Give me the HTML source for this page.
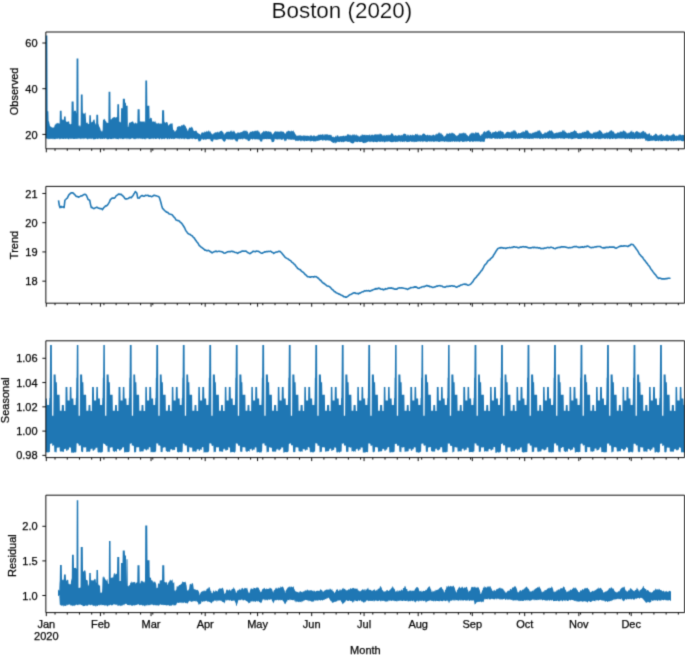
<!DOCTYPE html>
<html><head><meta charset="utf-8"><title>Boston (2020)</title>
<style>html,body{margin:0;padding:0;background:#fff;width:685px;height:655px;overflow:hidden}svg{display:block;will-change:transform}</style>
</head><body>
<svg width="685" height="655" viewBox="0 0 685 655">
<rect width="685" height="655" fill="#fff"/>
<defs>
<filter id="bl" x="0" y="0" width="685" height="655" filterUnits="userSpaceOnUse" color-interpolation-filters="sRGB"><feConvolveMatrix order="3" kernelMatrix="0.0225 0.1050 0.0225 0.1050 0.4900 0.1050 0.0225 0.1050 0.0225" divisor="1" edgeMode="none"/></filter>
<clipPath id="c0"><rect x="45.85" y="32.00" width="638.75" height="116.80"/></clipPath>
<clipPath id="c1"><rect x="45.85" y="186.40" width="638.75" height="116.80"/></clipPath>
<clipPath id="c2"><rect x="45.85" y="340.80" width="638.75" height="116.80"/></clipPath>
<clipPath id="c3"><rect x="45.85" y="495.20" width="638.75" height="117.40"/></clipPath>
</defs>
<g filter="url(#bl)">
<text x="341.9" y="18.2" font-family='"Liberation Sans", sans-serif' font-size="22.4" text-anchor="middle" fill="#000" stroke="#fff" stroke-width="0.2">Boston (2020)</text>
<path clip-path="url(#c0)" fill="#1f77b4" d="M45.85,35.50 L46.10,35.50 L46.35,35.50 L46.60,35.50 L46.85,35.50 L47.10,35.50 L47.35,35.50 L47.60,111.20 L47.85,111.20 L48.10,111.20 L48.35,111.20 L48.60,121.80 L48.85,120.91 L49.10,121.41 L49.35,123.21 L49.60,124.11 L49.85,125.58 L50.10,126.58 L50.35,126.30 L50.60,126.55 L50.85,126.53 L51.10,126.78 L51.35,127.00 L51.60,127.25 L51.85,127.46 L52.10,127.56 L52.35,127.74 L52.60,127.61 L52.85,127.58 L53.10,127.46 L53.35,127.41 L53.60,127.29 L53.85,127.87 L54.10,127.49 L54.35,126.42 L54.60,125.67 L54.85,124.65 L55.10,124.18 L55.35,124.73 L55.60,124.69 L55.85,123.42 L56.10,123.38 L56.35,123.25 L56.60,123.22 L56.85,123.90 L57.10,123.87 L57.35,122.92 L57.60,122.88 L57.85,122.83 L58.10,122.79 L58.35,123.52 L58.60,123.48 L58.85,123.37 L59.10,123.23 L59.35,123.67 L59.60,123.39 L59.85,110.70 L60.10,110.70 L60.35,110.70 L60.60,110.70 L60.85,110.70 L61.10,110.70 L61.35,110.70 L61.60,110.70 L61.85,119.39 L62.10,119.22 L62.35,119.51 L62.60,119.51 L62.85,120.31 L63.10,120.31 L63.35,119.52 L63.60,119.52 L63.85,119.79 L64.10,116.40 L64.35,116.40 L64.60,116.40 L64.85,116.40 L65.10,116.40 L65.35,116.40 L65.60,116.40 L65.85,120.92 L66.10,121.03 L66.35,122.01 L66.60,122.01 L66.85,121.42 L67.10,121.42 L67.35,121.96 L67.60,121.96 L67.85,121.62 L68.10,121.62 L68.35,121.79 L68.60,121.79 L68.85,120.75 L69.10,121.27 L69.35,123.29 L69.60,124.07 L69.85,124.01 L70.10,124.01 L70.35,124.59 L70.60,124.59 L70.85,123.78 L71.10,123.78 L71.35,124.16 L71.60,101.50 L71.85,101.50 L72.10,101.50 L72.35,101.50 L72.60,101.50 L72.85,101.50 L73.10,101.50 L73.35,101.50 L73.60,101.50 L73.85,112.51 L74.10,110.70 L74.35,110.70 L74.60,110.70 L74.85,110.70 L75.10,110.70 L75.35,110.70 L75.60,110.70 L75.85,110.70 L76.10,112.17 L76.35,113.81 L76.60,58.40 L76.85,58.40 L77.10,58.40 L77.35,58.40 L77.60,58.40 L77.85,58.40 L78.10,58.40 L78.35,58.40 L78.60,125.58 L78.85,125.84 L79.10,125.84 L79.35,125.35 L79.60,125.35 L79.85,126.75 L80.10,126.75 L80.35,125.54 L80.60,125.54 L80.85,94.60 L81.10,94.60 L81.35,94.60 L81.60,94.60 L81.85,94.60 L82.10,94.60 L82.35,94.60 L82.60,94.60 L82.85,112.69 L83.10,112.41 L83.35,113.55 L83.60,113.55 L83.85,113.71 L84.10,113.71 L84.35,113.65 L84.60,113.65 L84.85,113.11 L85.10,113.11 L85.35,112.43 L85.60,112.43 L85.85,117.01 L86.10,121.57 L86.35,122.92 L86.60,123.08 L86.85,122.65 L87.10,122.82 L87.35,122.39 L87.60,122.56 L87.85,123.85 L88.10,124.01 L88.35,123.79 L88.60,123.96 L88.85,124.01 L89.10,124.01 L89.35,115.30 L89.60,115.30 L89.85,115.30 L90.10,115.30 L90.35,115.30 L90.60,115.30 L90.85,115.30 L91.10,121.26 L91.35,122.60 L91.60,122.60 L91.85,121.95 L92.10,121.95 L92.35,122.08 L92.60,122.08 L92.85,120.72 L93.10,119.72 L93.35,120.40 L93.60,120.40 L93.85,119.24 L94.10,119.24 L94.35,119.80 L94.60,119.80 L94.85,121.75 L95.10,123.25 L95.35,123.40 L95.60,123.40 L95.85,124.75 L96.10,124.75 L96.35,114.70 L96.60,114.70 L96.85,114.70 L97.10,114.70 L97.35,114.70 L97.60,114.70 L97.85,114.70 L98.10,114.70 L98.35,123.75 L98.60,124.25 L98.85,125.27 L99.10,125.89 L99.35,126.67 L99.60,127.29 L99.85,127.39 L100.10,128.05 L100.35,129.01 L100.60,129.71 L100.85,130.80 L101.10,131.22 L101.35,131.45 L101.60,131.45 L101.85,130.24 L102.10,130.24 L102.35,131.49 L102.60,131.49 L102.85,122.88 L103.10,118.61 L103.35,119.80 L103.60,119.80 L103.85,119.90 L104.10,119.90 L104.35,118.82 L104.60,118.82 L104.85,119.27 L105.10,119.53 L105.35,120.81 L105.60,121.46 L105.85,120.83 L106.10,121.26 L106.35,122.35 L106.60,122.45 L106.85,122.81 L107.10,122.91 L107.35,122.56 L107.60,122.66 L107.85,123.10 L108.10,123.20 L108.35,122.50 L108.60,91.80 L108.85,91.80 L109.10,91.80 L109.35,91.80 L109.60,91.80 L109.85,91.80 L110.10,91.80 L110.35,91.80 L110.60,118.75 L110.85,119.72 L111.10,119.72 L111.35,119.12 L111.60,119.12 L111.85,118.74 L112.10,118.54 L112.35,117.93 L112.60,117.43 L112.85,118.02 L113.10,117.72 L113.35,116.91 L113.60,116.91 L113.85,117.77 L114.10,117.77 L114.35,117.02 L114.60,117.02 L114.85,117.03 L115.10,117.03 L115.35,117.63 L115.60,117.63 L115.85,117.39 L116.10,117.39 L116.35,117.13 L116.60,117.13 L116.85,116.88 L117.10,117.10 L117.35,104.30 L117.60,104.30 L117.85,104.30 L118.10,104.30 L118.35,104.30 L118.60,104.30 L118.85,104.30 L119.10,104.30 L119.35,121.69 L119.60,121.69 L119.85,121.83 L120.10,121.83 L120.35,122.52 L120.60,122.52 L120.85,121.40 L121.10,108.20 L121.35,108.20 L121.60,108.20 L121.85,108.20 L122.10,108.20 L122.35,108.20 L122.60,108.20 L122.85,98.80 L123.10,98.80 L123.35,98.80 L123.60,98.80 L123.85,98.80 L124.10,98.80 L124.35,98.80 L124.60,98.80 L124.85,98.80 L125.10,102.80 L125.35,102.80 L125.60,102.80 L125.85,102.80 L126.10,105.70 L126.35,105.70 L126.60,105.70 L126.85,105.70 L127.10,105.70 L127.35,105.70 L127.60,105.70 L127.85,126.97 L128.10,126.97 L128.35,126.77 L128.60,125.43 L128.85,123.95 L129.10,122.91 L129.35,122.90 L129.60,122.79 L129.85,122.12 L130.10,122.01 L130.35,122.95 L130.60,122.84 L130.85,121.94 L131.10,121.84 L131.35,121.99 L131.60,121.88 L131.85,121.78 L132.10,121.79 L132.35,121.26 L132.60,121.44 L132.85,121.44 L133.10,121.62 L133.35,122.37 L133.60,122.56 L133.85,123.31 L134.10,123.42 L134.35,123.48 L134.60,123.47 L134.85,123.32 L135.10,123.31 L135.35,122.31 L135.60,122.29 L135.85,123.56 L136.10,123.54 L136.35,123.35 L136.60,123.34 L136.85,123.45 L137.10,123.43 L137.35,122.85 L137.60,109.20 L137.85,109.20 L138.10,109.20 L138.35,109.20 L138.60,109.20 L138.85,109.20 L139.10,109.20 L139.35,109.20 L139.60,109.20 L139.85,121.40 L140.10,121.40 L140.35,121.40 L140.60,121.40 L140.85,121.30 L141.10,121.30 L141.35,121.91 L141.60,121.91 L141.85,121.06 L142.10,121.06 L142.35,121.94 L142.60,121.94 L142.85,121.27 L143.10,121.27 L143.35,122.08 L143.60,122.08 L143.85,121.03 L144.10,121.03 L144.35,121.50 L144.60,121.50 L144.85,122.50 L145.10,122.42 L145.35,80.50 L145.60,80.50 L145.85,80.50 L146.10,80.50 L146.35,80.50 L146.60,80.50 L146.85,80.50 L147.10,80.50 L147.35,105.70 L147.60,105.70 L147.85,105.70 L148.10,105.70 L148.35,105.70 L148.60,105.70 L148.85,105.70 L149.10,105.70 L149.35,105.70 L149.60,119.04 L149.85,118.87 L150.10,118.87 L150.35,117.58 L150.60,117.58 L150.85,118.04 L151.10,118.04 L151.35,118.01 L151.60,118.01 L151.85,119.23 L152.10,120.78 L152.35,121.60 L152.60,121.60 L152.85,121.88 L153.10,121.88 L153.35,121.10 L153.60,121.10 L153.85,121.98 L154.10,121.98 L154.35,121.88 L154.60,121.88 L154.85,120.81 L155.10,120.81 L155.35,121.83 L155.60,121.83 L155.85,122.96 L156.10,123.91 L156.35,122.82 L156.60,122.82 L156.85,123.42 L157.10,123.42 L157.35,123.52 L157.60,123.52 L157.85,123.47 L158.10,123.47 L158.35,122.65 L158.60,122.65 L158.85,123.56 L159.10,123.56 L159.35,123.51 L159.60,123.51 L159.85,123.82 L160.10,123.82 L160.35,123.79 L160.60,123.79 L160.85,123.02 L161.10,123.02 L161.35,123.66 L161.60,123.66 L161.85,123.89 L162.10,110.20 L162.35,110.20 L162.60,110.20 L162.85,110.20 L163.10,110.20 L163.35,110.20 L163.60,110.20 L163.85,110.20 L164.10,110.20 L164.35,121.84 L164.60,121.84 L164.85,122.40 L165.10,122.40 L165.35,123.01 L165.60,123.01 L165.85,122.11 L166.10,122.11 L166.35,121.90 L166.60,121.90 L166.85,122.23 L167.10,122.23 L167.35,122.55 L167.60,122.55 L167.85,123.85 L168.10,125.16 L168.35,125.61 L168.60,125.61 L168.85,125.21 L169.10,124.81 L169.35,124.66 L169.60,124.06 L169.85,124.33 L170.10,124.33 L170.35,123.60 L170.60,123.60 L170.85,123.59 L171.10,123.59 L171.35,123.86 L171.60,123.86 L171.85,123.34 L172.10,123.34 L172.35,123.40 L172.60,123.40 L172.85,127.28 L173.10,129.61 L173.35,130.01 L173.60,130.21 L173.85,129.81 L174.10,130.01 L174.35,131.28 L174.60,131.48 L174.85,131.41 L175.10,131.61 L175.35,131.36 L175.60,131.28 L175.85,130.42 L176.10,129.92 L176.35,130.52 L176.60,129.82 L176.85,127.81 L177.10,127.12 L177.35,126.90 L177.60,126.67 L177.85,126.44 L178.10,126.28 L178.35,126.11 L178.60,126.03 L178.85,127.27 L179.10,127.18 L179.35,126.08 L179.60,126.00 L179.85,125.97 L180.10,125.89 L180.35,126.65 L180.60,126.57 L180.85,126.14 L181.10,126.04 L181.35,125.20 L181.60,125.06 L181.85,125.32 L182.10,125.18 L182.35,125.76 L182.60,125.62 L182.85,124.66 L183.10,124.52 L183.35,124.92 L183.60,124.88 L183.85,124.01 L184.10,124.12 L184.35,125.25 L184.60,125.36 L184.85,125.55 L185.10,125.66 L185.35,125.85 L185.60,126.22 L185.85,126.73 L186.10,127.48 L186.35,127.74 L186.60,128.49 L186.85,128.75 L187.10,129.30 L187.35,130.28 L187.60,130.53 L187.85,131.16 L188.10,131.06 L188.35,129.53 L188.60,128.91 L188.85,128.40 L189.10,127.78 L189.35,127.58 L189.60,127.44 L189.85,127.75 L190.10,127.73 L190.35,127.94 L190.60,127.91 L190.85,126.66 L191.10,126.63 L191.35,126.70 L191.60,126.67 L191.85,127.63 L192.10,127.61 L192.35,127.34 L192.60,127.77 L192.85,128.44 L193.10,128.99 L193.35,129.98 L193.60,130.53 L193.85,130.99 L194.10,131.14 L194.35,131.04 L194.60,131.09 L194.85,131.03 L195.10,131.08 L195.35,130.52 L195.60,130.57 L195.85,131.02 L196.10,131.07 L196.35,130.39 L196.60,130.64 L196.85,131.86 L197.10,132.16 L197.35,132.45 L197.60,132.75 L197.85,132.99 L198.10,133.29 L198.35,133.15 L198.60,133.45 L198.85,133.65 L199.10,133.85 L199.35,134.09 L199.60,134.27 L199.85,133.83 L200.10,134.01 L200.35,135.37 L200.60,134.95 L200.85,134.05 L201.10,133.63 L201.35,132.97 L201.60,132.55 L201.85,132.47 L202.10,132.43 L202.35,132.66 L202.60,132.62 L202.85,132.04 L203.10,131.99 L203.35,132.67 L203.60,132.63 L203.85,132.73 L204.10,132.69 L204.35,131.79 L204.60,131.75 L204.85,131.30 L205.10,131.22 L205.35,132.13 L205.60,132.05 L205.85,132.34 L206.10,132.26 L206.35,130.82 L206.60,130.74 L206.85,131.56 L207.10,131.47 L207.35,131.57 L207.60,131.49 L207.85,131.59 L208.10,131.65 L208.35,130.43 L208.60,130.50 L208.85,130.51 L209.10,130.57 L209.35,132.07 L209.60,132.13 L209.85,130.85 L210.10,131.15 L210.35,131.54 L210.60,131.84 L210.85,132.78 L211.10,133.08 L211.35,133.17 L211.60,133.47 L211.85,134.26 L212.10,134.56 L212.35,133.87 L212.60,133.70 L212.85,134.70 L213.10,134.53 L213.35,133.25 L213.60,133.08 L213.85,133.81 L214.10,133.73 L214.35,132.52 L214.60,132.43 L214.85,133.00 L215.10,132.91 L215.35,132.12 L215.60,132.03 L215.85,132.40 L216.10,132.31 L216.35,132.22 L216.60,132.13 L216.85,132.70 L217.10,132.62 L217.35,132.11 L217.60,132.03 L217.85,131.31 L218.10,131.22 L218.35,132.64 L218.60,132.56 L218.85,132.31 L219.10,132.22 L219.35,132.18 L219.60,132.10 L219.85,130.99 L220.10,130.99 L220.35,131.23 L220.60,131.23 L220.85,130.96 L221.10,130.96 L221.35,130.80 L221.60,130.80 L221.85,130.65 L222.10,130.65 L222.35,131.63 L222.60,132.01 L222.85,131.77 L223.10,132.15 L223.35,132.61 L223.60,132.98 L223.85,134.45 L224.10,134.83 L224.35,134.22 L224.60,133.97 L224.85,133.24 L225.10,132.99 L225.35,133.52 L225.60,133.27 L225.85,132.38 L226.10,132.13 L226.35,132.29 L226.60,132.04 L226.85,131.53 L227.10,131.48 L227.35,131.81 L227.60,131.77 L227.85,131.91 L228.10,131.86 L228.35,131.67 L228.60,131.63 L228.85,131.36 L229.10,131.32 L229.35,131.91 L229.60,131.87 L229.85,131.97 L230.10,131.94 L230.35,130.80 L230.60,130.78 L230.85,130.68 L231.10,130.65 L231.35,130.59 L231.60,130.56 L231.85,131.92 L232.10,131.89 L232.35,131.80 L232.60,131.77 L232.85,130.61 L233.10,130.58 L233.35,131.74 L233.60,131.71 L233.85,130.46 L234.10,130.43 L234.35,131.29 L234.60,131.66 L234.85,132.02 L235.10,132.40 L235.35,133.44 L235.60,133.81 L235.85,132.79 L236.10,133.16 L236.35,133.45 L236.60,133.30 L236.85,133.61 L237.10,133.46 L237.35,132.46 L237.60,132.31 L237.85,132.43 L238.10,132.28 L238.35,132.49 L238.60,132.34 L238.85,132.95 L239.10,132.88 L239.35,132.63 L239.60,132.56 L239.85,132.61 L240.10,132.54 L240.35,132.37 L240.60,132.30 L240.85,132.16 L241.10,132.09 L241.35,132.25 L241.60,132.19 L241.85,131.86 L242.10,131.79 L242.35,131.82 L242.60,131.75 L242.85,130.97 L243.10,130.89 L243.35,130.60 L243.60,130.52 L243.85,131.38 L244.10,131.30 L244.35,130.27 L244.60,130.19 L244.85,131.32 L245.10,131.29 L245.35,130.81 L245.60,130.84 L245.85,130.45 L246.10,130.49 L246.35,131.50 L246.60,131.54 L246.85,130.33 L247.10,130.55 L247.35,131.62 L247.60,132.12 L247.85,131.95 L248.10,132.45 L248.35,134.34 L248.60,134.52 L248.85,133.58 L249.10,133.27 L249.35,133.32 L249.60,133.01 L249.85,131.86 L250.10,131.55 L250.35,132.07 L250.60,131.87 L250.85,131.69 L251.10,131.67 L251.35,131.55 L251.60,131.53 L251.85,131.99 L252.10,131.97 L252.35,131.12 L252.60,131.10 L252.85,131.04 L253.10,131.02 L253.35,131.44 L253.60,131.42 L253.85,131.62 L254.10,131.60 L254.35,130.78 L254.60,130.75 L254.85,131.27 L255.10,131.24 L255.35,130.48 L255.60,130.46 L255.85,130.98 L256.10,130.96 L256.35,131.28 L256.60,131.26 L256.85,130.11 L257.10,130.09 L257.35,131.13 L257.60,131.10 L257.85,129.94 L258.10,129.99 L258.35,131.68 L258.60,131.85 L258.85,131.24 L259.10,131.51 L259.35,131.81 L259.60,132.20 L259.85,133.09 L260.10,133.49 L260.35,133.57 L260.60,133.96 L260.85,134.69 L261.10,134.47 L261.35,133.06 L261.60,132.69 L261.85,133.08 L262.10,132.70 L262.35,132.32 L262.60,131.94 L262.85,132.17 L263.10,132.09 L263.35,130.66 L263.60,130.66 L263.85,131.32 L264.10,131.32 L264.35,131.61 L264.60,131.61 L264.85,131.48 L265.10,131.48 L265.35,130.72 L265.60,130.72 L265.85,131.55 L266.10,131.55 L266.35,130.96 L266.60,130.96 L266.85,130.91 L267.10,130.91 L267.35,132.01 L267.60,132.01 L267.85,130.92 L268.10,130.92 L268.35,131.33 L268.60,131.33 L268.85,131.80 L269.10,131.80 L269.35,131.73 L269.60,131.73 L269.85,131.49 L270.10,131.49 L270.35,131.89 L270.60,131.89 L270.85,131.42 L271.10,131.80 L271.35,132.42 L271.60,132.79 L271.85,133.49 L272.10,133.86 L272.35,134.01 L272.60,134.38 L272.85,134.55 L273.10,134.18 L273.35,133.42 L273.60,133.05 L273.85,132.92 L274.10,132.54 L274.35,131.91 L274.60,131.53 L274.85,131.79 L275.10,131.79 L275.35,131.21 L275.60,131.21 L275.85,131.35 L276.10,131.35 L276.35,131.81 L276.60,131.81 L276.85,131.41 L277.10,131.41 L277.35,131.14 L277.60,131.14 L277.85,131.92 L278.10,131.92 L278.35,131.21 L278.60,131.21 L278.85,131.95 L279.10,131.95 L279.35,131.86 L279.60,131.86 L279.85,131.32 L280.10,131.32 L280.35,131.74 L280.60,131.74 L280.85,130.66 L281.10,130.66 L281.35,131.22 L281.60,131.22 L281.85,131.98 L282.10,131.98 L282.35,131.53 L282.60,131.53 L282.85,131.49 L283.10,131.49 L283.35,131.66 L283.60,131.66 L283.85,131.98 L284.10,132.48 L284.35,132.83 L284.60,133.33 L284.85,133.57 L285.10,134.07 L285.35,133.63 L285.60,133.19 L285.85,132.93 L286.10,132.49 L286.35,132.06 L286.60,131.62 L286.85,131.40 L287.10,130.96 L287.35,131.70 L287.60,131.70 L287.85,130.66 L288.10,130.66 L288.35,130.82 L288.60,130.82 L288.85,130.69 L289.10,130.69 L289.35,131.03 L289.60,131.03 L289.85,131.62 L290.10,131.62 L290.35,131.52 L290.60,131.52 L290.85,130.70 L291.10,130.70 L291.35,130.53 L291.60,130.53 L291.85,131.52 L292.10,131.52 L292.35,130.89 L292.60,130.89 L292.85,131.20 L293.10,131.20 L293.35,130.22 L293.60,130.22 L293.85,131.80 L294.10,132.33 L294.35,131.97 L294.60,132.50 L294.85,133.31 L295.10,133.84 L295.35,133.89 L295.60,134.42 L295.85,134.85 L296.10,134.92 L296.35,135.65 L296.60,135.72 L296.85,135.80 L297.10,135.87 L297.35,135.38 L297.60,135.46 L297.85,135.94 L298.10,135.94 L298.35,135.46 L298.60,135.47 L298.85,135.34 L299.10,135.35 L299.35,135.63 L299.60,135.64 L299.85,135.09 L300.10,135.10 L300.35,135.30 L300.60,135.30 L300.85,135.94 L301.10,135.94 L301.35,136.05 L301.60,136.06 L301.85,134.93 L302.10,134.94 L302.35,136.03 L302.60,136.03 L302.85,136.18 L303.10,136.19 L303.35,135.60 L303.60,135.61 L303.85,135.00 L304.10,135.01 L304.35,136.01 L304.60,136.02 L304.85,135.33 L305.10,135.34 L305.35,135.98 L305.60,135.99 L305.85,135.57 L306.10,135.58 L306.35,136.00 L306.60,136.01 L306.85,135.41 L307.10,135.42 L307.35,135.78 L307.60,135.79 L307.85,135.87 L308.10,135.88 L308.35,136.06 L308.60,136.06 L308.85,135.39 L309.10,135.40 L309.35,136.62 L309.60,136.63 L309.85,135.56 L310.10,135.56 L310.35,135.59 L310.60,135.59 L310.85,135.51 L311.10,135.51 L311.35,135.21 L311.60,135.21 L311.85,135.78 L312.10,135.78 L312.35,136.33 L312.60,136.33 L312.85,136.24 L313.10,136.24 L313.35,135.41 L313.60,135.41 L313.85,135.32 L314.10,135.32 L314.35,135.61 L314.60,135.61 L314.85,136.33 L315.10,136.33 L315.35,135.88 L315.60,135.88 L315.85,136.58 L316.10,136.53 L316.35,135.98 L316.60,135.85 L316.85,135.67 L317.10,135.54 L317.35,135.65 L317.60,135.53 L317.85,135.38 L318.10,135.30 L318.35,134.65 L318.60,134.65 L318.85,134.51 L319.10,134.51 L319.35,134.80 L319.60,134.80 L319.85,134.88 L320.10,134.88 L320.35,134.33 L320.60,134.33 L320.85,134.81 L321.10,134.81 L321.35,135.12 L321.60,135.12 L321.85,134.32 L322.10,134.32 L322.35,134.32 L322.60,134.32 L322.85,134.38 L323.10,134.38 L323.35,134.55 L323.60,134.55 L323.85,135.64 L324.10,135.64 L324.35,134.14 L324.60,134.14 L324.85,134.39 L325.10,134.39 L325.35,134.36 L325.60,134.36 L325.85,134.86 L326.10,134.86 L326.35,134.12 L326.60,134.12 L326.85,134.83 L327.10,134.83 L327.35,134.36 L327.60,134.36 L327.85,134.53 L328.10,134.53 L328.35,135.37 L328.60,135.37 L328.85,134.39 L329.10,134.39 L329.35,135.09 L329.60,135.09 L329.85,134.75 L330.10,134.75 L330.35,134.77 L330.60,134.77 L330.85,135.41 L331.10,135.58 L331.35,134.75 L331.60,134.96 L331.85,136.40 L332.10,136.61 L332.35,136.78 L332.60,137.00 L332.85,136.85 L333.10,137.07 L333.35,136.29 L333.60,136.51 L333.85,137.62 L334.10,137.44 L334.35,137.15 L334.60,136.96 L334.85,137.05 L335.10,136.86 L335.35,135.78 L335.60,135.59 L335.85,136.63 L336.10,136.63 L336.35,136.52 L336.60,136.52 L336.85,135.28 L337.10,135.28 L337.35,135.60 L337.60,135.60 L337.85,135.15 L338.10,135.15 L338.35,136.43 L338.60,136.43 L338.85,136.56 L339.10,136.56 L339.35,136.68 L339.60,136.68 L339.85,136.08 L340.10,136.08 L340.35,136.17 L340.60,136.17 L340.85,136.19 L341.10,136.19 L341.35,136.01 L341.60,136.01 L341.85,136.62 L342.10,136.62 L342.35,136.07 L342.60,136.07 L342.85,135.64 L343.10,135.64 L343.35,135.92 L343.60,135.92 L343.85,135.13 L344.10,135.13 L344.35,136.26 L344.60,136.26 L344.85,136.19 L345.10,136.11 L345.35,135.58 L345.60,135.50 L345.85,136.10 L346.10,136.01 L346.35,135.77 L346.60,135.69 L346.85,134.93 L347.10,134.85 L347.35,134.34 L347.60,134.26 L347.85,134.31 L348.10,134.31 L348.35,134.39 L348.60,134.39 L348.85,134.59 L349.10,134.59 L349.35,134.82 L349.60,134.82 L349.85,135.58 L350.10,135.58 L350.35,134.55 L350.60,134.55 L350.85,135.54 L351.10,135.54 L351.35,135.19 L351.60,135.19 L351.85,135.47 L352.10,135.47 L352.35,134.75 L352.60,134.75 L352.85,134.11 L353.10,134.11 L353.35,135.36 L353.60,135.36 L353.85,134.49 L354.10,134.49 L354.35,134.33 L354.60,134.33 L354.85,135.38 L355.10,135.38 L355.35,135.20 L355.60,135.20 L355.85,134.44 L356.10,134.44 L356.35,134.53 L356.60,134.53 L356.85,135.70 L357.10,135.87 L357.35,134.96 L357.60,135.13 L357.85,135.99 L358.10,136.16 L358.35,135.41 L358.60,135.57 L358.85,136.84 L359.10,137.00 L359.35,136.05 L359.60,136.22 L359.85,136.77 L360.10,136.50 L360.35,135.47 L360.60,135.21 L360.85,135.77 L361.10,135.51 L361.35,135.72 L361.60,135.45 L361.85,134.24 L362.10,134.24 L362.35,134.54 L362.60,134.54 L362.85,135.32 L363.10,135.32 L363.35,135.07 L363.60,135.07 L363.85,134.60 L364.10,134.60 L364.35,135.11 L364.60,135.11 L364.85,134.83 L365.10,134.83 L365.35,135.48 L365.60,135.48 L365.85,134.57 L366.10,134.57 L366.35,135.31 L366.60,135.31 L366.85,135.12 L367.10,135.12 L367.35,135.28 L367.60,135.28 L367.85,134.71 L368.10,134.71 L368.35,135.26 L368.60,135.26 L368.85,135.22 L369.10,135.22 L369.35,134.72 L369.60,134.72 L369.85,134.14 L370.10,134.14 L370.35,135.64 L370.60,135.64 L370.85,135.24 L371.10,135.24 L371.35,134.43 L371.60,134.43 L371.85,135.27 L372.10,135.27 L372.35,134.55 L372.60,134.55 L372.85,134.85 L373.10,134.85 L373.35,135.48 L373.60,135.48 L373.85,134.82 L374.10,134.82 L374.35,134.56 L374.60,134.56 L374.85,134.59 L375.10,134.59 L375.35,134.22 L375.60,134.22 L375.85,134.45 L376.10,134.45 L376.35,134.53 L376.60,134.53 L376.85,134.38 L377.10,134.38 L377.35,134.20 L377.60,134.20 L377.85,134.85 L378.10,134.77 L378.35,134.18 L378.60,133.99 L378.85,134.64 L379.10,134.46 L379.35,134.56 L379.60,134.38 L379.85,133.15 L380.10,133.13 L380.35,133.83 L380.60,134.06 L380.85,134.18 L381.10,134.40 L381.35,133.94 L381.60,134.16 L381.85,134.46 L382.10,134.60 L382.35,135.82 L382.60,135.82 L382.85,135.16 L383.10,135.16 L383.35,135.69 L383.60,135.69 L383.85,134.51 L384.10,134.51 L384.35,135.35 L384.60,135.35 L384.85,135.78 L385.10,135.78 L385.35,135.79 L385.60,135.79 L385.85,134.41 L386.10,134.41 L386.35,135.23 L386.60,135.23 L386.85,134.99 L387.10,134.99 L387.35,135.62 L387.60,135.62 L387.85,134.52 L388.10,134.52 L388.35,134.82 L388.60,134.82 L388.85,135.70 L389.10,135.65 L389.35,134.97 L389.60,134.84 L389.85,134.69 L390.10,134.56 L390.35,135.25 L390.60,135.12 L390.85,133.95 L391.10,133.83 L391.35,133.25 L391.60,133.12 L391.85,133.55 L392.10,133.68 L392.35,133.49 L392.60,133.68 L392.85,133.75 L393.10,133.95 L393.35,134.91 L393.60,135.10 L393.85,135.91 L394.10,136.03 L394.35,135.43 L394.60,135.43 L394.85,135.54 L395.10,135.54 L395.35,135.02 L395.60,135.02 L395.85,135.41 L396.10,135.41 L396.35,135.70 L396.60,135.70 L396.85,135.44 L397.10,135.44 L397.35,135.78 L397.60,135.78 L397.85,135.38 L398.10,135.38 L398.35,134.82 L398.60,134.82 L398.85,135.43 L399.10,135.43 L399.35,135.29 L399.60,135.29 L399.85,134.77 L400.10,134.77 L400.35,135.49 L400.60,135.49 L400.85,135.81 L401.10,135.81 L401.35,134.72 L401.60,134.72 L401.85,135.37 L402.10,135.30 L402.35,135.44 L402.60,135.27 L402.85,134.57 L403.10,134.40 L403.35,134.02 L403.60,133.85 L403.85,133.84 L404.10,133.67 L404.35,133.77 L404.60,133.60 L404.85,133.74 L405.10,133.94 L405.35,133.94 L405.60,134.15 L405.85,133.63 L406.10,133.83 L406.35,135.18 L406.60,135.38 L406.85,135.76 L407.10,135.88 L407.35,134.56 L407.60,134.56 L407.85,134.80 L408.10,134.80 L408.35,134.68 L408.60,134.68 L408.85,135.76 L409.10,135.76 L409.35,135.86 L409.60,135.86 L409.85,134.47 L410.10,134.47 L410.35,134.93 L410.60,134.93 L410.85,134.71 L411.10,134.71 L411.35,135.15 L411.60,135.15 L411.85,135.87 L412.10,135.87 L412.35,134.51 L412.60,134.51 L412.85,134.67 L413.10,134.67 L413.35,135.18 L413.60,135.18 L413.85,135.24 L414.10,135.18 L414.35,135.40 L414.60,135.26 L414.85,134.63 L415.10,134.49 L415.35,133.88 L415.60,133.74 L415.85,133.94 L416.10,133.80 L416.35,134.67 L416.60,134.53 L416.85,134.21 L417.10,134.38 L417.35,133.54 L417.60,133.71 L417.85,134.99 L418.10,135.17 L418.35,134.55 L418.60,134.72 L418.85,135.65 L419.10,135.75 L419.35,134.51 L419.60,134.50 L419.85,135.86 L420.10,135.85 L420.35,134.71 L420.60,134.70 L420.85,135.16 L421.10,135.15 L421.35,135.46 L421.60,135.40 L421.85,135.01 L422.10,134.86 L422.35,134.16 L422.60,134.01 L422.85,133.82 L423.10,133.68 L423.35,133.76 L423.60,133.61 L423.85,133.28 L424.10,133.43 L424.35,133.84 L424.60,133.99 L424.85,134.01 L425.10,134.16 L425.35,134.85 L425.60,135.00 L425.85,134.98 L426.10,135.07 L426.35,135.43 L426.60,135.42 L426.85,134.92 L427.10,134.91 L427.35,134.51 L427.60,134.50 L427.85,134.97 L428.10,134.96 L428.35,135.63 L428.60,135.62 L428.85,134.81 L429.10,134.81 L429.35,135.04 L429.60,135.03 L429.85,135.58 L430.10,135.57 L430.35,135.01 L430.60,135.00 L430.85,135.76 L431.10,135.75 L431.35,135.79 L431.60,135.78 L431.85,134.80 L432.10,134.79 L432.35,135.47 L432.60,135.46 L432.85,134.68 L433.10,134.67 L433.35,134.48 L433.60,134.47 L433.85,134.94 L434.10,134.93 L434.35,135.19 L434.60,135.18 L434.85,135.70 L435.10,135.64 L435.35,134.23 L435.60,134.08 L435.85,134.84 L436.10,134.70 L436.35,134.17 L436.60,134.03 L436.85,133.33 L437.10,133.19 L437.35,134.39 L437.60,134.24 L437.85,133.65 L438.10,133.50 L438.35,132.45 L438.60,132.31 L438.85,133.62 L439.10,133.70 L439.35,132.48 L439.60,132.56 L439.85,132.61 L440.10,132.69 L440.35,133.14 L440.60,133.21 L440.85,134.26 L441.10,134.33 L441.35,132.96 L441.60,133.03 L441.85,134.52 L442.10,134.72 L442.35,134.60 L442.60,134.98 L442.85,134.48 L443.10,134.86 L443.35,136.03 L443.60,136.41 L443.85,136.61 L444.10,136.72 L444.35,136.59 L444.60,136.30 L444.85,136.29 L445.10,136.00 L445.35,135.61 L445.60,135.32 L445.85,135.54 L446.10,135.25 L446.35,133.61 L446.60,133.32 L446.85,134.08 L447.10,133.89 L447.35,133.21 L447.60,133.17 L447.85,133.73 L448.10,133.70 L448.35,133.83 L448.60,133.80 L448.85,133.92 L449.10,133.89 L449.35,132.69 L449.60,132.65 L449.85,132.92 L450.10,132.88 L450.35,133.63 L450.60,133.59 L450.85,133.56 L451.10,133.53 L451.35,132.58 L451.60,132.54 L451.85,133.41 L452.10,133.47 L452.35,132.70 L452.60,132.78 L452.85,132.82 L453.10,132.90 L453.35,133.59 L453.60,133.68 L453.85,133.30 L454.10,133.48 L454.35,133.75 L454.60,134.07 L454.85,134.28 L455.10,134.59 L455.35,134.98 L455.60,135.29 L455.85,135.14 L456.10,135.45 L456.35,135.64 L456.60,135.50 L456.85,136.36 L457.10,136.11 L457.35,135.55 L457.60,135.30 L457.85,135.23 L458.10,134.98 L458.35,134.93 L458.60,134.68 L458.85,133.52 L459.10,133.43 L459.35,133.40 L459.60,133.36 L459.85,133.38 L460.10,133.34 L460.35,133.34 L460.60,133.30 L460.85,133.99 L461.10,133.94 L461.35,133.28 L461.60,133.24 L461.85,133.12 L462.10,133.07 L462.35,133.53 L462.60,133.49 L462.85,132.73 L463.10,132.69 L463.35,132.52 L463.60,132.47 L463.85,133.38 L464.10,133.33 L464.35,133.39 L464.60,133.34 L464.85,132.62 L465.10,132.82 L465.35,133.58 L465.60,133.78 L465.85,133.03 L466.10,133.26 L466.35,134.13 L466.60,134.40 L466.85,134.95 L467.10,135.22 L467.35,134.97 L467.60,135.24 L467.85,135.67 L468.10,135.94 L468.35,136.52 L468.60,136.22 L468.85,135.88 L469.10,135.58 L469.35,134.59 L469.60,134.29 L469.85,134.87 L470.10,134.57 L470.35,133.27 L470.60,132.97 L470.85,134.14 L471.10,134.10 L471.35,132.83 L471.60,132.79 L471.85,132.83 L472.10,132.79 L472.35,132.66 L472.60,132.62 L472.85,133.84 L473.10,133.80 L473.35,132.63 L473.60,132.59 L473.85,133.06 L474.10,133.02 L474.35,133.59 L474.60,133.55 L474.85,133.45 L475.10,133.40 L475.35,131.91 L475.60,131.87 L475.85,132.59 L476.10,132.55 L476.35,132.64 L476.60,132.60 L476.85,132.75 L477.10,132.88 L477.35,132.43 L477.60,132.56 L477.85,132.68 L478.10,132.81 L478.35,132.42 L478.60,132.55 L478.85,132.88 L479.10,133.26 L479.35,134.46 L479.60,134.83 L479.85,134.45 L480.10,134.82 L480.35,135.40 L480.60,135.77 L480.85,135.91 L481.10,135.53 L481.35,134.74 L481.60,134.36 L481.85,133.92 L482.10,133.55 L482.35,134.61 L482.60,134.23 L482.85,133.07 L483.10,132.70 L483.35,131.95 L483.60,131.58 L483.85,132.21 L484.10,132.16 L484.35,131.00 L484.60,130.95 L484.85,131.28 L485.10,131.24 L485.35,132.34 L485.60,132.29 L485.85,132.15 L486.10,132.10 L486.35,131.64 L486.60,131.59 L486.85,130.68 L487.10,130.63 L487.35,130.95 L487.60,130.90 L487.85,130.39 L488.10,130.34 L488.35,130.61 L488.60,130.56 L488.85,130.20 L489.10,130.16 L489.35,130.49 L489.60,130.80 L489.85,131.93 L490.10,132.20 L490.35,131.57 L490.60,131.79 L490.85,132.10 L491.10,132.32 L491.35,133.74 L491.60,133.96 L491.85,133.02 L492.10,132.82 L492.35,132.62 L492.60,132.42 L492.85,131.83 L493.10,131.63 L493.35,132.57 L493.60,132.37 L493.85,132.15 L494.10,132.12 L494.35,131.88 L494.60,131.85 L494.85,131.93 L495.10,131.90 L495.35,131.04 L495.60,131.01 L495.85,131.24 L496.10,131.20 L496.35,131.69 L496.60,131.66 L496.85,132.22 L497.10,132.19 L497.35,131.94 L497.60,131.91 L497.85,131.59 L498.10,131.56 L498.35,131.34 L498.60,131.31 L498.85,130.47 L499.10,130.44 L499.35,131.81 L499.60,131.78 L499.85,130.43 L500.10,130.39 L500.35,130.46 L500.60,130.43 L500.85,131.30 L501.10,131.27 L501.35,131.43 L501.60,131.40 L501.85,131.61 L502.10,131.86 L502.35,131.57 L502.60,131.82 L502.85,131.63 L503.10,131.88 L503.35,131.91 L503.60,132.16 L503.85,133.71 L504.10,133.96 L504.35,134.41 L504.60,134.66 L504.85,133.29 L505.10,133.10 L505.35,133.89 L505.60,133.70 L505.85,132.76 L506.10,132.56 L506.35,132.22 L506.60,132.08 L506.85,132.36 L507.10,132.32 L507.35,131.49 L507.60,131.46 L507.85,132.12 L508.10,132.08 L508.35,131.66 L508.60,131.62 L508.85,132.40 L509.10,132.37 L509.35,132.00 L509.60,131.96 L509.85,132.51 L510.10,132.48 L510.35,132.48 L510.60,132.44 L510.85,131.48 L511.10,131.44 L511.35,131.35 L511.60,131.31 L511.85,132.33 L512.10,132.25 L512.35,131.44 L512.60,131.32 L512.85,130.55 L513.10,130.43 L513.35,130.23 L513.60,130.11 L513.85,131.50 L514.10,131.38 L514.35,130.60 L514.60,130.56 L514.85,129.80 L515.10,129.89 L515.35,130.91 L515.60,131.19 L515.85,131.47 L516.10,131.76 L516.35,131.94 L516.60,132.23 L516.85,133.34 L517.10,133.63 L517.35,133.91 L517.60,134.20 L517.85,132.95 L518.10,132.87 L518.35,132.83 L518.60,132.75 L518.85,133.08 L519.10,133.00 L519.35,133.60 L519.60,133.52 L519.85,133.10 L520.10,133.02 L520.35,133.11 L520.60,133.03 L520.85,132.71 L521.10,132.62 L521.35,131.96 L521.60,131.88 L521.85,132.77 L522.10,132.69 L522.35,131.32 L522.60,131.24 L522.85,132.26 L523.10,132.18 L523.35,131.29 L523.60,131.21 L523.85,131.57 L524.10,131.46 L524.35,132.14 L524.60,132.02 L524.85,131.21 L525.10,131.09 L525.35,130.20 L525.60,130.08 L525.85,130.55 L526.10,130.43 L526.35,130.68 L526.60,130.72 L526.85,129.84 L527.10,130.01 L527.35,130.61 L527.60,130.90 L527.85,130.81 L528.10,131.10 L528.35,132.22 L528.60,132.51 L528.85,132.54 L529.10,132.83 L529.35,133.32 L529.60,133.61 L529.85,133.20 L530.10,133.12 L530.35,133.63 L530.60,133.55 L530.85,132.70 L531.10,132.63 L531.35,133.73 L531.60,133.65 L531.85,133.66 L532.10,133.59 L532.35,132.77 L532.60,132.69 L532.85,132.57 L533.10,132.50 L533.35,133.06 L533.60,132.98 L533.85,132.00 L534.10,131.92 L534.35,132.67 L534.60,132.59 L534.85,131.69 L535.10,131.62 L535.35,132.24 L535.60,132.16 L535.85,131.47 L536.10,131.39 L536.35,131.74 L536.60,131.62 L536.85,132.02 L537.10,131.90 L537.35,130.38 L537.60,130.26 L537.85,131.35 L538.10,131.23 L538.35,130.68 L538.60,130.56 L538.85,130.22 L539.10,130.31 L539.35,130.34 L539.60,130.59 L539.85,130.43 L540.10,130.72 L540.35,131.31 L540.60,131.60 L540.85,132.47 L541.10,132.76 L541.35,132.21 L541.60,132.49 L541.85,133.70 L542.10,133.84 L542.35,134.23 L542.60,134.15 L542.85,134.10 L543.10,134.01 L543.35,133.79 L543.60,133.71 L543.85,133.49 L544.10,133.41 L544.35,132.33 L544.60,132.25 L544.85,133.43 L545.10,133.35 L545.35,132.04 L545.60,131.96 L545.85,132.95 L546.10,132.87 L546.35,132.80 L546.60,132.72 L546.85,132.23 L547.10,132.15 L547.35,131.91 L547.60,131.83 L547.85,131.23 L548.10,131.15 L548.35,131.56 L548.60,131.44 L548.85,130.95 L549.10,130.83 L549.35,130.45 L549.60,130.33 L549.85,130.21 L550.10,130.09 L550.35,131.05 L550.60,130.93 L550.85,131.13 L551.10,131.21 L551.35,130.08 L551.60,130.37 L551.85,130.46 L552.10,130.74 L552.35,131.43 L552.60,131.72 L552.85,131.80 L553.10,132.09 L553.35,132.47 L553.60,132.76 L553.85,133.68 L554.10,133.68 L554.35,133.35 L554.60,133.28 L554.85,133.22 L555.10,133.15 L555.35,132.73 L555.60,132.66 L555.85,133.32 L556.10,133.25 L556.35,132.58 L556.60,132.51 L556.85,132.62 L557.10,132.55 L557.35,132.58 L557.60,132.51 L557.85,133.15 L558.10,133.08 L558.35,131.96 L558.60,131.89 L558.85,132.57 L559.10,132.51 L559.35,131.78 L559.60,131.71 L559.85,132.58 L560.10,132.51 L560.35,131.64 L560.60,131.57 L560.85,131.68 L561.10,131.61 L561.35,132.08 L561.60,131.96 L561.85,131.52 L562.10,131.40 L562.35,130.35 L562.60,130.23 L562.85,130.18 L563.10,130.06 L563.35,131.31 L563.60,131.19 L563.85,129.73 L564.10,129.81 L564.35,130.45 L564.60,130.74 L564.85,132.08 L565.10,132.37 L565.35,131.15 L565.60,131.44 L565.85,131.96 L566.10,132.25 L566.35,132.62 L566.60,132.91 L566.85,132.92 L567.10,132.83 L567.35,133.36 L567.60,133.27 L567.85,133.38 L568.10,133.29 L568.35,132.77 L568.60,132.68 L568.85,132.25 L569.10,132.17 L569.35,133.20 L569.60,133.12 L569.85,133.02 L570.10,132.93 L570.35,132.45 L570.60,132.37 L570.85,131.60 L571.10,131.51 L571.35,132.07 L571.60,131.98 L571.85,132.04 L572.10,131.95 L572.35,131.54 L572.60,131.44 L572.85,132.01 L573.10,131.89 L573.35,131.02 L573.60,130.90 L573.85,130.97 L574.10,130.85 L574.35,130.09 L574.60,129.97 L574.85,130.57 L575.10,130.54 L575.35,130.94 L575.60,131.03 L575.85,131.26 L576.10,131.55 L576.35,131.08 L576.60,131.37 L576.85,132.83 L577.10,133.12 L577.35,132.97 L577.60,133.26 L577.85,133.07 L578.10,133.36 L578.35,133.42 L578.60,133.34 L578.85,133.85 L579.10,133.78 L579.35,132.74 L579.60,132.66 L579.85,133.33 L580.10,133.26 L580.35,133.31 L580.60,133.23 L580.85,132.84 L581.10,132.76 L581.35,133.26 L581.60,133.18 L581.85,132.46 L582.10,132.39 L582.35,132.31 L582.60,132.23 L582.85,131.87 L583.10,131.79 L583.35,132.73 L583.60,132.66 L583.85,131.62 L584.10,131.54 L584.35,132.08 L584.60,132.00 L584.85,131.47 L585.10,131.36 L585.35,132.08 L585.60,131.96 L585.85,131.86 L586.10,131.74 L586.35,130.15 L586.60,130.03 L586.85,131.46 L587.10,131.34 L587.35,130.59 L587.60,130.63 L587.85,129.87 L588.10,130.03 L588.35,131.00 L588.60,131.29 L588.85,130.86 L589.10,131.15 L589.35,132.24 L589.60,132.52 L589.85,132.23 L590.10,132.52 L590.35,133.10 L590.60,133.39 L590.85,133.21 L591.10,133.14 L591.35,133.54 L591.60,133.47 L591.85,133.74 L592.10,133.67 L592.35,133.78 L592.60,133.70 L592.85,132.65 L593.10,132.58 L593.35,132.89 L593.60,132.82 L593.85,131.84 L594.10,131.76 L594.35,132.28 L594.60,132.20 L594.85,133.07 L595.10,132.99 L595.35,131.57 L595.60,131.50 L595.85,132.62 L596.10,132.55 L596.35,132.13 L596.60,132.05 L596.85,131.40 L597.10,131.33 L597.35,132.02 L597.60,131.90 L597.85,131.00 L598.10,130.88 L598.35,131.73 L598.60,131.61 L598.85,130.19 L599.10,130.07 L599.35,130.01 L599.60,129.89 L599.85,130.82 L600.10,130.90 L600.35,130.50 L600.60,130.75 L600.85,130.56 L601.10,130.84 L601.35,131.72 L601.60,132.01 L601.85,131.95 L602.10,132.24 L602.35,132.93 L602.60,133.22 L602.85,133.82 L603.10,133.96 L603.35,134.06 L603.60,133.98 L603.85,132.62 L604.10,132.54 L604.35,133.31 L604.60,133.23 L604.85,133.78 L605.10,133.70 L605.35,132.78 L605.60,132.70 L605.85,133.11 L606.10,133.03 L606.35,131.87 L606.60,131.79 L606.85,132.96 L607.10,132.88 L607.35,132.33 L607.60,132.25 L607.85,132.66 L608.10,132.58 L608.35,132.33 L608.60,132.25 L608.85,132.30 L609.10,132.22 L609.35,130.82 L609.60,130.70 L609.85,131.63 L610.10,131.51 L610.35,130.56 L610.60,130.44 L610.85,130.43 L611.10,130.31 L611.35,130.29 L611.60,130.17 L611.85,130.60 L612.10,130.68 L612.35,130.86 L612.60,131.15 L612.85,131.92 L613.10,132.21 L613.35,131.03 L613.60,131.32 L613.85,131.90 L614.10,132.19 L614.35,132.74 L614.60,133.03 L614.85,134.05 L615.10,134.05 L615.35,133.54 L615.60,133.47 L615.85,133.33 L616.10,133.26 L616.35,133.58 L616.60,133.50 L616.85,133.26 L617.10,133.18 L617.35,132.52 L617.60,132.45 L617.85,132.05 L618.10,131.97 L618.35,132.49 L618.60,132.42 L618.85,133.01 L619.10,132.94 L619.35,132.41 L619.60,132.33 L619.85,131.39 L620.10,131.31 L620.35,131.85 L620.60,131.78 L620.85,131.61 L621.10,131.54 L621.35,131.78 L621.60,131.68 L621.85,131.57 L622.10,131.45 L622.35,131.91 L622.60,131.79 L622.85,130.69 L623.10,130.57 L623.35,130.56 L623.60,130.44 L623.85,130.65 L624.10,130.61 L624.35,131.13 L624.60,131.22 L624.85,131.17 L625.10,131.41 L625.35,131.27 L625.60,131.51 L625.85,132.30 L626.10,132.54 L626.35,132.25 L626.60,132.49 L626.85,133.50 L627.10,133.99 L627.35,133.17 L627.60,133.02 L627.85,132.63 L628.10,132.49 L628.35,133.47 L628.60,133.32 L628.85,132.33 L629.10,132.18 L629.35,132.92 L629.60,132.78 L629.85,132.25 L630.10,132.11 L630.35,131.80 L630.60,131.66 L630.85,130.84 L631.10,130.70 L631.35,131.67 L631.60,131.53 L631.85,130.23 L632.10,130.37 L632.35,132.00 L632.60,132.20 L632.85,132.26 L633.10,132.46 L633.35,131.74 L633.60,131.94 L633.85,131.86 L634.10,132.06 L634.35,133.48 L634.60,133.38 L634.85,132.57 L635.10,132.40 L635.35,131.67 L635.60,131.50 L635.85,131.93 L636.10,131.76 L636.35,131.19 L636.60,131.03 L636.85,131.12 L637.10,130.95 L637.35,131.16 L637.60,131.29 L637.85,131.94 L638.10,132.15 L638.35,132.17 L638.60,132.38 L638.85,131.57 L639.10,131.77 L639.35,132.49 L639.60,132.70 L639.85,132.86 L640.10,132.72 L640.35,133.37 L640.60,133.23 L640.85,131.64 L641.10,131.50 L641.35,132.03 L641.60,131.89 L641.85,132.39 L642.10,132.25 L642.35,131.28 L642.60,131.14 L642.85,130.78 L643.10,130.63 L643.35,131.03 L643.60,131.25 L643.85,131.08 L644.10,131.30 L644.35,132.48 L644.60,132.70 L644.85,131.56 L645.10,131.78 L645.35,132.19 L645.60,132.40 L645.85,132.42 L646.10,132.63 L646.35,133.85 L646.60,134.07 L646.85,133.56 L647.10,133.49 L647.35,134.40 L647.60,134.34 L647.85,134.27 L648.10,134.20 L648.35,134.21 L648.60,134.15 L648.85,133.05 L649.10,133.24 L649.35,133.02 L649.60,133.21 L649.85,134.03 L650.10,134.22 L650.35,135.33 L650.60,135.52 L650.85,135.39 L651.10,135.59 L651.35,134.65 L651.60,134.84 L651.85,136.00 L652.10,135.89 L652.35,136.11 L652.60,136.00 L652.85,135.96 L653.10,135.85 L653.35,135.33 L653.60,135.21 L653.85,135.33 L654.10,135.22 L654.35,135.07 L654.60,134.95 L654.85,134.07 L655.10,133.95 L655.35,133.42 L655.60,133.30 L655.85,134.34 L656.10,134.46 L656.35,133.64 L656.60,133.77 L656.85,134.29 L657.10,134.41 L657.35,135.52 L657.60,135.64 L657.85,135.07 L658.10,135.20 L658.35,135.26 L658.60,135.38 L658.85,136.00 L659.10,135.82 L659.35,134.57 L659.60,134.38 L659.85,135.34 L660.10,135.15 L660.35,134.82 L660.60,134.63 L660.85,133.78 L661.10,133.95 L661.35,134.06 L661.60,134.22 L661.85,134.07 L662.10,134.24 L662.35,135.67 L662.60,135.83 L662.85,134.83 L663.10,135.00 L663.35,134.88 L663.60,135.05 L663.85,136.49 L664.10,136.42 L664.35,135.89 L664.60,135.83 L664.85,135.88 L665.10,135.82 L665.35,135.85 L665.60,135.79 L665.85,134.62 L666.10,134.55 L666.35,134.57 L666.60,134.50 L666.85,135.09 L667.10,135.03 L667.35,134.24 L667.60,134.18 L667.85,134.99 L668.10,135.07 L668.35,135.53 L668.60,135.61 L668.85,135.57 L669.10,135.65 L669.35,135.67 L669.60,135.75 L669.85,134.92 L670.10,135.01 L670.35,135.40 L670.60,135.48 L670.85,136.37 L671.10,136.20 L671.35,134.80 L671.60,134.63 L671.85,135.12 L672.10,134.95 L672.35,134.01 L672.60,133.85 L672.85,135.10 L673.10,134.94 L673.35,133.54 L673.60,133.37 L673.85,133.92 L674.10,134.09 L674.35,134.47 L674.60,134.64 L674.85,135.08 L675.10,135.25 L675.35,135.77 L675.60,135.93 L675.85,135.78 L676.10,135.94 L676.35,135.49 L676.60,135.66 L676.85,135.13 L677.10,135.03 L677.35,135.95 L677.60,135.86 L677.85,136.19 L678.10,136.09 L678.35,134.47 L678.60,134.38 L678.85,135.50 L679.10,135.40 L679.35,134.35 L679.60,134.26 L679.85,134.62 L680.10,134.52 L680.35,134.53 L680.60,134.44 L680.85,134.64 L681.10,134.70 L681.35,135.35 L681.60,135.41 L681.85,134.98 L682.10,135.04 L682.35,134.63 L682.60,134.68 L682.85,135.26 L683.10,135.31 L683.35,134.97 L683.60,135.03 L683.85,135.00 L684.10,135.06 L684.35,135.04 L684.60,135.09 L684.60,140.37 L684.35,140.37 L684.10,140.74 L683.85,140.74 L683.60,141.26 L683.35,141.26 L683.10,141.36 L682.85,141.36 L682.60,141.23 L682.35,141.23 L682.10,141.25 L681.85,141.25 L681.60,140.90 L681.35,140.90 L681.10,140.82 L680.85,140.82 L680.60,140.50 L680.35,140.50 L680.10,140.29 L679.85,140.29 L679.60,140.45 L679.35,140.45 L679.10,141.20 L678.85,141.20 L678.60,140.43 L678.35,140.43 L678.10,140.20 L677.85,140.20 L677.60,140.51 L677.35,140.51 L677.10,140.85 L676.85,140.85 L676.60,141.03 L676.35,141.03 L676.10,141.00 L675.85,141.00 L675.60,140.49 L675.35,140.49 L675.10,141.05 L674.85,141.05 L674.60,140.72 L674.35,140.72 L674.10,140.95 L673.85,140.95 L673.60,141.25 L673.35,141.25 L673.10,141.27 L672.85,141.27 L672.60,140.27 L672.35,140.27 L672.10,141.30 L671.85,141.30 L671.60,140.95 L671.35,140.95 L671.10,141.33 L670.85,141.33 L670.60,141.05 L670.35,141.05 L670.10,140.34 L669.85,140.34 L669.60,140.22 L669.35,140.22 L669.10,141.11 L668.85,141.11 L668.60,140.96 L668.35,140.96 L668.10,141.39 L667.85,141.39 L667.60,140.71 L667.35,140.71 L667.10,141.17 L666.85,141.17 L666.60,141.05 L666.35,141.05 L666.10,140.51 L665.85,140.51 L665.60,141.06 L665.35,141.06 L665.10,140.46 L664.85,140.46 L664.60,141.00 L664.35,141.00 L664.10,140.73 L663.85,140.73 L663.60,140.49 L663.35,140.49 L663.10,141.29 L662.85,141.29 L662.60,140.91 L662.35,140.91 L662.10,141.18 L661.85,141.18 L661.60,140.93 L661.35,140.93 L661.10,141.23 L660.85,141.23 L660.60,141.35 L660.35,141.35 L660.10,140.21 L659.85,140.21 L659.60,140.42 L659.35,140.42 L659.10,141.34 L658.85,141.34 L658.60,141.21 L658.35,141.21 L658.10,140.65 L657.85,140.65 L657.60,140.51 L657.35,140.51 L657.10,140.94 L656.85,140.94 L656.60,141.00 L656.35,141.00 L656.10,140.94 L655.85,140.94 L655.60,141.17 L655.35,141.17 L655.10,140.96 L654.85,140.96 L654.60,140.54 L654.35,140.54 L654.10,140.67 L653.85,140.67 L653.60,140.24 L653.35,140.24 L653.10,140.81 L652.85,140.81 L652.60,140.71 L652.35,140.71 L652.10,140.47 L651.85,140.47 L651.60,140.79 L651.35,140.79 L651.10,140.63 L650.85,140.63 L650.60,140.70 L650.35,140.70 L650.10,140.93 L649.85,140.93 L649.60,141.05 L649.35,141.05 L649.10,141.31 L648.85,141.31 L648.60,140.97 L648.35,140.97 L648.10,141.32 L647.85,141.32 L647.60,141.26 L647.35,141.26 L647.10,140.28 L646.85,140.28 L646.60,140.50 L646.35,140.50 L646.10,141.07 L645.85,141.07 L645.60,141.00 L645.35,140.12 L645.10,139.42 L644.85,139.07 L644.60,138.58 L644.35,138.58 L644.10,138.83 L643.85,138.83 L643.60,138.33 L643.35,138.33 L643.10,138.71 L642.85,138.71 L642.60,138.50 L642.35,138.50 L642.10,139.03 L641.85,139.03 L641.60,138.13 L641.35,138.13 L641.10,138.42 L640.85,138.42 L640.60,138.67 L640.35,138.67 L640.10,139.19 L639.85,139.19 L639.60,138.14 L639.35,138.14 L639.10,138.93 L638.85,138.93 L638.60,138.99 L638.35,138.99 L638.10,138.28 L637.85,138.28 L637.60,139.16 L637.35,139.16 L637.10,139.00 L636.85,139.00 L636.60,138.30 L636.35,138.30 L636.10,138.72 L635.85,138.72 L635.60,138.54 L635.35,138.54 L635.10,139.06 L634.85,139.06 L634.60,139.14 L634.35,139.14 L634.10,139.19 L633.85,139.19 L633.60,138.57 L633.35,138.57 L633.10,139.11 L632.85,139.11 L632.60,138.89 L632.35,138.89 L632.10,138.77 L631.85,138.77 L631.60,139.08 L631.35,139.08 L631.10,138.34 L630.85,138.34 L630.60,139.05 L630.35,139.05 L630.10,139.04 L629.85,139.04 L629.60,138.92 L629.35,138.92 L629.10,138.65 L628.85,138.65 L628.60,138.27 L628.35,138.27 L628.10,138.89 L627.85,138.89 L627.60,138.74 L627.35,138.74 L627.10,139.08 L626.85,139.08 L626.60,138.22 L626.35,138.22 L626.10,139.02 L625.85,139.02 L625.60,139.15 L625.35,139.15 L625.10,138.74 L624.85,138.74 L624.60,138.75 L624.35,138.75 L624.10,138.56 L623.85,138.56 L623.60,138.24 L623.35,138.24 L623.10,138.84 L622.85,138.84 L622.60,138.60 L622.35,138.60 L622.10,138.28 L621.85,138.28 L621.60,139.01 L621.35,139.01 L621.10,138.19 L620.85,138.19 L620.60,138.69 L620.35,138.69 L620.10,138.38 L619.85,138.38 L619.60,138.39 L619.35,138.39 L619.10,138.39 L618.85,138.39 L618.60,138.33 L618.35,138.33 L618.10,138.75 L617.85,138.75 L617.60,138.60 L617.35,138.60 L617.10,138.52 L616.85,138.52 L616.60,139.11 L616.35,139.11 L616.10,138.50 L615.85,138.50 L615.60,139.17 L615.35,139.17 L615.10,139.11 L614.85,139.11 L614.60,138.35 L614.35,138.35 L614.10,138.40 L613.85,138.40 L613.60,138.53 L613.35,138.53 L613.10,139.08 L612.85,139.08 L612.60,139.01 L612.35,139.00 L612.10,139.10 L611.85,139.10 L611.60,138.37 L611.35,138.37 L611.10,138.55 L610.85,138.55 L610.60,139.14 L610.35,139.14 L610.10,139.10 L609.85,139.10 L609.60,139.20 L609.35,139.20 L609.10,138.77 L608.85,138.77 L608.60,138.30 L608.35,138.30 L608.10,138.62 L607.85,138.62 L607.60,139.18 L607.35,139.18 L607.10,138.77 L606.85,138.77 L606.60,138.34 L606.35,138.34 L606.10,138.24 L605.85,138.23 L605.60,139.06 L605.35,139.06 L605.10,138.89 L604.85,138.88 L604.60,138.97 L604.35,138.97 L604.10,138.07 L603.85,138.07 L603.60,138.38 L603.35,138.38 L603.10,138.60 L602.85,138.60 L602.60,138.61 L602.35,138.60 L602.10,138.51 L601.85,138.51 L601.60,138.83 L601.35,138.83 L601.10,138.40 L600.85,138.40 L600.60,139.24 L600.35,139.24 L600.10,139.16 L599.85,139.16 L599.60,138.97 L599.35,138.97 L599.10,138.57 L598.85,138.57 L598.60,139.23 L598.35,139.23 L598.10,139.12 L597.85,139.12 L597.60,138.47 L597.35,138.47 L597.10,138.27 L596.85,138.27 L596.60,138.94 L596.35,138.94 L596.10,138.86 L595.85,138.86 L595.60,139.11 L595.35,139.11 L595.10,139.07 L594.85,139.07 L594.60,138.39 L594.35,138.39 L594.10,138.06 L593.85,138.06 L593.60,138.19 L593.35,138.19 L593.10,138.39 L592.85,138.39 L592.60,138.90 L592.35,138.90 L592.10,138.49 L591.85,138.48 L591.60,138.88 L591.35,138.88 L591.10,138.12 L590.85,138.12 L590.60,138.98 L590.35,138.98 L590.10,139.21 L589.85,139.21 L589.60,138.35 L589.35,138.35 L589.10,138.19 L588.85,138.19 L588.60,138.57 L588.35,138.57 L588.10,138.94 L587.85,138.94 L587.60,139.19 L587.35,139.19 L587.10,138.34 L586.85,138.34 L586.60,138.29 L586.35,138.29 L586.10,138.94 L585.85,138.94 L585.60,138.24 L585.35,138.24 L585.10,138.06 L584.85,138.05 L584.60,139.07 L584.35,139.07 L584.10,138.24 L583.85,138.24 L583.60,138.33 L583.35,138.33 L583.10,138.49 L582.85,138.49 L582.60,138.34 L582.35,138.34 L582.10,138.07 L581.85,138.07 L581.60,139.10 L581.35,139.10 L581.10,139.13 L580.85,139.13 L580.60,138.81 L580.35,138.81 L580.10,139.03 L579.85,139.03 L579.60,138.76 L579.35,138.76 L579.10,139.02 L578.85,139.02 L578.60,138.95 L578.35,138.95 L578.10,138.85 L577.85,138.85 L577.60,138.43 L577.35,138.43 L577.10,138.87 L576.85,138.87 L576.60,138.03 L576.35,138.03 L576.10,138.09 L575.85,138.09 L575.60,138.75 L575.35,138.75 L575.10,138.19 L574.85,138.19 L574.60,138.79 L574.35,138.79 L574.10,138.37 L573.85,138.37 L573.60,138.65 L573.35,138.65 L573.10,139.00 L572.85,139.00 L572.60,139.12 L572.35,139.12 L572.10,139.15 L571.85,139.15 L571.60,139.19 L571.35,139.19 L571.10,138.22 L570.85,138.22 L570.60,138.65 L570.35,138.65 L570.10,138.92 L569.85,138.92 L569.60,138.17 L569.35,138.17 L569.10,138.50 L568.85,138.50 L568.60,138.76 L568.35,138.76 L568.10,139.11 L567.85,139.11 L567.60,138.03 L567.35,138.03 L567.10,138.21 L566.85,138.21 L566.60,138.56 L566.35,138.56 L566.10,138.10 L565.85,138.10 L565.60,138.32 L565.35,138.32 L565.10,138.99 L564.85,138.99 L564.60,138.84 L564.35,138.84 L564.10,138.78 L563.85,138.78 L563.60,138.61 L563.35,138.61 L563.10,139.12 L562.85,139.12 L562.60,138.28 L562.35,138.28 L562.10,138.39 L561.85,138.39 L561.60,138.59 L561.35,138.59 L561.10,138.26 L560.85,138.26 L560.60,138.88 L560.35,138.88 L560.10,138.12 L559.85,138.12 L559.60,138.26 L559.35,138.26 L559.10,138.05 L558.85,138.05 L558.60,138.76 L558.35,138.75 L558.10,138.50 L557.85,138.50 L557.60,138.34 L557.35,138.34 L557.10,138.87 L556.85,138.87 L556.60,138.06 L556.35,138.06 L556.10,139.17 L555.85,139.17 L555.60,138.34 L555.35,138.34 L555.10,139.12 L554.85,139.12 L554.60,138.44 L554.35,138.44 L554.10,139.01 L553.85,139.01 L553.60,138.39 L553.35,138.39 L553.10,138.80 L552.85,138.80 L552.60,139.14 L552.35,139.14 L552.10,138.27 L551.85,138.27 L551.60,138.66 L551.35,138.65 L551.10,138.92 L550.85,138.92 L550.60,138.10 L550.35,138.10 L550.10,138.57 L549.85,138.57 L549.60,138.10 L549.35,138.09 L549.10,138.95 L548.85,138.95 L548.60,138.39 L548.35,138.39 L548.10,138.88 L547.85,138.88 L547.60,138.09 L547.35,138.09 L547.10,138.62 L546.85,138.62 L546.60,137.99 L546.35,137.99 L546.10,138.29 L545.85,138.29 L545.60,138.71 L545.35,138.71 L545.10,138.90 L544.85,138.90 L544.60,138.08 L544.35,138.07 L544.10,138.06 L543.85,138.06 L543.60,138.83 L543.35,138.83 L543.10,138.87 L542.85,138.87 L542.60,138.87 L542.35,138.87 L542.10,138.77 L541.85,138.77 L541.60,138.00 L541.35,138.00 L541.10,139.16 L540.85,139.16 L540.60,138.81 L540.35,138.81 L540.10,138.79 L539.85,138.79 L539.60,139.00 L539.35,139.00 L539.10,138.37 L538.85,138.37 L538.60,138.07 L538.35,138.07 L538.10,138.99 L537.85,138.99 L537.60,138.20 L537.35,138.20 L537.10,138.42 L536.85,138.42 L536.60,138.04 L536.35,138.04 L536.10,138.88 L535.85,138.88 L535.60,138.19 L535.35,138.19 L535.10,138.10 L534.85,138.09 L534.60,138.60 L534.35,138.60 L534.10,138.09 L533.85,138.09 L533.60,139.14 L533.35,139.14 L533.10,138.31 L532.85,138.31 L532.60,139.03 L532.35,139.03 L532.10,138.73 L531.85,138.73 L531.60,139.09 L531.35,139.09 L531.10,138.29 L530.85,138.29 L530.60,138.78 L530.35,138.78 L530.10,138.64 L529.85,138.64 L529.60,139.00 L529.35,138.99 L529.10,139.12 L528.85,139.12 L528.60,138.54 L528.35,138.54 L528.10,138.84 L527.85,138.83 L527.60,138.80 L527.35,138.80 L527.10,138.75 L526.85,138.75 L526.60,138.22 L526.35,138.22 L526.10,138.67 L525.85,138.67 L525.60,138.44 L525.35,138.44 L525.10,138.90 L524.85,138.90 L524.60,138.82 L524.35,138.82 L524.10,137.96 L523.85,137.96 L523.60,139.09 L523.35,139.09 L523.10,138.25 L522.85,138.25 L522.60,138.01 L522.35,138.01 L522.10,138.30 L521.85,138.30 L521.60,138.24 L521.35,138.24 L521.10,138.37 L520.85,138.37 L520.60,138.52 L520.35,138.52 L520.10,138.78 L519.85,138.78 L519.60,138.60 L519.35,138.60 L519.10,138.21 L518.85,138.21 L518.60,138.56 L518.35,138.56 L518.10,139.12 L517.85,139.12 L517.60,139.02 L517.35,139.02 L517.10,138.02 L516.85,138.02 L516.60,138.41 L516.35,138.41 L516.10,138.99 L515.85,138.99 L515.60,139.05 L515.35,139.05 L515.10,138.51 L514.85,138.51 L514.60,138.14 L514.35,138.14 L514.10,138.48 L513.85,138.48 L513.60,138.85 L513.35,138.85 L513.10,138.14 L512.85,138.14 L512.60,138.95 L512.35,138.95 L512.10,139.13 L511.85,139.13 L511.60,139.02 L511.35,139.02 L511.10,138.29 L510.85,138.28 L510.60,137.99 L510.35,137.99 L510.10,138.65 L509.85,138.65 L509.60,138.51 L509.35,138.51 L509.10,137.96 L508.85,137.96 L508.60,138.86 L508.35,138.86 L508.10,138.32 L507.85,138.32 L507.60,138.05 L507.35,138.05 L507.10,138.22 L506.85,138.22 L506.60,138.26 L506.35,138.26 L506.10,138.61 L505.85,138.61 L505.60,138.16 L505.35,138.16 L505.10,138.15 L504.85,138.15 L504.60,138.25 L504.35,138.25 L504.10,138.85 L503.85,138.85 L503.60,138.12 L503.35,138.12 L503.10,139.00 L502.85,139.00 L502.60,138.96 L502.35,138.96 L502.10,138.36 L501.85,138.36 L501.60,138.53 L501.35,138.53 L501.10,138.56 L500.85,138.56 L500.60,138.93 L500.35,138.93 L500.10,138.76 L499.85,138.76 L499.60,138.76 L499.35,138.76 L499.10,138.95 L498.85,138.95 L498.60,138.10 L498.35,138.10 L498.10,139.02 L497.85,139.02 L497.60,139.04 L497.35,139.04 L497.10,138.27 L496.85,138.27 L496.60,139.04 L496.35,139.04 L496.10,138.35 L495.85,138.35 L495.60,139.00 L495.35,139.00 L495.10,138.84 L494.85,138.84 L494.60,138.67 L494.35,138.67 L494.10,138.02 L493.85,138.02 L493.60,138.03 L493.35,138.03 L493.10,138.35 L492.85,138.34 L492.60,138.49 L492.35,138.49 L492.10,138.81 L491.85,138.81 L491.60,139.10 L491.35,139.10 L491.10,138.32 L490.85,138.32 L490.60,139.06 L490.35,139.06 L490.10,138.08 L489.85,138.08 L489.60,138.82 L489.35,138.82 L489.10,138.59 L488.85,138.59 L488.60,138.20 L488.35,138.20 L488.10,138.07 L487.85,138.07 L487.60,138.86 L487.35,138.86 L487.10,139.09 L486.85,139.09 L486.60,138.05 L486.35,138.05 L486.10,138.78 L485.85,138.78 L485.60,138.55 L485.35,138.55 L485.10,139.40 L484.85,140.65 L484.60,141.69 L484.35,141.69 L484.10,141.98 L483.85,141.98 L483.60,142.09 L483.35,142.09 L483.10,141.37 L482.85,141.37 L482.60,141.91 L482.35,141.91 L482.10,141.31 L481.85,141.31 L481.60,141.79 L481.35,141.79 L481.10,141.77 L480.85,141.77 L480.60,142.02 L480.35,142.03 L480.10,141.49 L479.85,141.49 L479.60,141.36 L479.35,141.36 L479.10,141.82 L478.85,141.82 L478.60,141.23 L478.35,141.23 L478.10,141.61 L477.85,141.61 L477.60,141.30 L477.35,141.30 L477.10,141.76 L476.85,141.76 L476.60,141.23 L476.35,141.23 L476.10,141.34 L475.85,141.34 L475.60,141.51 L475.35,141.51 L475.10,141.68 L474.85,141.68 L474.60,141.11 L474.35,141.11 L474.10,141.38 L473.85,141.38 L473.60,141.69 L473.35,141.69 L473.10,141.54 L472.85,141.54 L472.60,141.97 L472.35,141.97 L472.10,141.49 L471.85,141.49 L471.60,141.06 L471.35,141.06 L471.10,141.47 L470.85,141.47 L470.60,141.84 L470.35,141.84 L470.10,141.80 L469.85,141.80 L469.60,141.97 L469.35,141.97 L469.10,141.16 L468.85,141.16 L468.60,141.05 L468.35,141.05 L468.10,140.98 L467.85,140.98 L467.60,141.21 L467.35,141.21 L467.10,141.74 L466.85,141.74 L466.60,141.51 L466.35,141.52 L466.10,141.55 L465.85,141.55 L465.60,141.35 L465.35,141.35 L465.10,141.84 L464.85,141.84 L464.60,141.59 L464.35,141.59 L464.10,141.65 L463.85,141.65 L463.60,141.65 L463.35,141.65 L463.10,141.96 L462.85,141.96 L462.60,141.85 L462.35,141.85 L462.10,141.98 L461.85,141.98 L461.60,141.11 L461.35,141.11 L461.10,141.05 L460.85,141.05 L460.60,141.57 L460.35,141.57 L460.10,141.73 L459.85,141.73 L459.60,142.14 L459.35,142.14 L459.10,141.58 L458.85,141.58 L458.60,141.38 L458.35,141.38 L458.10,141.80 L457.85,141.80 L457.60,141.61 L457.35,141.61 L457.10,141.13 L456.85,141.13 L456.60,141.81 L456.35,141.81 L456.10,141.88 L455.85,141.88 L455.60,141.04 L455.35,141.04 L455.10,141.92 L454.85,141.92 L454.60,142.00 L454.35,142.00 L454.10,141.01 L453.85,141.01 L453.60,141.56 L453.35,141.56 L453.10,141.12 L452.85,141.12 L452.60,142.04 L452.35,142.04 L452.10,141.74 L451.85,141.74 L451.60,141.34 L451.35,141.34 L451.10,141.78 L450.85,141.78 L450.60,141.99 L450.35,141.99 L450.10,141.87 L449.85,141.87 L449.60,141.41 L449.35,141.41 L449.10,142.19 L448.85,142.19 L448.60,142.09 L448.35,142.09 L448.10,141.05 L447.85,141.05 L447.60,142.12 L447.35,142.13 L447.10,141.70 L446.85,141.70 L446.60,141.63 L446.35,141.63 L446.10,141.26 L445.85,141.26 L445.60,141.48 L445.35,141.48 L445.10,141.46 L444.85,141.46 L444.60,141.90 L444.35,141.90 L444.10,141.80 L443.85,141.80 L443.60,141.14 L443.35,141.14 L443.10,141.15 L442.85,141.15 L442.60,141.56 L442.35,141.56 L442.10,141.34 L441.85,141.34 L441.60,141.16 L441.35,141.16 L441.10,141.86 L440.85,141.86 L440.60,141.26 L440.35,141.26 L440.10,141.75 L439.85,141.75 L439.60,141.91 L439.35,141.91 L439.10,141.82 L438.85,141.82 L438.60,141.63 L438.35,141.63 L438.10,141.95 L437.85,141.95 L437.60,141.25 L437.35,141.25 L437.10,141.14 L436.85,141.14 L436.60,141.81 L436.35,141.81 L436.10,141.17 L435.85,141.18 L435.60,141.55 L435.35,141.55 L435.10,141.29 L434.85,141.29 L434.60,142.07 L434.35,142.07 L434.10,141.42 L433.85,141.42 L433.60,141.85 L433.35,141.85 L433.10,141.93 L432.85,141.93 L432.60,141.13 L432.35,141.13 L432.10,141.07 L431.85,141.07 L431.60,141.85 L431.35,141.85 L431.10,141.99 L430.85,141.99 L430.60,141.06 L430.35,141.06 L430.10,142.08 L429.85,142.08 L429.60,141.44 L429.35,141.44 L429.10,141.28 L428.85,141.28 L428.60,141.34 L428.35,141.34 L428.10,141.49 L427.85,141.49 L427.60,141.73 L427.35,141.73 L427.10,142.25 L426.85,142.25 L426.60,142.07 L426.35,142.07 L426.10,141.11 L425.85,141.11 L425.60,142.01 L425.35,142.01 L425.10,141.55 L424.85,141.55 L424.60,141.32 L424.35,141.32 L424.10,141.32 L423.85,141.32 L423.60,141.68 L423.35,141.68 L423.10,141.45 L422.85,141.45 L422.60,142.27 L422.35,142.27 L422.10,141.09 L421.85,141.09 L421.60,141.22 L421.35,141.22 L421.10,142.00 L420.85,142.00 L420.60,141.40 L420.35,141.40 L420.10,141.66 L419.85,141.66 L419.60,141.24 L419.35,141.24 L419.10,141.18 L418.85,141.18 L418.60,141.51 L418.35,141.51 L418.10,141.81 L417.85,141.81 L417.60,141.28 L417.35,141.28 L417.10,141.90 L416.85,141.90 L416.60,141.84 L416.35,141.84 L416.10,142.07 L415.85,142.08 L415.60,141.75 L415.35,141.75 L415.10,141.81 L414.85,141.81 L414.60,142.21 L414.35,142.21 L414.10,141.56 L413.85,141.56 L413.60,142.18 L413.35,142.18 L413.10,141.15 L412.85,141.16 L412.60,142.06 L412.35,142.06 L412.10,141.87 L411.85,141.87 L411.60,142.04 L411.35,142.05 L411.10,141.35 L410.85,141.35 L410.60,141.22 L410.35,141.22 L410.10,141.51 L409.85,141.51 L409.60,141.86 L409.35,141.86 L409.10,141.94 L408.85,141.95 L408.60,141.74 L408.35,141.74 L408.10,141.79 L407.85,141.79 L407.60,141.99 L407.35,141.99 L407.10,142.25 L406.85,142.25 L406.60,141.71 L406.35,141.71 L406.10,141.40 L405.85,141.40 L405.60,141.20 L405.35,141.20 L405.10,141.27 L404.85,141.27 L404.60,142.15 L404.35,142.15 L404.10,141.39 L403.85,141.39 L403.60,141.59 L403.35,141.59 L403.10,142.06 L402.85,142.06 L402.60,141.97 L402.35,141.98 L402.10,141.82 L401.85,141.82 L401.60,141.49 L401.35,141.49 L401.10,141.16 L400.85,141.16 L400.60,142.27 L400.35,142.27 L400.10,141.45 L399.85,141.45 L399.60,141.35 L399.35,141.35 L399.10,141.43 L398.85,141.43 L398.60,141.16 L398.35,141.16 L398.10,142.14 L397.85,142.14 L397.60,141.52 L397.35,141.52 L397.10,142.09 L396.85,142.09 L396.60,141.76 L396.35,141.76 L396.10,141.87 L395.85,141.87 L395.60,142.33 L395.35,142.33 L395.10,141.78 L394.85,141.78 L394.60,141.49 L394.35,141.50 L394.10,142.11 L393.85,142.11 L393.60,141.69 L393.35,141.69 L393.10,142.23 L392.85,142.24 L392.60,141.92 L392.35,141.92 L392.10,142.22 L391.85,142.22 L391.60,142.33 L391.35,142.33 L391.10,141.94 L390.85,141.95 L390.60,142.00 L390.35,142.00 L390.10,141.73 L389.85,141.73 L389.60,141.24 L389.35,141.24 L389.10,141.63 L388.85,141.63 L388.60,141.36 L388.35,141.37 L388.10,141.45 L387.85,141.45 L387.60,141.77 L387.35,141.77 L387.10,141.39 L386.85,141.39 L386.60,141.71 L386.35,141.71 L386.10,141.62 L385.85,141.62 L385.60,141.78 L385.35,141.78 L385.10,142.22 L384.85,142.22 L384.60,142.28 L384.35,142.28 L384.10,142.14 L383.85,142.14 L383.60,141.50 L383.35,141.50 L383.10,141.36 L382.85,141.36 L382.60,142.08 L382.35,142.08 L382.10,142.09 L381.85,142.09 L381.60,141.36 L381.35,141.37 L381.10,141.79 L380.85,141.79 L380.60,141.90 L380.35,141.90 L380.10,141.56 L379.85,141.56 L379.60,142.11 L379.35,142.11 L379.10,141.40 L378.85,141.40 L378.60,141.35 L378.35,141.35 L378.10,142.30 L377.85,142.30 L377.60,141.78 L377.35,141.78 L377.10,142.28 L376.85,142.28 L376.60,142.13 L376.35,142.13 L376.10,141.66 L375.85,141.66 L375.60,141.96 L375.35,141.96 L375.10,142.09 L374.85,142.09 L374.60,141.50 L374.35,141.50 L374.10,142.26 L373.85,142.26 L373.60,142.26 L373.35,142.26 L373.10,141.98 L372.85,141.98 L372.60,141.86 L372.35,141.86 L372.10,141.56 L371.85,141.56 L371.60,141.49 L371.35,141.49 L371.10,142.19 L370.85,142.19 L370.60,141.52 L370.35,141.52 L370.10,142.22 L369.85,142.22 L369.60,141.79 L369.35,141.79 L369.10,141.55 L368.85,141.55 L368.60,141.24 L368.35,141.24 L368.10,142.19 L367.85,142.19 L367.60,141.76 L367.35,141.89 L367.10,141.81 L366.85,141.93 L366.60,142.60 L366.35,142.73 L366.10,142.51 L365.85,142.63 L365.60,143.12 L365.35,143.12 L365.10,142.28 L364.85,142.28 L364.60,143.31 L364.35,143.31 L364.10,143.08 L363.85,143.08 L363.60,143.19 L363.35,143.07 L363.10,143.04 L362.85,142.91 L362.60,142.37 L362.35,142.24 L362.10,142.14 L361.85,142.01 L361.60,141.67 L361.35,141.67 L361.10,141.92 L360.85,141.92 L360.60,141.97 L360.35,141.97 L360.10,142.30 L359.85,142.30 L359.60,142.09 L359.35,142.09 L359.10,141.83 L358.85,141.83 L358.60,141.31 L358.35,141.31 L358.10,142.30 L357.85,142.30 L357.60,141.96 L357.35,141.96 L357.10,142.18 L356.85,142.18 L356.60,142.11 L356.35,142.11 L356.10,141.49 L355.85,141.49 L355.60,141.80 L355.35,141.80 L355.10,142.35 L354.85,142.35 L354.60,141.45 L354.35,141.83 L354.10,142.92 L353.85,143.30 L353.60,143.32 L353.35,143.32 L353.10,143.02 L352.85,143.02 L352.60,143.78 L352.35,143.78 L352.10,143.37 L351.85,143.37 L351.60,143.13 L351.35,142.94 L351.10,142.97 L350.85,142.78 L350.60,142.44 L350.35,142.25 L350.10,142.40 L349.85,142.22 L349.60,141.63 L349.35,141.63 L349.10,141.54 L348.85,141.54 L348.60,141.88 L348.35,141.88 L348.10,141.71 L347.85,141.71 L347.60,142.12 L347.35,142.12 L347.10,141.33 L346.85,141.33 L346.60,141.60 L346.35,141.60 L346.10,141.48 L345.85,141.48 L345.60,141.21 L345.35,141.21 L345.10,141.60 L344.85,141.60 L344.60,141.69 L344.35,141.69 L344.10,141.63 L343.85,141.63 L343.60,142.25 L343.35,142.25 L343.10,142.14 L342.85,142.14 L342.60,141.52 L342.35,141.52 L342.10,142.29 L341.85,142.29 L341.60,142.03 L341.35,142.03 L341.10,142.19 L340.85,142.19 L340.60,141.26 L340.35,141.26 L340.10,141.85 L339.85,141.85 L339.60,142.19 L339.35,142.19 L339.10,142.06 L338.85,142.06 L338.60,141.72 L338.35,141.72 L338.10,142.18 L337.85,142.18 L337.60,141.45 L337.35,141.58 L337.10,142.19 L336.85,142.31 L336.60,142.93 L336.35,143.06 L336.10,142.09 L335.85,142.22 L335.60,143.36 L335.35,143.36 L335.10,143.39 L334.85,143.39 L334.60,142.33 L334.35,142.33 L334.10,142.84 L333.85,142.84 L333.60,142.93 L333.35,142.93 L333.10,142.84 L332.85,142.84 L332.60,142.42 L332.35,142.20 L332.10,142.34 L331.85,142.12 L331.60,142.03 L331.35,141.81 L331.10,141.14 L330.85,140.92 L330.60,141.31 L330.35,141.09 L330.10,140.35 L329.85,140.26 L329.60,140.64 L329.35,140.64 L329.10,140.67 L328.85,140.67 L328.60,140.13 L328.35,140.13 L328.10,140.70 L327.85,140.70 L327.60,140.26 L327.35,140.26 L327.10,140.10 L326.85,140.10 L326.60,140.58 L326.35,140.58 L326.10,140.77 L325.85,140.77 L325.60,140.70 L325.35,140.70 L325.10,140.05 L324.85,140.05 L324.60,140.00 L324.35,140.00 L324.10,140.83 L323.85,140.83 L323.60,139.72 L323.35,139.72 L323.10,140.63 L322.85,140.63 L322.60,140.56 L322.35,140.56 L322.10,140.23 L321.85,140.23 L321.60,139.80 L321.35,139.80 L321.10,139.96 L320.85,139.96 L320.60,140.33 L320.35,140.33 L320.10,140.03 L319.85,140.03 L319.60,140.87 L319.35,140.87 L319.10,140.55 L318.85,140.55 L318.60,140.87 L318.35,140.87 L318.10,140.70 L317.85,140.78 L317.60,140.87 L317.35,140.99 L317.10,141.03 L316.85,141.15 L316.60,140.54 L316.35,140.66 L316.10,141.62 L315.85,141.66 L315.60,141.03 L315.35,141.01 L315.10,141.77 L314.85,141.75 L314.60,141.29 L314.35,141.27 L314.10,140.97 L313.85,140.95 L313.60,141.68 L313.35,141.66 L313.10,140.90 L312.85,140.88 L312.60,140.78 L312.35,140.76 L312.10,141.00 L311.85,140.99 L311.60,141.23 L311.35,141.22 L311.10,140.82 L310.85,140.82 L310.60,141.45 L310.35,141.44 L310.10,141.46 L309.85,141.46 L309.60,140.58 L309.35,140.58 L309.10,140.71 L308.85,140.71 L308.60,140.65 L308.35,140.64 L308.10,140.81 L307.85,140.81 L307.60,140.71 L307.35,140.71 L307.10,141.17 L306.85,141.17 L306.60,141.00 L306.35,141.00 L306.10,141.04 L305.85,141.04 L305.60,140.49 L305.35,140.49 L305.10,141.32 L304.85,141.31 L304.60,141.42 L304.35,141.42 L304.10,140.42 L303.85,140.42 L303.60,141.28 L303.35,141.28 L303.10,140.65 L302.85,140.64 L302.60,140.29 L302.35,140.29 L302.10,141.45 L301.85,141.44 L301.60,140.82 L301.35,140.82 L301.10,140.53 L300.85,140.53 L300.60,141.45 L300.35,141.45 L300.10,140.67 L299.85,140.66 L299.60,140.30 L299.35,140.30 L299.10,140.48 L298.85,140.48 L298.60,140.65 L298.35,140.64 L298.10,141.33 L297.85,141.33 L297.60,140.59 L297.35,140.59 L297.10,140.90 L296.85,140.90 L296.60,140.49 L296.35,140.49 L296.10,141.00 L295.85,141.00 L295.60,141.24 L295.35,141.02 L295.10,139.87 L294.85,139.65 L294.60,139.74 L294.35,139.52 L294.10,140.02 L293.85,139.93 L293.60,139.87 L293.35,139.87 L293.10,139.21 L292.85,139.21 L292.60,139.52 L292.35,139.52 L292.10,139.89 L291.85,139.88 L291.60,139.78 L291.35,139.78 L291.10,139.15 L290.85,139.15 L290.60,139.71 L290.35,139.70 L290.10,139.75 L289.85,139.75 L289.60,139.18 L289.35,139.18 L289.10,139.56 L288.85,139.55 L288.60,139.80 L288.35,139.80 L288.10,138.81 L287.85,138.80 L287.60,139.31 L287.35,139.30 L287.10,138.72 L286.85,139.14 L286.60,140.08 L286.35,140.64 L286.10,140.79 L285.85,140.79 L285.60,140.41 L285.35,140.41 L285.10,141.55 L284.85,141.55 L284.60,140.48 L284.35,140.48 L284.10,140.46 L283.85,139.85 L283.60,138.74 L283.35,138.74 L283.10,138.98 L282.85,138.98 L282.60,139.69 L282.35,139.69 L282.10,139.78 L281.85,139.78 L281.60,139.83 L281.35,139.83 L281.10,139.76 L280.85,139.76 L280.60,139.17 L280.35,139.17 L280.10,138.82 L279.85,138.82 L279.60,139.77 L279.35,139.77 L279.10,138.81 L278.85,138.81 L278.60,139.42 L278.35,139.42 L278.10,139.19 L277.85,139.19 L277.60,139.82 L277.35,139.82 L277.10,139.03 L276.85,139.03 L276.60,139.41 L276.35,139.41 L276.10,139.49 L275.85,139.49 L275.60,138.95 L275.35,138.95 L275.10,138.78 L274.85,138.78 L274.60,139.84 L274.35,140.97 L274.10,141.24 L273.85,141.69 L273.60,141.90 L273.35,141.90 L273.10,141.94 L272.85,141.94 L272.60,141.92 L272.35,141.92 L272.10,142.42 L271.85,142.23 L271.60,141.41 L271.35,140.45 L271.10,139.51 L270.85,139.51 L270.60,139.30 L270.35,139.30 L270.10,139.15 L269.85,139.15 L269.60,138.99 L269.35,138.99 L269.10,139.08 L268.85,139.08 L268.60,139.33 L268.35,139.33 L268.10,138.95 L267.85,138.95 L267.60,138.84 L267.35,138.84 L267.10,139.64 L266.85,139.64 L266.60,139.00 L266.35,139.00 L266.10,139.02 L265.85,139.02 L265.60,139.05 L265.35,139.05 L265.10,138.89 L264.85,138.89 L264.60,139.19 L264.35,139.19 L264.10,139.25 L263.85,139.25 L263.60,139.28 L263.35,139.28 L263.10,139.30 L262.85,139.30 L262.60,139.62 L262.35,140.54 L262.10,141.84 L261.85,141.84 L261.60,141.48 L261.35,141.48 L261.10,141.50 L260.85,141.50 L260.60,141.60 L260.35,141.60 L260.10,141.01 L259.85,140.54 L259.60,139.95 L259.35,139.16 L259.10,139.71 L258.85,139.71 L258.60,139.58 L258.35,139.58 L258.10,138.94 L257.85,138.94 L257.60,139.76 L257.35,139.76 L257.10,138.89 L256.85,138.89 L256.60,139.55 L256.35,139.55 L256.10,138.94 L255.85,138.94 L255.60,139.71 L255.35,139.71 L255.10,138.88 L254.85,138.88 L254.60,139.48 L254.35,139.48 L254.10,139.20 L253.85,139.20 L253.60,138.76 L253.35,138.76 L253.10,138.97 L252.85,138.97 L252.60,139.89 L252.35,139.89 L252.10,139.05 L251.85,139.05 L251.60,139.02 L251.35,139.02 L251.10,138.73 L250.85,138.73 L250.60,139.71 L250.35,139.71 L250.10,139.81 L249.85,140.51 L249.60,140.86 L249.35,140.86 L249.10,141.24 L248.85,141.24 L248.60,141.02 L248.35,141.02 L248.10,140.68 L247.85,140.68 L247.60,140.42 L247.35,139.59 L247.10,139.54 L246.85,139.50 L246.60,139.57 L246.35,139.54 L246.10,139.53 L245.85,139.49 L245.60,139.31 L245.35,139.28 L245.10,138.65 L244.85,138.62 L244.60,138.83 L244.35,138.80 L244.10,138.82 L243.85,138.81 L243.60,138.56 L243.35,138.58 L243.10,139.50 L242.85,139.53 L242.60,139.51 L242.35,139.53 L242.10,138.53 L241.85,138.56 L241.60,138.94 L241.35,138.97 L241.10,139.20 L240.85,139.23 L240.60,138.96 L240.35,138.98 L240.10,139.82 L239.85,139.84 L239.60,138.71 L239.35,138.73 L239.10,138.98 L238.85,139.00 L238.60,139.32 L238.35,139.52 L238.10,139.90 L237.85,140.77 L237.60,141.42 L237.35,141.42 L237.10,141.84 L236.85,141.84 L236.60,141.34 L236.35,141.34 L236.10,141.22 L235.85,141.22 L235.60,140.90 L235.35,140.15 L235.10,139.72 L234.85,139.42 L234.60,139.42 L234.35,139.42 L234.10,139.32 L233.85,139.32 L233.60,139.13 L233.35,139.13 L233.10,139.49 L232.85,139.49 L232.60,139.94 L232.35,139.94 L232.10,138.88 L231.85,138.88 L231.60,139.67 L231.35,139.67 L231.10,139.68 L230.85,139.68 L230.60,139.65 L230.35,139.65 L230.10,139.10 L229.85,139.10 L229.60,139.62 L229.35,139.62 L229.10,139.44 L228.85,139.44 L228.60,139.59 L228.35,139.59 L228.10,139.21 L227.85,139.21 L227.60,139.45 L227.35,139.45 L227.10,139.01 L226.85,139.01 L226.60,139.35 L226.35,139.35 L226.10,139.12 L225.85,139.65 L225.60,140.43 L225.35,141.13 L225.10,140.94 L224.85,140.94 L224.60,141.91 L224.35,141.91 L224.10,141.67 L223.85,141.67 L223.60,141.05 L223.35,141.05 L223.10,141.23 L222.85,140.48 L222.60,139.70 L222.35,139.70 L222.10,139.59 L221.85,139.59 L221.60,138.82 L221.35,138.82 L221.10,139.28 L220.85,139.28 L220.60,138.94 L220.35,138.94 L220.10,139.11 L219.85,139.11 L219.60,139.11 L219.35,139.11 L219.10,139.64 L218.85,139.64 L218.60,138.99 L218.35,138.99 L218.10,139.67 L217.85,139.67 L217.60,139.60 L217.35,139.60 L217.10,139.77 L216.85,139.77 L216.60,139.82 L216.35,139.82 L216.10,139.70 L215.85,139.70 L215.60,139.66 L215.35,139.66 L215.10,139.35 L214.85,139.35 L214.60,139.42 L214.35,139.42 L214.10,139.75 L213.85,139.75 L213.60,139.04 L213.35,139.91 L213.10,141.15 L212.85,141.50 L212.60,141.64 L212.35,141.64 L212.10,141.35 L211.85,141.35 L211.60,141.30 L211.35,141.30 L211.10,141.36 L210.85,141.21 L210.60,140.34 L210.35,139.59 L210.10,139.34 L209.85,139.34 L209.60,139.29 L209.35,139.29 L209.10,138.87 L208.85,138.87 L208.60,139.20 L208.35,139.20 L208.10,139.26 L207.85,139.26 L207.60,139.06 L207.35,139.06 L207.10,138.99 L206.85,138.99 L206.60,139.42 L206.35,139.42 L206.10,139.71 L205.85,139.71 L205.60,139.85 L205.35,139.85 L205.10,139.07 L204.85,139.07 L204.60,139.47 L204.35,139.47 L204.10,139.55 L203.85,139.55 L203.60,139.83 L203.35,139.83 L203.10,139.88 L202.85,139.88 L202.60,139.08 L202.35,139.08 L202.10,138.81 L201.85,138.81 L201.60,139.67 L201.35,139.67 L201.10,139.54 L200.85,140.41 L200.60,141.28 L200.35,141.28 L200.10,141.00 L199.85,141.00 L199.60,141.23 L199.35,141.23 L199.10,141.90 L198.85,141.90 L198.60,140.90 L198.35,140.45 L198.10,140.15 L197.85,139.40 L197.60,138.72 L197.35,138.52 L197.10,139.01 L196.85,139.01 L196.60,139.08 L196.35,139.08 L196.10,139.36 L195.85,139.36 L195.60,139.33 L195.35,139.33 L195.10,139.35 L194.85,139.35 L194.60,138.76 L194.35,138.76 L194.10,138.66 L193.85,138.66 L193.60,138.40 L193.35,138.40 L193.10,138.37 L192.85,138.37 L192.60,139.20 L192.35,139.20 L192.10,139.12 L191.85,139.12 L191.60,138.60 L191.35,138.60 L191.10,138.78 L190.85,138.78 L190.60,138.52 L190.35,138.52 L190.10,138.75 L189.85,138.75 L189.60,139.21 L189.35,139.21 L189.10,138.79 L188.85,138.79 L188.60,139.24 L188.35,139.24 L188.10,139.16 L187.85,139.16 L187.60,139.23 L187.35,139.23 L187.10,138.99 L186.85,138.99 L186.60,138.56 L186.35,138.56 L186.10,139.27 L185.85,139.27 L185.60,138.23 L185.35,138.23 L185.10,138.59 L184.85,138.59 L184.60,139.19 L184.35,139.19 L184.10,139.23 L183.85,139.23 L183.60,138.47 L183.35,138.47 L183.10,138.85 L182.85,138.85 L182.60,138.52 L182.35,138.52 L182.10,138.73 L181.85,138.73 L181.60,138.84 L181.35,138.84 L181.10,139.17 L180.85,139.17 L180.60,138.32 L180.35,138.32 L180.10,138.23 L179.85,138.23 L179.60,139.18 L179.35,139.18 L179.10,138.64 L178.85,138.64 L178.60,138.59 L178.35,138.59 L178.10,138.70 L177.85,138.70 L177.60,138.44 L177.35,138.44 L177.10,138.43 L176.85,138.43 L176.60,138.28 L176.35,138.28 L176.10,138.48 L175.85,138.48 L175.60,138.30 L175.35,138.30 L175.10,138.84 L174.85,138.84 L174.60,139.06 L174.35,139.06 L174.10,138.76 L173.85,138.76 L173.60,139.36 L173.35,139.36 L173.10,138.43 L172.85,138.43 L172.60,138.74 L172.35,138.74 L172.10,139.03 L171.85,139.03 L171.60,138.97 L171.35,138.97 L171.10,138.68 L170.85,138.68 L170.60,138.28 L170.35,138.28 L170.10,138.99 L169.85,138.99 L169.60,139.15 L169.35,139.15 L169.10,138.64 L168.85,138.64 L168.60,138.28 L168.35,138.28 L168.10,139.39 L167.85,139.39 L167.60,138.95 L167.35,138.95 L167.10,139.22 L166.85,139.22 L166.60,138.36 L166.35,138.36 L166.10,138.20 L165.85,138.20 L165.60,138.43 L165.35,138.43 L165.10,138.61 L164.85,138.61 L164.60,139.24 L164.35,139.24 L164.10,138.96 L163.85,138.96 L163.60,138.63 L163.35,138.63 L163.10,138.62 L162.85,138.62 L162.60,138.91 L162.35,138.91 L162.10,139.31 L161.85,139.31 L161.60,139.16 L161.35,139.16 L161.10,138.56 L160.85,138.56 L160.60,138.24 L160.35,138.24 L160.10,139.02 L159.85,139.02 L159.60,139.39 L159.35,139.39 L159.10,139.11 L158.85,139.11 L158.60,138.54 L158.35,138.54 L158.10,138.57 L157.85,138.57 L157.60,138.42 L157.35,138.42 L157.10,138.33 L156.85,138.33 L156.60,139.07 L156.35,139.07 L156.10,138.98 L155.85,138.98 L155.60,139.01 L155.35,139.01 L155.10,138.77 L154.85,138.77 L154.60,138.53 L154.35,138.53 L154.10,138.29 L153.85,138.29 L153.60,139.13 L153.35,139.13 L153.10,138.71 L152.85,138.71 L152.60,138.55 L152.35,138.55 L152.10,138.73 L151.85,138.73 L151.60,138.67 L151.35,138.67 L151.10,138.58 L150.85,138.58 L150.60,139.04 L150.35,139.04 L150.10,139.22 L149.85,139.22 L149.60,139.09 L149.35,139.09 L149.10,139.35 L148.85,139.35 L148.60,138.50 L148.35,138.50 L148.10,138.43 L147.85,138.43 L147.60,138.32 L147.35,138.32 L147.10,138.48 L146.85,138.48 L146.60,138.79 L146.35,138.79 L146.10,138.28 L145.85,138.28 L145.60,139.16 L145.35,139.16 L145.10,139.39 L144.85,139.39 L144.60,139.01 L144.35,139.01 L144.10,138.75 L143.85,138.75 L143.60,138.84 L143.35,138.84 L143.10,138.79 L142.85,138.79 L142.60,139.14 L142.35,139.14 L142.10,138.51 L141.85,138.51 L141.60,139.06 L141.35,139.06 L141.10,138.21 L140.85,138.21 L140.60,138.75 L140.35,138.75 L140.10,138.98 L139.85,138.98 L139.60,138.32 L139.35,138.32 L139.10,138.43 L138.85,138.43 L138.60,138.61 L138.35,138.61 L138.10,139.33 L137.85,139.33 L137.60,138.25 L137.35,138.25 L137.10,138.39 L136.85,138.39 L136.60,138.86 L136.35,138.86 L136.10,138.38 L135.85,138.38 L135.60,139.07 L135.35,139.07 L135.10,139.39 L134.85,139.39 L134.60,138.84 L134.35,138.84 L134.10,139.31 L133.85,139.31 L133.60,138.69 L133.35,138.69 L133.10,138.62 L132.85,138.62 L132.60,138.32 L132.35,138.32 L132.10,138.33 L131.85,138.33 L131.60,138.44 L131.35,138.44 L131.10,138.71 L130.85,138.71 L130.60,138.98 L130.35,138.98 L130.10,139.22 L129.85,139.22 L129.60,139.36 L129.35,139.36 L129.10,138.37 L128.85,138.37 L128.60,139.33 L128.35,139.33 L128.10,138.47 L127.85,138.47 L127.60,138.60 L127.35,138.60 L127.10,139.39 L126.85,139.39 L126.60,138.57 L126.35,138.57 L126.10,138.57 L125.85,138.57 L125.60,138.43 L125.35,138.43 L125.10,138.81 L124.85,138.81 L124.60,138.62 L124.35,138.62 L124.10,138.73 L123.85,138.73 L123.60,139.16 L123.35,139.16 L123.10,138.81 L122.85,138.81 L122.60,139.24 L122.35,139.24 L122.10,139.11 L121.85,139.11 L121.60,138.30 L121.35,138.30 L121.10,139.34 L120.85,139.34 L120.60,138.67 L120.35,138.67 L120.10,138.31 L119.85,138.31 L119.60,138.81 L119.35,138.81 L119.10,138.46 L118.85,138.46 L118.60,139.38 L118.35,139.38 L118.10,139.02 L117.85,139.02 L117.60,139.02 L117.35,139.02 L117.10,139.22 L116.85,139.22 L116.60,138.71 L116.35,138.71 L116.10,138.64 L115.85,138.64 L115.60,138.79 L115.35,138.79 L115.10,138.39 L114.85,138.39 L114.60,138.59 L114.35,138.59 L114.10,138.61 L113.85,138.61 L113.60,138.82 L113.35,138.82 L113.10,139.01 L112.85,139.01 L112.60,138.56 L112.35,138.56 L112.10,139.20 L111.85,139.20 L111.60,139.04 L111.35,139.04 L111.10,139.10 L110.85,139.10 L110.60,139.07 L110.35,139.07 L110.10,139.19 L109.85,139.19 L109.60,138.42 L109.35,138.42 L109.10,138.98 L108.85,138.98 L108.60,139.21 L108.35,139.21 L108.10,139.33 L107.85,139.33 L107.60,139.18 L107.35,139.18 L107.10,139.16 L106.85,139.16 L106.60,138.48 L106.35,138.48 L106.10,138.76 L105.85,138.76 L105.60,138.31 L105.35,138.31 L105.10,138.43 L104.85,138.43 L104.60,139.09 L104.35,139.09 L104.10,138.68 L103.85,138.68 L103.60,138.43 L103.35,138.43 L103.10,138.76 L102.85,138.76 L102.60,139.01 L102.35,139.01 L102.10,138.99 L101.85,138.99 L101.60,138.48 L101.35,138.48 L101.10,139.16 L100.85,139.16 L100.60,138.73 L100.35,138.73 L100.10,139.04 L99.85,139.04 L99.60,138.23 L99.35,138.23 L99.10,138.67 L98.85,138.67 L98.60,138.56 L98.35,138.56 L98.10,139.31 L97.85,139.31 L97.60,138.95 L97.35,138.95 L97.10,138.64 L96.85,138.64 L96.60,138.47 L96.35,138.47 L96.10,138.97 L95.85,138.97 L95.60,139.09 L95.35,139.09 L95.10,139.38 L94.85,139.38 L94.60,139.25 L94.35,139.25 L94.10,138.93 L93.85,138.93 L93.60,139.39 L93.35,139.39 L93.10,139.18 L92.85,139.18 L92.60,138.55 L92.35,138.55 L92.10,138.36 L91.85,138.36 L91.60,139.10 L91.35,139.10 L91.10,139.19 L90.85,139.19 L90.60,138.55 L90.35,138.55 L90.10,138.72 L89.85,138.72 L89.60,138.90 L89.35,138.90 L89.10,138.37 L88.85,138.37 L88.60,139.15 L88.35,139.15 L88.10,138.64 L87.85,138.64 L87.60,139.38 L87.35,139.38 L87.10,139.06 L86.85,139.06 L86.60,138.53 L86.35,138.53 L86.10,138.58 L85.85,138.58 L85.60,138.34 L85.35,138.34 L85.10,138.79 L84.85,138.79 L84.60,138.63 L84.35,138.63 L84.10,138.35 L83.85,138.35 L83.60,139.27 L83.35,139.27 L83.10,138.35 L82.85,138.35 L82.60,138.94 L82.35,138.94 L82.10,138.33 L81.85,138.33 L81.60,138.63 L81.35,138.63 L81.10,139.27 L80.85,139.27 L80.60,138.99 L80.35,138.99 L80.10,138.29 L79.85,138.29 L79.60,138.66 L79.35,138.66 L79.10,138.46 L78.85,138.46 L78.60,138.80 L78.35,138.80 L78.10,138.22 L77.85,138.22 L77.60,138.88 L77.35,138.88 L77.10,138.75 L76.85,138.75 L76.60,138.93 L76.35,138.93 L76.10,138.61 L75.85,138.61 L75.60,139.01 L75.35,139.01 L75.10,138.66 L74.85,138.66 L74.60,139.01 L74.35,139.01 L74.10,138.97 L73.85,138.97 L73.60,139.03 L73.35,139.03 L73.10,138.84 L72.85,138.84 L72.60,138.79 L72.35,138.79 L72.10,138.59 L71.85,138.59 L71.60,138.66 L71.35,138.66 L71.10,139.04 L70.85,139.04 L70.60,138.51 L70.35,138.51 L70.10,139.13 L69.85,139.13 L69.60,138.27 L69.35,138.27 L69.10,139.27 L68.85,139.27 L68.60,139.31 L68.35,139.31 L68.10,138.95 L67.85,138.95 L67.60,138.85 L67.35,138.85 L67.10,138.31 L66.85,138.31 L66.60,138.64 L66.35,138.64 L66.10,139.09 L65.85,139.09 L65.60,138.76 L65.35,138.76 L65.10,139.07 L64.85,139.07 L64.60,138.47 L64.35,138.47 L64.10,138.74 L63.85,138.74 L63.60,138.94 L63.35,138.94 L63.10,138.89 L62.85,138.89 L62.60,139.00 L62.35,139.00 L62.10,138.30 L61.85,138.30 L61.60,138.99 L61.35,138.99 L61.10,138.59 L60.85,138.59 L60.60,139.00 L60.35,139.00 L60.10,139.17 L59.85,139.17 L59.60,139.15 L59.35,139.15 L59.10,138.27 L58.85,138.27 L58.60,138.44 L58.35,138.44 L58.10,139.02 L57.85,139.02 L57.60,138.81 L57.35,138.81 L57.10,138.52 L56.85,138.52 L56.60,139.05 L56.35,139.05 L56.10,138.59 L55.85,138.59 L55.60,139.24 L55.35,139.24 L55.10,138.96 L54.85,138.96 L54.60,139.16 L54.35,139.16 L54.10,139.00 L53.85,139.00 L53.60,139.36 L53.35,139.36 L53.10,138.37 L52.85,138.37 L52.60,139.35 L52.35,139.35 L52.10,138.98 L51.85,138.98 L51.60,138.73 L51.35,138.73 L51.10,138.87 L50.85,138.87 L50.60,138.63 L50.35,138.63 L50.10,139.28 L49.85,139.28 L49.60,138.94 L49.35,138.94 L49.10,138.61 L48.85,138.61 L48.60,139.22 L48.35,139.22 L48.10,139.20 L47.85,139.20 L47.60,138.55 L47.35,138.55 L47.10,138.73 L46.85,138.73 L46.60,138.38 L46.35,138.38 L46.10,138.49 L45.85,138.49Z"/>
<path clip-path="url(#c1)" fill="none" stroke="#1f77b4" stroke-width="1.6" stroke-linejoin="round" d="M58.50,200.39 L59.30,205.49 L60.10,207.60 L60.90,206.30 L61.70,207.39 L62.50,207.02 L63.30,206.87 L64.10,207.57 L64.90,200.29 L65.70,199.54 L66.50,198.69 L67.30,198.19 L68.10,196.44 L68.90,194.79 L69.70,194.27 L70.50,193.31 L71.30,192.79 L72.10,192.84 L72.90,192.73 L73.70,193.64 L74.50,194.37 L75.30,195.24 L76.10,196.29 L76.90,196.64 L77.70,196.65 L78.50,197.22 L79.30,196.85 L80.10,196.39 L80.90,195.90 L81.70,195.99 L82.50,195.55 L83.30,194.88 L84.10,194.45 L84.90,194.18 L85.70,194.62 L86.50,195.45 L87.30,197.50 L88.10,199.43 L88.90,199.87 L89.70,200.14 L90.50,204.37 L91.30,207.58 L92.10,207.27 L92.90,208.06 L93.70,208.60 L94.50,208.37 L95.30,207.83 L96.10,207.55 L96.90,207.18 L97.70,207.66 L98.50,208.31 L99.30,208.23 L100.10,208.82 L100.90,208.56 L101.70,208.76 L102.50,209.64 L103.30,208.34 L104.10,207.26 L104.90,206.61 L105.70,205.74 L106.50,205.89 L107.30,205.11 L108.10,204.19 L108.90,202.93 L109.70,201.33 L110.50,199.32 L111.30,199.02 L112.10,198.09 L112.90,198.08 L113.70,198.16 L114.50,198.08 L115.30,197.15 L116.10,195.88 L116.90,195.31 L117.70,194.89 L118.50,194.02 L119.30,194.12 L120.10,194.65 L120.90,194.18 L121.70,194.87 L122.50,195.56 L123.30,196.40 L124.10,197.30 L124.90,198.51 L125.70,198.91 L126.50,198.88 L127.30,198.78 L128.10,198.48 L128.90,198.03 L129.70,197.36 L130.50,197.41 L131.30,197.79 L132.10,196.58 L132.90,195.78 L133.70,194.31 L134.50,193.14 L135.30,191.55 L136.10,192.25 L136.90,193.31 L137.70,198.03 L138.50,197.95 L139.30,198.11 L140.10,196.86 L140.90,196.22 L141.70,195.53 L142.50,195.65 L143.30,196.24 L144.10,196.22 L144.90,195.79 L145.70,195.26 L146.50,195.43 L147.30,195.34 L148.10,195.23 L148.90,196.17 L149.70,196.09 L150.50,196.14 L151.30,196.60 L152.10,196.41 L152.90,196.02 L153.70,195.36 L154.50,195.35 L155.30,195.66 L156.10,195.77 L156.90,196.05 L157.70,196.19 L158.50,196.67 L159.30,197.23 L160.10,199.69 L160.90,202.46 L161.70,205.70 L162.50,208.30 L163.30,209.13 L164.10,209.94 L164.90,210.80 L165.70,211.35 L166.50,212.17 L167.30,212.26 L168.10,212.79 L168.90,213.68 L169.70,213.99 L170.50,214.23 L171.30,214.46 L172.10,214.75 L172.90,215.72 L173.70,216.91 L174.50,217.50 L175.30,218.65 L176.10,220.07 L176.90,220.21 L177.70,220.64 L178.50,220.64 L179.30,220.95 L180.10,222.03 L180.90,222.71 L181.70,223.43 L182.50,224.36 L183.30,225.79 L184.10,227.01 L184.90,228.46 L185.70,230.36 L186.50,231.43 L187.30,232.68 L188.10,233.52 L188.90,234.09 L189.70,234.26 L190.50,234.79 L191.30,235.44 L192.10,235.71 L192.90,236.78 L193.70,237.67 L194.50,238.26 L195.30,239.79 L196.10,240.76 L196.90,241.96 L197.70,242.78 L198.50,244.06 L199.30,245.58 L200.10,246.15 L200.90,247.06 L201.70,247.39 L202.50,248.01 L203.30,248.66 L204.10,249.31 L204.90,250.15 L205.70,250.05 L206.50,250.60 L207.30,250.78 L208.10,250.34 L208.90,250.64 L209.70,250.93 L210.50,252.04 L211.30,251.99 L212.10,252.96 L212.90,252.40 L213.70,251.91 L214.50,251.53 L215.30,251.53 L216.10,251.06 L216.90,251.66 L217.70,251.45 L218.50,251.21 L219.30,251.20 L220.10,251.51 L220.90,251.49 L221.70,251.66 L222.50,252.06 L223.30,252.54 L224.10,253.24 L224.90,253.07 L225.70,252.87 L226.50,252.32 L227.30,251.85 L228.10,251.66 L228.90,251.74 L229.70,251.56 L230.50,251.68 L231.30,251.25 L232.10,251.31 L232.90,251.74 L233.70,251.63 L234.50,252.17 L235.30,252.46 L236.10,252.43 L236.90,252.76 L237.70,253.36 L238.50,252.87 L239.30,252.18 L240.10,252.21 L240.90,251.78 L241.70,251.31 L242.50,251.15 L243.30,251.09 L244.10,251.19 L244.90,251.16 L245.70,250.99 L246.50,251.42 L247.30,252.34 L248.10,252.68 L248.90,253.19 L249.70,253.69 L250.50,253.24 L251.30,252.75 L252.10,252.09 L252.90,251.31 L253.70,251.34 L254.50,251.58 L255.30,251.77 L256.10,251.09 L256.90,251.32 L257.70,251.17 L258.50,251.35 L259.30,251.81 L260.10,252.38 L260.90,252.92 L261.70,253.26 L262.50,253.10 L263.30,252.55 L264.10,252.26 L264.90,251.79 L265.70,251.94 L266.50,251.44 L267.30,251.76 L268.10,251.34 L268.90,251.47 L269.70,251.50 L270.50,251.14 L271.30,251.61 L272.10,252.34 L272.90,252.58 L273.70,253.47 L274.50,252.88 L275.30,252.38 L276.10,252.08 L276.90,252.00 L277.70,251.95 L278.50,251.37 L279.30,251.22 L280.10,251.41 L280.90,252.21 L281.70,253.02 L282.50,254.15 L283.30,255.01 L284.10,255.96 L284.90,257.06 L285.70,257.72 L286.50,258.12 L287.30,258.63 L288.10,258.97 L288.90,259.66 L289.70,260.29 L290.50,260.47 L291.30,261.42 L292.10,262.40 L292.90,262.86 L293.70,263.87 L294.50,264.29 L295.30,265.33 L296.10,266.46 L296.90,267.21 L297.70,268.45 L298.50,268.71 L299.30,269.55 L300.10,269.65 L300.90,270.41 L301.70,271.41 L302.50,271.95 L303.30,272.31 L304.10,273.20 L304.90,274.28 L305.70,274.79 L306.50,275.62 L307.30,276.61 L308.10,276.71 L308.90,276.75 L309.70,277.14 L310.50,277.24 L311.30,276.71 L312.10,276.77 L312.90,276.68 L313.70,277.07 L314.50,276.49 L315.30,276.69 L316.10,276.59 L316.90,277.20 L317.70,277.97 L318.50,278.14 L319.30,279.39 L320.10,280.05 L320.90,280.54 L321.70,281.85 L322.50,282.24 L323.30,283.37 L324.10,283.39 L324.90,284.17 L325.70,284.73 L326.50,285.52 L327.30,285.95 L328.10,286.17 L328.90,286.24 L329.70,286.93 L330.50,287.31 L331.30,288.61 L332.10,289.26 L332.90,289.93 L333.70,290.76 L334.50,291.75 L335.30,291.72 L336.10,292.66 L336.90,292.99 L337.70,293.26 L338.50,293.89 L339.30,294.13 L340.10,294.40 L340.90,295.05 L341.70,295.25 L342.50,295.69 L343.30,296.25 L344.10,296.83 L344.90,296.70 L345.70,297.22 L346.50,297.23 L347.30,296.58 L348.10,296.09 L348.90,295.40 L349.70,294.82 L350.50,294.47 L351.30,294.14 L352.10,293.70 L352.90,293.28 L353.70,292.85 L354.50,292.70 L355.30,293.07 L356.10,293.52 L356.90,293.53 L357.70,293.42 L358.50,293.97 L359.30,293.00 L360.10,293.20 L360.90,292.59 L361.70,292.10 L362.50,291.71 L363.30,291.80 L364.10,291.03 L364.90,290.84 L365.70,290.99 L366.50,290.66 L367.30,290.75 L368.10,290.86 L368.90,290.54 L369.70,291.21 L370.50,291.02 L371.30,290.36 L372.10,290.38 L372.90,289.81 L373.70,289.50 L374.50,289.15 L375.30,289.20 L376.10,288.46 L376.90,288.95 L377.70,288.46 L378.50,288.14 L379.30,288.37 L380.10,288.62 L380.90,289.24 L381.70,289.24 L382.50,289.17 L383.30,289.82 L384.10,289.42 L384.90,289.40 L385.70,288.62 L386.50,288.95 L387.30,288.82 L388.10,288.10 L388.90,288.34 L389.70,287.99 L390.50,288.19 L391.30,287.78 L392.10,288.35 L392.90,288.16 L393.70,288.80 L394.50,289.09 L395.30,289.16 L396.10,289.01 L396.90,289.19 L397.70,288.26 L398.50,288.10 L399.30,287.88 L400.10,288.06 L400.90,287.91 L401.70,287.73 L402.50,288.05 L403.30,288.16 L404.10,288.33 L404.90,288.48 L405.70,288.66 L406.50,288.75 L407.30,289.42 L408.10,289.07 L408.90,288.51 L409.70,288.45 L410.50,287.50 L411.30,287.66 L412.10,287.49 L412.90,287.51 L413.70,287.41 L414.50,286.82 L415.30,287.19 L416.10,286.78 L416.90,287.39 L417.70,288.00 L418.50,288.16 L419.30,288.20 L420.10,287.51 L420.90,287.56 L421.70,286.98 L422.50,286.76 L423.30,286.52 L424.10,286.72 L424.90,286.27 L425.70,286.11 L426.50,285.51 L427.30,285.55 L428.10,286.20 L428.90,285.91 L429.70,286.74 L430.50,286.61 L431.30,286.83 L432.10,287.16 L432.90,287.36 L433.70,287.16 L434.50,286.91 L435.30,286.89 L436.10,286.38 L436.90,286.10 L437.70,286.11 L438.50,285.69 L439.30,285.76 L440.10,285.62 L440.90,286.08 L441.70,285.93 L442.50,286.46 L443.30,287.05 L444.10,286.95 L444.90,287.14 L445.70,286.90 L446.50,286.27 L447.30,286.36 L448.10,286.48 L448.90,286.16 L449.70,286.12 L450.50,286.20 L451.30,285.83 L452.10,285.70 L452.90,286.18 L453.70,286.16 L454.50,286.14 L455.30,286.60 L456.10,287.10 L456.90,287.17 L457.70,286.60 L458.50,286.05 L459.30,286.22 L460.10,285.48 L460.90,285.04 L461.70,285.01 L462.50,284.60 L463.30,284.18 L464.10,284.34 L464.90,284.07 L465.70,284.50 L466.50,284.21 L467.30,285.06 L468.10,285.28 L468.90,285.00 L469.70,284.63 L470.50,284.21 L471.30,283.47 L472.10,282.38 L472.90,281.71 L473.70,280.05 L474.50,279.09 L475.30,278.11 L476.10,277.48 L476.90,276.29 L477.70,275.24 L478.50,274.67 L479.30,273.25 L480.10,272.54 L480.90,271.21 L481.70,270.60 L482.50,269.24 L483.30,267.89 L484.10,266.24 L484.90,264.77 L485.70,264.10 L486.50,263.35 L487.30,261.97 L488.10,260.82 L488.90,260.18 L489.70,260.06 L490.50,258.76 L491.30,258.15 L492.10,257.45 L492.90,256.64 L493.70,254.93 L494.50,253.78 L495.30,252.49 L496.10,251.08 L496.90,250.08 L497.70,248.68 L498.50,248.31 L499.30,247.99 L500.10,247.62 L500.90,247.88 L501.70,247.57 L502.50,247.70 L503.30,248.25 L504.10,248.02 L504.90,247.96 L505.70,248.46 L506.50,248.29 L507.30,247.77 L508.10,247.79 L508.90,247.80 L509.70,247.38 L510.50,247.72 L511.30,247.50 L512.10,247.20 L512.90,247.40 L513.70,246.69 L514.50,246.73 L515.30,247.32 L516.10,247.22 L516.90,247.16 L517.70,247.62 L518.50,247.83 L519.30,247.62 L520.10,247.10 L520.90,246.97 L521.70,247.10 L522.50,246.70 L523.30,246.62 L524.10,247.02 L524.90,246.91 L525.70,246.68 L526.50,247.26 L527.30,247.18 L528.10,247.82 L528.90,247.90 L529.70,248.04 L530.50,247.80 L531.30,247.86 L532.10,247.45 L532.90,247.35 L533.70,247.68 L534.50,247.24 L535.30,247.42 L536.10,247.73 L536.90,247.50 L537.70,247.58 L538.50,248.09 L539.30,247.82 L540.10,248.06 L540.90,248.73 L541.70,248.52 L542.50,248.42 L543.30,248.63 L544.10,248.05 L544.90,248.34 L545.70,248.04 L546.50,247.93 L547.30,247.44 L548.10,247.39 L548.90,247.72 L549.70,247.72 L550.50,247.25 L551.30,247.19 L552.10,247.51 L552.90,247.72 L553.70,248.21 L554.50,248.56 L555.30,248.67 L556.10,248.03 L556.90,247.89 L557.70,247.60 L558.50,247.48 L559.30,247.18 L560.10,247.54 L560.90,246.98 L561.70,246.66 L562.50,246.86 L563.30,246.91 L564.10,246.84 L564.90,247.00 L565.70,247.08 L566.50,247.37 L567.30,247.56 L568.10,247.87 L568.90,247.82 L569.70,247.55 L570.50,247.77 L571.30,247.57 L572.10,247.55 L572.90,247.08 L573.70,246.80 L574.50,246.53 L575.30,246.75 L576.10,246.41 L576.90,246.81 L577.70,247.09 L578.50,247.41 L579.30,247.33 L580.10,247.49 L580.90,246.99 L581.70,247.26 L582.50,246.76 L583.30,247.34 L584.10,247.14 L584.90,246.49 L585.70,246.77 L586.50,246.66 L587.30,245.97 L588.10,246.37 L588.90,246.60 L589.70,247.07 L590.50,247.60 L591.30,247.81 L592.10,247.40 L592.90,247.53 L593.70,247.43 L594.50,246.94 L595.30,246.91 L596.10,246.93 L596.90,246.61 L597.70,246.45 L598.50,246.57 L599.30,246.57 L600.10,246.45 L600.90,246.95 L601.70,247.40 L602.50,247.71 L603.30,248.06 L604.10,247.54 L604.90,248.02 L605.70,247.39 L606.50,247.27 L607.30,247.38 L608.10,247.33 L608.90,247.35 L609.70,246.92 L610.50,247.28 L611.30,246.95 L612.10,247.14 L612.90,247.14 L613.70,247.12 L614.50,247.34 L615.30,248.04 L616.10,248.15 L616.90,247.78 L617.70,247.32 L618.50,246.83 L619.30,246.66 L620.10,246.12 L620.90,246.41 L621.70,245.82 L622.50,246.28 L623.30,246.12 L624.10,245.70 L624.90,245.91 L625.70,245.93 L626.50,246.01 L627.30,246.40 L628.10,246.43 L628.90,245.58 L629.70,245.66 L630.50,244.64 L631.30,244.21 L632.10,244.50 L632.90,244.56 L633.70,245.58 L634.50,246.54 L635.30,247.47 L636.10,248.70 L636.90,249.83 L637.70,250.88 L638.50,252.28 L639.30,253.99 L640.10,254.79 L640.90,255.73 L641.70,256.75 L642.50,257.05 L643.30,258.60 L644.10,259.71 L644.90,260.60 L645.70,261.64 L646.50,262.84 L647.30,263.63 L648.10,264.95 L648.90,265.74 L649.70,266.77 L650.50,268.39 L651.30,269.51 L652.10,270.44 L652.90,271.62 L653.70,272.65 L654.50,273.95 L655.30,274.49 L656.10,275.54 L656.90,276.86 L657.70,277.43 L658.50,278.45 L659.30,278.05 L660.10,278.36 L660.90,278.31 L661.70,278.93 L662.50,278.85 L663.30,278.77 L664.10,278.84 L664.90,279.04 L665.70,278.61 L666.50,278.67 L667.30,278.64 L668.10,278.27 L668.90,278.17 L669.70,278.30 L670.50,278.17"/>
<path clip-path="url(#c2)" fill="#1f77b4" d="M45.85,398.50 L46.10,398.50 L46.35,398.50 L46.60,398.50 L46.85,398.50 L47.10,405.00 L47.35,405.00 L47.60,405.00 L47.85,405.00 L48.10,405.00 L48.35,405.00 L48.60,405.00 L48.85,405.00 L49.10,405.00 L49.35,398.00 L49.60,398.00 L49.85,377.70 L50.10,345.00 L50.35,345.00 L50.60,345.00 L50.85,345.00 L51.10,345.00 L51.35,345.00 L51.60,345.00 L51.85,345.00 L52.10,415.80 L52.35,415.80 L52.60,415.80 L52.85,415.80 L53.10,415.80 L53.35,415.80 L53.60,374.50 L53.85,374.50 L54.10,374.50 L54.35,374.50 L54.60,374.50 L54.85,374.50 L55.10,374.50 L55.35,374.50 L55.60,374.50 L55.85,382.20 L56.10,382.20 L56.35,382.20 L56.60,382.20 L56.85,382.20 L57.10,394.80 L57.35,394.80 L57.60,394.80 L57.85,394.80 L58.10,394.80 L58.35,394.80 L58.60,394.80 L58.85,394.80 L59.10,394.80 L59.35,394.80 L59.60,394.80 L59.85,410.80 L60.10,410.80 L60.35,410.80 L60.60,410.80 L60.85,410.80 L61.10,410.80 L61.35,410.80 L61.60,410.80 L61.85,405.00 L62.10,405.00 L62.35,405.00 L62.60,405.00 L62.85,405.00 L63.10,405.00 L63.35,405.00 L63.60,405.00 L63.85,405.00 L64.10,411.00 L64.35,411.00 L64.60,411.00 L64.85,411.00 L65.10,411.00 L65.35,411.00 L65.60,387.00 L65.85,387.00 L66.10,387.00 L66.35,387.00 L66.60,387.00 L66.85,387.00 L67.10,387.00 L67.35,387.00 L67.60,400.40 L67.85,400.40 L68.10,400.40 L68.35,400.40 L68.60,400.40 L68.85,400.40 L69.10,400.40 L69.35,400.40 L69.60,400.40 L69.85,387.00 L70.10,387.00 L70.35,387.00 L70.60,387.00 L70.85,387.00 L71.10,387.00 L71.35,387.00 L71.60,398.50 L71.85,398.50 L72.10,398.50 L72.35,398.50 L72.60,398.50 L72.85,398.50 L73.10,398.50 L73.35,398.50 L73.60,405.00 L73.85,405.00 L74.10,405.00 L74.35,405.00 L74.60,405.00 L74.85,405.00 L75.10,405.00 L75.35,405.00 L75.60,405.00 L75.85,398.00 L76.10,398.00 L76.35,377.70 L76.60,377.70 L76.85,345.00 L77.10,345.00 L77.35,345.00 L77.60,345.00 L77.85,345.00 L78.10,345.00 L78.35,345.00 L78.60,415.80 L78.85,415.80 L79.10,415.80 L79.35,415.80 L79.60,415.80 L79.85,415.80 L80.10,374.50 L80.35,374.50 L80.60,374.50 L80.85,374.50 L81.10,374.50 L81.35,374.50 L81.60,374.50 L81.85,374.50 L82.10,374.50 L82.35,382.20 L82.60,382.20 L82.85,382.20 L83.10,382.20 L83.35,382.20 L83.60,394.80 L83.85,394.80 L84.10,394.80 L84.35,394.80 L84.60,394.80 L84.85,394.80 L85.10,394.80 L85.35,394.80 L85.60,394.80 L85.85,394.80 L86.10,394.80 L86.35,410.80 L86.60,410.80 L86.85,410.80 L87.10,410.80 L87.35,410.80 L87.60,410.80 L87.85,410.80 L88.10,410.80 L88.35,410.80 L88.60,405.00 L88.85,405.00 L89.10,405.00 L89.35,405.00 L89.60,405.00 L89.85,405.00 L90.10,405.00 L90.35,405.00 L90.60,411.00 L90.85,411.00 L91.10,411.00 L91.35,411.00 L91.60,411.00 L91.85,411.00 L92.10,387.00 L92.35,387.00 L92.60,387.00 L92.85,387.00 L93.10,387.00 L93.35,387.00 L93.60,387.00 L93.85,387.00 L94.10,400.40 L94.35,400.40 L94.60,400.40 L94.85,400.40 L95.10,400.40 L95.35,400.40 L95.60,400.40 L95.85,400.40 L96.10,400.40 L96.35,387.00 L96.60,387.00 L96.85,387.00 L97.10,387.00 L97.35,387.00 L97.60,387.00 L97.85,387.00 L98.10,398.50 L98.35,398.50 L98.60,398.50 L98.85,398.50 L99.10,398.50 L99.35,398.50 L99.60,398.50 L99.85,398.50 L100.10,405.00 L100.35,405.00 L100.60,405.00 L100.85,405.00 L101.10,405.00 L101.35,405.00 L101.60,405.00 L101.85,405.00 L102.10,405.00 L102.35,398.00 L102.60,398.00 L102.85,377.70 L103.10,377.70 L103.35,345.00 L103.60,345.00 L103.85,345.00 L104.10,345.00 L104.35,345.00 L104.60,345.00 L104.85,345.00 L105.10,415.80 L105.35,415.80 L105.60,415.80 L105.85,415.80 L106.10,415.80 L106.35,415.80 L106.60,374.50 L106.85,374.50 L107.10,374.50 L107.35,374.50 L107.60,374.50 L107.85,374.50 L108.10,374.50 L108.35,374.50 L108.60,374.50 L108.85,382.20 L109.10,382.20 L109.35,382.20 L109.60,382.20 L109.85,382.20 L110.10,394.80 L110.35,394.80 L110.60,394.80 L110.85,394.80 L111.10,394.80 L111.35,394.80 L111.60,394.80 L111.85,394.80 L112.10,394.80 L112.35,394.80 L112.60,394.80 L112.85,410.80 L113.10,410.80 L113.35,410.80 L113.60,410.80 L113.85,410.80 L114.10,410.80 L114.35,410.80 L114.60,410.80 L114.85,410.80 L115.10,405.00 L115.35,405.00 L115.60,405.00 L115.85,405.00 L116.10,405.00 L116.35,405.00 L116.60,405.00 L116.85,405.00 L117.10,411.00 L117.35,411.00 L117.60,411.00 L117.85,411.00 L118.10,411.00 L118.35,411.00 L118.60,387.00 L118.85,387.00 L119.10,387.00 L119.35,387.00 L119.60,387.00 L119.85,387.00 L120.10,387.00 L120.35,387.00 L120.60,400.40 L120.85,400.40 L121.10,400.40 L121.35,400.40 L121.60,400.40 L121.85,400.40 L122.10,400.40 L122.35,400.40 L122.60,400.40 L122.85,387.00 L123.10,387.00 L123.35,387.00 L123.60,387.00 L123.85,387.00 L124.10,387.00 L124.35,387.00 L124.60,398.50 L124.85,398.50 L125.10,398.50 L125.35,398.50 L125.60,398.50 L125.85,398.50 L126.10,398.50 L126.35,398.50 L126.60,405.00 L126.85,405.00 L127.10,405.00 L127.35,405.00 L127.60,405.00 L127.85,405.00 L128.10,405.00 L128.35,405.00 L128.60,405.00 L128.85,398.00 L129.10,398.00 L129.35,377.70 L129.60,377.70 L129.85,345.00 L130.10,345.00 L130.35,345.00 L130.60,345.00 L130.85,345.00 L131.10,345.00 L131.35,345.00 L131.60,345.00 L131.85,415.80 L132.10,415.80 L132.35,415.80 L132.60,415.80 L132.85,415.80 L133.10,415.80 L133.35,374.50 L133.60,374.50 L133.85,374.50 L134.10,374.50 L134.35,374.50 L134.60,374.50 L134.85,374.50 L135.10,374.50 L135.35,382.20 L135.60,382.20 L135.85,382.20 L136.10,382.20 L136.35,382.20 L136.60,394.80 L136.85,394.80 L137.10,394.80 L137.35,394.80 L137.60,394.80 L137.85,394.80 L138.10,394.80 L138.35,394.80 L138.60,394.80 L138.85,394.80 L139.10,394.80 L139.35,410.80 L139.60,410.80 L139.85,410.80 L140.10,410.80 L140.35,410.80 L140.60,410.80 L140.85,410.80 L141.10,410.80 L141.35,410.80 L141.60,405.00 L141.85,405.00 L142.10,405.00 L142.35,405.00 L142.60,405.00 L142.85,405.00 L143.10,405.00 L143.35,405.00 L143.60,411.00 L143.85,411.00 L144.10,411.00 L144.35,411.00 L144.60,411.00 L144.85,411.00 L145.10,411.00 L145.35,387.00 L145.60,387.00 L145.85,387.00 L146.10,387.00 L146.35,387.00 L146.60,387.00 L146.85,387.00 L147.10,400.40 L147.35,400.40 L147.60,400.40 L147.85,400.40 L148.10,400.40 L148.35,400.40 L148.60,400.40 L148.85,400.40 L149.10,400.40 L149.35,387.00 L149.60,387.00 L149.85,387.00 L150.10,387.00 L150.35,387.00 L150.60,387.00 L150.85,387.00 L151.10,387.00 L151.35,398.50 L151.60,398.50 L151.85,398.50 L152.10,398.50 L152.35,398.50 L152.60,398.50 L152.85,398.50 L153.10,398.50 L153.35,405.00 L153.60,405.00 L153.85,405.00 L154.10,405.00 L154.35,405.00 L154.60,405.00 L154.85,405.00 L155.10,405.00 L155.35,398.00 L155.60,398.00 L155.85,377.70 L156.10,377.70 L156.35,345.00 L156.60,345.00 L156.85,345.00 L157.10,345.00 L157.35,345.00 L157.60,345.00 L157.85,345.00 L158.10,345.00 L158.35,415.80 L158.60,415.80 L158.85,415.80 L159.10,415.80 L159.35,415.80 L159.60,415.80 L159.85,374.50 L160.10,374.50 L160.35,374.50 L160.60,374.50 L160.85,374.50 L161.10,374.50 L161.35,374.50 L161.60,374.50 L161.85,382.20 L162.10,382.20 L162.35,382.20 L162.60,382.20 L162.85,382.20 L163.10,394.80 L163.35,394.80 L163.60,394.80 L163.85,394.80 L164.10,394.80 L164.35,394.80 L164.60,394.80 L164.85,394.80 L165.10,394.80 L165.35,394.80 L165.60,394.80 L165.85,410.80 L166.10,410.80 L166.35,410.80 L166.60,410.80 L166.85,410.80 L167.10,410.80 L167.35,410.80 L167.60,410.80 L167.85,410.80 L168.10,405.00 L168.35,405.00 L168.60,405.00 L168.85,405.00 L169.10,405.00 L169.35,405.00 L169.60,405.00 L169.85,405.00 L170.10,411.00 L170.35,411.00 L170.60,411.00 L170.85,411.00 L171.10,411.00 L171.35,411.00 L171.60,411.00 L171.85,387.00 L172.10,387.00 L172.35,387.00 L172.60,387.00 L172.85,387.00 L173.10,387.00 L173.35,387.00 L173.60,400.40 L173.85,400.40 L174.10,400.40 L174.35,400.40 L174.60,400.40 L174.85,400.40 L175.10,400.40 L175.35,400.40 L175.60,400.40 L175.85,387.00 L176.10,387.00 L176.35,387.00 L176.60,387.00 L176.85,387.00 L177.10,387.00 L177.35,387.00 L177.60,387.00 L177.85,398.50 L178.10,398.50 L178.35,398.50 L178.60,398.50 L178.85,398.50 L179.10,398.50 L179.35,398.50 L179.60,398.50 L179.85,405.00 L180.10,405.00 L180.35,405.00 L180.60,405.00 L180.85,405.00 L181.10,405.00 L181.35,405.00 L181.60,405.00 L181.85,398.00 L182.10,398.00 L182.35,377.70 L182.60,377.70 L182.85,345.00 L183.10,345.00 L183.35,345.00 L183.60,345.00 L183.85,345.00 L184.10,345.00 L184.35,345.00 L184.60,345.00 L184.85,415.80 L185.10,415.80 L185.35,415.80 L185.60,415.80 L185.85,415.80 L186.10,415.80 L186.35,374.50 L186.60,374.50 L186.85,374.50 L187.10,374.50 L187.35,374.50 L187.60,374.50 L187.85,374.50 L188.10,374.50 L188.35,382.20 L188.60,382.20 L188.85,382.20 L189.10,382.20 L189.35,382.20 L189.60,394.80 L189.85,394.80 L190.10,394.80 L190.35,394.80 L190.60,394.80 L190.85,394.80 L191.10,394.80 L191.35,394.80 L191.60,394.80 L191.85,394.80 L192.10,394.80 L192.35,410.80 L192.60,410.80 L192.85,410.80 L193.10,410.80 L193.35,410.80 L193.60,410.80 L193.85,410.80 L194.10,410.80 L194.35,410.80 L194.60,405.00 L194.85,405.00 L195.10,405.00 L195.35,405.00 L195.60,405.00 L195.85,405.00 L196.10,405.00 L196.35,405.00 L196.60,411.00 L196.85,411.00 L197.10,411.00 L197.35,411.00 L197.60,411.00 L197.85,411.00 L198.10,411.00 L198.35,387.00 L198.60,387.00 L198.85,387.00 L199.10,387.00 L199.35,387.00 L199.60,387.00 L199.85,387.00 L200.10,400.40 L200.35,400.40 L200.60,400.40 L200.85,400.40 L201.10,400.40 L201.35,400.40 L201.60,400.40 L201.85,400.40 L202.10,400.40 L202.35,387.00 L202.60,387.00 L202.85,387.00 L203.10,387.00 L203.35,387.00 L203.60,387.00 L203.85,387.00 L204.10,387.00 L204.35,398.50 L204.60,398.50 L204.85,398.50 L205.10,398.50 L205.35,398.50 L205.60,398.50 L205.85,398.50 L206.10,398.50 L206.35,405.00 L206.60,405.00 L206.85,405.00 L207.10,405.00 L207.35,405.00 L207.60,405.00 L207.85,405.00 L208.10,405.00 L208.35,405.00 L208.60,398.00 L208.85,377.70 L209.10,377.70 L209.35,345.00 L209.60,345.00 L209.85,345.00 L210.10,345.00 L210.35,345.00 L210.60,345.00 L210.85,345.00 L211.10,345.00 L211.35,415.80 L211.60,415.80 L211.85,415.80 L212.10,415.80 L212.35,415.80 L212.60,415.80 L212.85,374.50 L213.10,374.50 L213.35,374.50 L213.60,374.50 L213.85,374.50 L214.10,374.50 L214.35,374.50 L214.60,374.50 L214.85,374.50 L215.10,382.20 L215.35,382.20 L215.60,382.20 L215.85,382.20 L216.10,394.80 L216.35,394.80 L216.60,394.80 L216.85,394.80 L217.10,394.80 L217.35,394.80 L217.60,394.80 L217.85,394.80 L218.10,394.80 L218.35,394.80 L218.60,394.80 L218.85,394.80 L219.10,410.80 L219.35,410.80 L219.60,410.80 L219.85,410.80 L220.10,410.80 L220.35,410.80 L220.60,410.80 L220.85,410.80 L221.10,405.00 L221.35,405.00 L221.60,405.00 L221.85,405.00 L222.10,405.00 L222.35,405.00 L222.60,405.00 L222.85,405.00 L223.10,411.00 L223.35,411.00 L223.60,411.00 L223.85,411.00 L224.10,411.00 L224.35,411.00 L224.60,411.00 L224.85,387.00 L225.10,387.00 L225.35,387.00 L225.60,387.00 L225.85,387.00 L226.10,387.00 L226.35,387.00 L226.60,400.40 L226.85,400.40 L227.10,400.40 L227.35,400.40 L227.60,400.40 L227.85,400.40 L228.10,400.40 L228.35,400.40 L228.60,400.40 L228.85,387.00 L229.10,387.00 L229.35,387.00 L229.60,387.00 L229.85,387.00 L230.10,387.00 L230.35,387.00 L230.60,387.00 L230.85,398.50 L231.10,398.50 L231.35,398.50 L231.60,398.50 L231.85,398.50 L232.10,398.50 L232.35,398.50 L232.60,398.50 L232.85,405.00 L233.10,405.00 L233.35,405.00 L233.60,405.00 L233.85,405.00 L234.10,405.00 L234.35,405.00 L234.60,405.00 L234.85,405.00 L235.10,398.00 L235.35,377.70 L235.60,377.70 L235.85,345.00 L236.10,345.00 L236.35,345.00 L236.60,345.00 L236.85,345.00 L237.10,345.00 L237.35,345.00 L237.60,345.00 L237.85,415.80 L238.10,415.80 L238.35,415.80 L238.60,415.80 L238.85,415.80 L239.10,415.80 L239.35,374.50 L239.60,374.50 L239.85,374.50 L240.10,374.50 L240.35,374.50 L240.60,374.50 L240.85,374.50 L241.10,374.50 L241.35,374.50 L241.60,382.20 L241.85,382.20 L242.10,382.20 L242.35,382.20 L242.60,394.80 L242.85,394.80 L243.10,394.80 L243.35,394.80 L243.60,394.80 L243.85,394.80 L244.10,394.80 L244.35,394.80 L244.60,394.80 L244.85,394.80 L245.10,394.80 L245.35,394.80 L245.60,410.80 L245.85,410.80 L246.10,410.80 L246.35,410.80 L246.60,410.80 L246.85,410.80 L247.10,410.80 L247.35,410.80 L247.60,405.00 L247.85,405.00 L248.10,405.00 L248.35,405.00 L248.60,405.00 L248.85,405.00 L249.10,405.00 L249.35,405.00 L249.60,411.00 L249.85,411.00 L250.10,411.00 L250.35,411.00 L250.60,411.00 L250.85,411.00 L251.10,411.00 L251.35,387.00 L251.60,387.00 L251.85,387.00 L252.10,387.00 L252.35,387.00 L252.60,387.00 L252.85,387.00 L253.10,400.40 L253.35,400.40 L253.60,400.40 L253.85,400.40 L254.10,400.40 L254.35,400.40 L254.60,400.40 L254.85,400.40 L255.10,400.40 L255.35,387.00 L255.60,387.00 L255.85,387.00 L256.10,387.00 L256.35,387.00 L256.60,387.00 L256.85,387.00 L257.10,387.00 L257.35,398.50 L257.60,398.50 L257.85,398.50 L258.10,398.50 L258.35,398.50 L258.60,398.50 L258.85,398.50 L259.10,398.50 L259.35,405.00 L259.60,405.00 L259.85,405.00 L260.10,405.00 L260.35,405.00 L260.60,405.00 L260.85,405.00 L261.10,405.00 L261.35,405.00 L261.60,398.00 L261.85,377.70 L262.10,377.70 L262.35,345.00 L262.60,345.00 L262.85,345.00 L263.10,345.00 L263.35,345.00 L263.60,345.00 L263.85,345.00 L264.10,345.00 L264.35,415.80 L264.60,415.80 L264.85,415.80 L265.10,415.80 L265.35,415.80 L265.60,415.80 L265.85,374.50 L266.10,374.50 L266.35,374.50 L266.60,374.50 L266.85,374.50 L267.10,374.50 L267.35,374.50 L267.60,374.50 L267.85,374.50 L268.10,382.20 L268.35,382.20 L268.60,382.20 L268.85,382.20 L269.10,382.20 L269.35,394.80 L269.60,394.80 L269.85,394.80 L270.10,394.80 L270.35,394.80 L270.60,394.80 L270.85,394.80 L271.10,394.80 L271.35,394.80 L271.60,394.80 L271.85,394.80 L272.10,410.80 L272.35,410.80 L272.60,410.80 L272.85,410.80 L273.10,410.80 L273.35,410.80 L273.60,410.80 L273.85,410.80 L274.10,405.00 L274.35,405.00 L274.60,405.00 L274.85,405.00 L275.10,405.00 L275.35,405.00 L275.60,405.00 L275.85,405.00 L276.10,405.00 L276.35,411.00 L276.60,411.00 L276.85,411.00 L277.10,411.00 L277.35,411.00 L277.60,411.00 L277.85,387.00 L278.10,387.00 L278.35,387.00 L278.60,387.00 L278.85,387.00 L279.10,387.00 L279.35,387.00 L279.60,400.40 L279.85,400.40 L280.10,400.40 L280.35,400.40 L280.60,400.40 L280.85,400.40 L281.10,400.40 L281.35,400.40 L281.60,400.40 L281.85,387.00 L282.10,387.00 L282.35,387.00 L282.60,387.00 L282.85,387.00 L283.10,387.00 L283.35,387.00 L283.60,387.00 L283.85,398.50 L284.10,398.50 L284.35,398.50 L284.60,398.50 L284.85,398.50 L285.10,398.50 L285.35,398.50 L285.60,398.50 L285.85,405.00 L286.10,405.00 L286.35,405.00 L286.60,405.00 L286.85,405.00 L287.10,405.00 L287.35,405.00 L287.60,405.00 L287.85,405.00 L288.10,398.00 L288.35,377.70 L288.60,377.70 L288.85,345.00 L289.10,345.00 L289.35,345.00 L289.60,345.00 L289.85,345.00 L290.10,345.00 L290.35,345.00 L290.60,345.00 L290.85,415.80 L291.10,415.80 L291.35,415.80 L291.60,415.80 L291.85,415.80 L292.10,415.80 L292.35,374.50 L292.60,374.50 L292.85,374.50 L293.10,374.50 L293.35,374.50 L293.60,374.50 L293.85,374.50 L294.10,374.50 L294.35,374.50 L294.60,382.20 L294.85,382.20 L295.10,382.20 L295.35,382.20 L295.60,382.20 L295.85,394.80 L296.10,394.80 L296.35,394.80 L296.60,394.80 L296.85,394.80 L297.10,394.80 L297.35,394.80 L297.60,394.80 L297.85,394.80 L298.10,394.80 L298.35,394.80 L298.60,410.80 L298.85,410.80 L299.10,410.80 L299.35,410.80 L299.60,410.80 L299.85,410.80 L300.10,410.80 L300.35,410.80 L300.60,405.00 L300.85,405.00 L301.10,405.00 L301.35,405.00 L301.60,405.00 L301.85,405.00 L302.10,405.00 L302.35,405.00 L302.60,405.00 L302.85,411.00 L303.10,411.00 L303.35,411.00 L303.60,411.00 L303.85,411.00 L304.10,411.00 L304.35,387.00 L304.60,387.00 L304.85,387.00 L305.10,387.00 L305.35,387.00 L305.60,387.00 L305.85,387.00 L306.10,400.40 L306.35,400.40 L306.60,400.40 L306.85,400.40 L307.10,400.40 L307.35,400.40 L307.60,400.40 L307.85,400.40 L308.10,400.40 L308.35,387.00 L308.60,387.00 L308.85,387.00 L309.10,387.00 L309.35,387.00 L309.60,387.00 L309.85,387.00 L310.10,387.00 L310.35,398.50 L310.60,398.50 L310.85,398.50 L311.10,398.50 L311.35,398.50 L311.60,398.50 L311.85,398.50 L312.10,398.50 L312.35,405.00 L312.60,405.00 L312.85,405.00 L313.10,405.00 L313.35,405.00 L313.60,405.00 L313.85,405.00 L314.10,405.00 L314.35,405.00 L314.60,398.00 L314.85,377.70 L315.10,377.70 L315.35,345.00 L315.60,345.00 L315.85,345.00 L316.10,345.00 L316.35,345.00 L316.60,345.00 L316.85,345.00 L317.10,345.00 L317.35,415.80 L317.60,415.80 L317.85,415.80 L318.10,415.80 L318.35,415.80 L318.60,415.80 L318.85,374.50 L319.10,374.50 L319.35,374.50 L319.60,374.50 L319.85,374.50 L320.10,374.50 L320.35,374.50 L320.60,374.50 L320.85,374.50 L321.10,382.20 L321.35,382.20 L321.60,382.20 L321.85,382.20 L322.10,382.20 L322.35,394.80 L322.60,394.80 L322.85,394.80 L323.10,394.80 L323.35,394.80 L323.60,394.80 L323.85,394.80 L324.10,394.80 L324.35,394.80 L324.60,394.80 L324.85,394.80 L325.10,410.80 L325.35,410.80 L325.60,410.80 L325.85,410.80 L326.10,410.80 L326.35,410.80 L326.60,410.80 L326.85,410.80 L327.10,405.00 L327.35,405.00 L327.60,405.00 L327.85,405.00 L328.10,405.00 L328.35,405.00 L328.60,405.00 L328.85,405.00 L329.10,405.00 L329.35,411.00 L329.60,411.00 L329.85,411.00 L330.10,411.00 L330.35,411.00 L330.60,411.00 L330.85,387.00 L331.10,387.00 L331.35,387.00 L331.60,387.00 L331.85,387.00 L332.10,387.00 L332.35,387.00 L332.60,400.40 L332.85,400.40 L333.10,400.40 L333.35,400.40 L333.60,400.40 L333.85,400.40 L334.10,400.40 L334.35,400.40 L334.60,400.40 L334.85,387.00 L335.10,387.00 L335.35,387.00 L335.60,387.00 L335.85,387.00 L336.10,387.00 L336.35,387.00 L336.60,387.00 L336.85,398.50 L337.10,398.50 L337.35,398.50 L337.60,398.50 L337.85,398.50 L338.10,398.50 L338.35,398.50 L338.60,398.50 L338.85,405.00 L339.10,405.00 L339.35,405.00 L339.60,405.00 L339.85,405.00 L340.10,405.00 L340.35,405.00 L340.60,405.00 L340.85,405.00 L341.10,398.00 L341.35,398.00 L341.60,377.70 L341.85,345.00 L342.10,345.00 L342.35,345.00 L342.60,345.00 L342.85,345.00 L343.10,345.00 L343.35,345.00 L343.60,345.00 L343.85,415.80 L344.10,415.80 L344.35,415.80 L344.60,415.80 L344.85,415.80 L345.10,415.80 L345.35,374.50 L345.60,374.50 L345.85,374.50 L346.10,374.50 L346.35,374.50 L346.60,374.50 L346.85,374.50 L347.10,374.50 L347.35,374.50 L347.60,382.20 L347.85,382.20 L348.10,382.20 L348.35,382.20 L348.60,382.20 L348.85,394.80 L349.10,394.80 L349.35,394.80 L349.60,394.80 L349.85,394.80 L350.10,394.80 L350.35,394.80 L350.60,394.80 L350.85,394.80 L351.10,394.80 L351.35,394.80 L351.60,410.80 L351.85,410.80 L352.10,410.80 L352.35,410.80 L352.60,410.80 L352.85,410.80 L353.10,410.80 L353.35,410.80 L353.60,405.00 L353.85,405.00 L354.10,405.00 L354.35,405.00 L354.60,405.00 L354.85,405.00 L355.10,405.00 L355.35,405.00 L355.60,405.00 L355.85,411.00 L356.10,411.00 L356.35,411.00 L356.60,411.00 L356.85,411.00 L357.10,411.00 L357.35,387.00 L357.60,387.00 L357.85,387.00 L358.10,387.00 L358.35,387.00 L358.60,387.00 L358.85,387.00 L359.10,400.40 L359.35,400.40 L359.60,400.40 L359.85,400.40 L360.10,400.40 L360.35,400.40 L360.60,400.40 L360.85,400.40 L361.10,400.40 L361.35,400.40 L361.60,387.00 L361.85,387.00 L362.10,387.00 L362.35,387.00 L362.60,387.00 L362.85,387.00 L363.10,387.00 L363.35,398.50 L363.60,398.50 L363.85,398.50 L364.10,398.50 L364.35,398.50 L364.60,398.50 L364.85,398.50 L365.10,398.50 L365.35,405.00 L365.60,405.00 L365.85,405.00 L366.10,405.00 L366.35,405.00 L366.60,405.00 L366.85,405.00 L367.10,405.00 L367.35,405.00 L367.60,398.00 L367.85,398.00 L368.10,377.70 L368.35,345.00 L368.60,345.00 L368.85,345.00 L369.10,345.00 L369.35,345.00 L369.60,345.00 L369.85,345.00 L370.10,345.00 L370.35,415.80 L370.60,415.80 L370.85,415.80 L371.10,415.80 L371.35,415.80 L371.60,415.80 L371.85,374.50 L372.10,374.50 L372.35,374.50 L372.60,374.50 L372.85,374.50 L373.10,374.50 L373.35,374.50 L373.60,374.50 L373.85,374.50 L374.10,382.20 L374.35,382.20 L374.60,382.20 L374.85,382.20 L375.10,382.20 L375.35,394.80 L375.60,394.80 L375.85,394.80 L376.10,394.80 L376.35,394.80 L376.60,394.80 L376.85,394.80 L377.10,394.80 L377.35,394.80 L377.60,394.80 L377.85,394.80 L378.10,410.80 L378.35,410.80 L378.60,410.80 L378.85,410.80 L379.10,410.80 L379.35,410.80 L379.60,410.80 L379.85,410.80 L380.10,405.00 L380.35,405.00 L380.60,405.00 L380.85,405.00 L381.10,405.00 L381.35,405.00 L381.60,405.00 L381.85,405.00 L382.10,405.00 L382.35,411.00 L382.60,411.00 L382.85,411.00 L383.10,411.00 L383.35,411.00 L383.60,411.00 L383.85,387.00 L384.10,387.00 L384.35,387.00 L384.60,387.00 L384.85,387.00 L385.10,387.00 L385.35,387.00 L385.60,400.40 L385.85,400.40 L386.10,400.40 L386.35,400.40 L386.60,400.40 L386.85,400.40 L387.10,400.40 L387.35,400.40 L387.60,400.40 L387.85,400.40 L388.10,387.00 L388.35,387.00 L388.60,387.00 L388.85,387.00 L389.10,387.00 L389.35,387.00 L389.60,387.00 L389.85,398.50 L390.10,398.50 L390.35,398.50 L390.60,398.50 L390.85,398.50 L391.10,398.50 L391.35,398.50 L391.60,398.50 L391.85,405.00 L392.10,405.00 L392.35,405.00 L392.60,405.00 L392.85,405.00 L393.10,405.00 L393.35,405.00 L393.60,405.00 L393.85,405.00 L394.10,398.00 L394.35,398.00 L394.60,377.70 L394.85,377.70 L395.10,345.00 L395.35,345.00 L395.60,345.00 L395.85,345.00 L396.10,345.00 L396.35,345.00 L396.60,345.00 L396.85,415.80 L397.10,415.80 L397.35,415.80 L397.60,415.80 L397.85,415.80 L398.10,415.80 L398.35,374.50 L398.60,374.50 L398.85,374.50 L399.10,374.50 L399.35,374.50 L399.60,374.50 L399.85,374.50 L400.10,374.50 L400.35,374.50 L400.60,382.20 L400.85,382.20 L401.10,382.20 L401.35,382.20 L401.60,382.20 L401.85,394.80 L402.10,394.80 L402.35,394.80 L402.60,394.80 L402.85,394.80 L403.10,394.80 L403.35,394.80 L403.60,394.80 L403.85,394.80 L404.10,394.80 L404.35,394.80 L404.60,410.80 L404.85,410.80 L405.10,410.80 L405.35,410.80 L405.60,410.80 L405.85,410.80 L406.10,410.80 L406.35,410.80 L406.60,410.80 L406.85,405.00 L407.10,405.00 L407.35,405.00 L407.60,405.00 L407.85,405.00 L408.10,405.00 L408.35,405.00 L408.60,405.00 L408.85,411.00 L409.10,411.00 L409.35,411.00 L409.60,411.00 L409.85,411.00 L410.10,411.00 L410.35,387.00 L410.60,387.00 L410.85,387.00 L411.10,387.00 L411.35,387.00 L411.60,387.00 L411.85,387.00 L412.10,387.00 L412.35,400.40 L412.60,400.40 L412.85,400.40 L413.10,400.40 L413.35,400.40 L413.60,400.40 L413.85,400.40 L414.10,400.40 L414.35,400.40 L414.60,387.00 L414.85,387.00 L415.10,387.00 L415.35,387.00 L415.60,387.00 L415.85,387.00 L416.10,387.00 L416.35,398.50 L416.60,398.50 L416.85,398.50 L417.10,398.50 L417.35,398.50 L417.60,398.50 L417.85,398.50 L418.10,398.50 L418.35,405.00 L418.60,405.00 L418.85,405.00 L419.10,405.00 L419.35,405.00 L419.60,405.00 L419.85,405.00 L420.10,405.00 L420.35,405.00 L420.60,398.00 L420.85,398.00 L421.10,377.70 L421.35,377.70 L421.60,345.00 L421.85,345.00 L422.10,345.00 L422.35,345.00 L422.60,345.00 L422.85,345.00 L423.10,345.00 L423.35,415.80 L423.60,415.80 L423.85,415.80 L424.10,415.80 L424.35,415.80 L424.60,415.80 L424.85,374.50 L425.10,374.50 L425.35,374.50 L425.60,374.50 L425.85,374.50 L426.10,374.50 L426.35,374.50 L426.60,374.50 L426.85,374.50 L427.10,382.20 L427.35,382.20 L427.60,382.20 L427.85,382.20 L428.10,382.20 L428.35,394.80 L428.60,394.80 L428.85,394.80 L429.10,394.80 L429.35,394.80 L429.60,394.80 L429.85,394.80 L430.10,394.80 L430.35,394.80 L430.60,394.80 L430.85,394.80 L431.10,410.80 L431.35,410.80 L431.60,410.80 L431.85,410.80 L432.10,410.80 L432.35,410.80 L432.60,410.80 L432.85,410.80 L433.10,410.80 L433.35,405.00 L433.60,405.00 L433.85,405.00 L434.10,405.00 L434.35,405.00 L434.60,405.00 L434.85,405.00 L435.10,405.00 L435.35,411.00 L435.60,411.00 L435.85,411.00 L436.10,411.00 L436.35,411.00 L436.60,411.00 L436.85,387.00 L437.10,387.00 L437.35,387.00 L437.60,387.00 L437.85,387.00 L438.10,387.00 L438.35,387.00 L438.60,387.00 L438.85,400.40 L439.10,400.40 L439.35,400.40 L439.60,400.40 L439.85,400.40 L440.10,400.40 L440.35,400.40 L440.60,400.40 L440.85,400.40 L441.10,387.00 L441.35,387.00 L441.60,387.00 L441.85,387.00 L442.10,387.00 L442.35,387.00 L442.60,387.00 L442.85,398.50 L443.10,398.50 L443.35,398.50 L443.60,398.50 L443.85,398.50 L444.10,398.50 L444.35,398.50 L444.60,398.50 L444.85,405.00 L445.10,405.00 L445.35,405.00 L445.60,405.00 L445.85,405.00 L446.10,405.00 L446.35,405.00 L446.60,405.00 L446.85,405.00 L447.10,398.00 L447.35,398.00 L447.60,377.70 L447.85,377.70 L448.10,345.00 L448.35,345.00 L448.60,345.00 L448.85,345.00 L449.10,345.00 L449.35,345.00 L449.60,345.00 L449.85,415.80 L450.10,415.80 L450.35,415.80 L450.60,415.80 L450.85,415.80 L451.10,415.80 L451.35,374.50 L451.60,374.50 L451.85,374.50 L452.10,374.50 L452.35,374.50 L452.60,374.50 L452.85,374.50 L453.10,374.50 L453.35,374.50 L453.60,382.20 L453.85,382.20 L454.10,382.20 L454.35,382.20 L454.60,382.20 L454.85,394.80 L455.10,394.80 L455.35,394.80 L455.60,394.80 L455.85,394.80 L456.10,394.80 L456.35,394.80 L456.60,394.80 L456.85,394.80 L457.10,394.80 L457.35,394.80 L457.60,410.80 L457.85,410.80 L458.10,410.80 L458.35,410.80 L458.60,410.80 L458.85,410.80 L459.10,410.80 L459.35,410.80 L459.60,410.80 L459.85,405.00 L460.10,405.00 L460.35,405.00 L460.60,405.00 L460.85,405.00 L461.10,405.00 L461.35,405.00 L461.60,405.00 L461.85,411.00 L462.10,411.00 L462.35,411.00 L462.60,411.00 L462.85,411.00 L463.10,411.00 L463.35,387.00 L463.60,387.00 L463.85,387.00 L464.10,387.00 L464.35,387.00 L464.60,387.00 L464.85,387.00 L465.10,387.00 L465.35,400.40 L465.60,400.40 L465.85,400.40 L466.10,400.40 L466.35,400.40 L466.60,400.40 L466.85,400.40 L467.10,400.40 L467.35,400.40 L467.60,387.00 L467.85,387.00 L468.10,387.00 L468.35,387.00 L468.60,387.00 L468.85,387.00 L469.10,387.00 L469.35,398.50 L469.60,398.50 L469.85,398.50 L470.10,398.50 L470.35,398.50 L470.60,398.50 L470.85,398.50 L471.10,398.50 L471.35,405.00 L471.60,405.00 L471.85,405.00 L472.10,405.00 L472.35,405.00 L472.60,405.00 L472.85,405.00 L473.10,405.00 L473.35,405.00 L473.60,398.00 L473.85,398.00 L474.10,377.70 L474.35,377.70 L474.60,345.00 L474.85,345.00 L475.10,345.00 L475.35,345.00 L475.60,345.00 L475.85,345.00 L476.10,345.00 L476.35,345.00 L476.60,415.80 L476.85,415.80 L477.10,415.80 L477.35,415.80 L477.60,415.80 L477.85,415.80 L478.10,374.50 L478.35,374.50 L478.60,374.50 L478.85,374.50 L479.10,374.50 L479.35,374.50 L479.60,374.50 L479.85,374.50 L480.10,382.20 L480.35,382.20 L480.60,382.20 L480.85,382.20 L481.10,382.20 L481.35,394.80 L481.60,394.80 L481.85,394.80 L482.10,394.80 L482.35,394.80 L482.60,394.80 L482.85,394.80 L483.10,394.80 L483.35,394.80 L483.60,394.80 L483.85,394.80 L484.10,410.80 L484.35,410.80 L484.60,410.80 L484.85,410.80 L485.10,410.80 L485.35,410.80 L485.60,410.80 L485.85,410.80 L486.10,410.80 L486.35,405.00 L486.60,405.00 L486.85,405.00 L487.10,405.00 L487.35,405.00 L487.60,405.00 L487.85,405.00 L488.10,405.00 L488.35,411.00 L488.60,411.00 L488.85,411.00 L489.10,411.00 L489.35,411.00 L489.60,411.00 L489.85,411.00 L490.10,387.00 L490.35,387.00 L490.60,387.00 L490.85,387.00 L491.10,387.00 L491.35,387.00 L491.60,387.00 L491.85,400.40 L492.10,400.40 L492.35,400.40 L492.60,400.40 L492.85,400.40 L493.10,400.40 L493.35,400.40 L493.60,400.40 L493.85,400.40 L494.10,387.00 L494.35,387.00 L494.60,387.00 L494.85,387.00 L495.10,387.00 L495.35,387.00 L495.60,387.00 L495.85,387.00 L496.10,398.50 L496.35,398.50 L496.60,398.50 L496.85,398.50 L497.10,398.50 L497.35,398.50 L497.60,398.50 L497.85,398.50 L498.10,405.00 L498.35,405.00 L498.60,405.00 L498.85,405.00 L499.10,405.00 L499.35,405.00 L499.60,405.00 L499.85,405.00 L500.10,398.00 L500.35,398.00 L500.60,377.70 L500.85,377.70 L501.10,345.00 L501.35,345.00 L501.60,345.00 L501.85,345.00 L502.10,345.00 L502.35,345.00 L502.60,345.00 L502.85,345.00 L503.10,415.80 L503.35,415.80 L503.60,415.80 L503.85,415.80 L504.10,415.80 L504.35,415.80 L504.60,374.50 L504.85,374.50 L505.10,374.50 L505.35,374.50 L505.60,374.50 L505.85,374.50 L506.10,374.50 L506.35,374.50 L506.60,382.20 L506.85,382.20 L507.10,382.20 L507.35,382.20 L507.60,382.20 L507.85,394.80 L508.10,394.80 L508.35,394.80 L508.60,394.80 L508.85,394.80 L509.10,394.80 L509.35,394.80 L509.60,394.80 L509.85,394.80 L510.10,394.80 L510.35,394.80 L510.60,410.80 L510.85,410.80 L511.10,410.80 L511.35,410.80 L511.60,410.80 L511.85,410.80 L512.10,410.80 L512.35,410.80 L512.60,410.80 L512.85,405.00 L513.10,405.00 L513.35,405.00 L513.60,405.00 L513.85,405.00 L514.10,405.00 L514.35,405.00 L514.60,405.00 L514.85,411.00 L515.10,411.00 L515.35,411.00 L515.60,411.00 L515.85,411.00 L516.10,411.00 L516.35,411.00 L516.60,387.00 L516.85,387.00 L517.10,387.00 L517.35,387.00 L517.60,387.00 L517.85,387.00 L518.10,387.00 L518.35,400.40 L518.60,400.40 L518.85,400.40 L519.10,400.40 L519.35,400.40 L519.60,400.40 L519.85,400.40 L520.10,400.40 L520.35,400.40 L520.60,387.00 L520.85,387.00 L521.10,387.00 L521.35,387.00 L521.60,387.00 L521.85,387.00 L522.10,387.00 L522.35,387.00 L522.60,398.50 L522.85,398.50 L523.10,398.50 L523.35,398.50 L523.60,398.50 L523.85,398.50 L524.10,398.50 L524.35,398.50 L524.60,405.00 L524.85,405.00 L525.10,405.00 L525.35,405.00 L525.60,405.00 L525.85,405.00 L526.10,405.00 L526.35,405.00 L526.60,405.00 L526.85,398.00 L527.10,377.70 L527.35,377.70 L527.60,345.00 L527.85,345.00 L528.10,345.00 L528.35,345.00 L528.60,345.00 L528.85,345.00 L529.10,345.00 L529.35,345.00 L529.60,415.80 L529.85,415.80 L530.10,415.80 L530.35,415.80 L530.60,415.80 L530.85,415.80 L531.10,374.50 L531.35,374.50 L531.60,374.50 L531.85,374.50 L532.10,374.50 L532.35,374.50 L532.60,374.50 L532.85,374.50 L533.10,374.50 L533.35,382.20 L533.60,382.20 L533.85,382.20 L534.10,382.20 L534.35,394.80 L534.60,394.80 L534.85,394.80 L535.10,394.80 L535.35,394.80 L535.60,394.80 L535.85,394.80 L536.10,394.80 L536.35,394.80 L536.60,394.80 L536.85,394.80 L537.10,394.80 L537.35,410.80 L537.60,410.80 L537.85,410.80 L538.10,410.80 L538.35,410.80 L538.60,410.80 L538.85,410.80 L539.10,410.80 L539.35,405.00 L539.60,405.00 L539.85,405.00 L540.10,405.00 L540.35,405.00 L540.60,405.00 L540.85,405.00 L541.10,405.00 L541.35,411.00 L541.60,411.00 L541.85,411.00 L542.10,411.00 L542.35,411.00 L542.60,411.00 L542.85,411.00 L543.10,387.00 L543.35,387.00 L543.60,387.00 L543.85,387.00 L544.10,387.00 L544.35,387.00 L544.60,387.00 L544.85,400.40 L545.10,400.40 L545.35,400.40 L545.60,400.40 L545.85,400.40 L546.10,400.40 L546.35,400.40 L546.60,400.40 L546.85,400.40 L547.10,387.00 L547.35,387.00 L547.60,387.00 L547.85,387.00 L548.10,387.00 L548.35,387.00 L548.60,387.00 L548.85,387.00 L549.10,398.50 L549.35,398.50 L549.60,398.50 L549.85,398.50 L550.10,398.50 L550.35,398.50 L550.60,398.50 L550.85,398.50 L551.10,405.00 L551.35,405.00 L551.60,405.00 L551.85,405.00 L552.10,405.00 L552.35,405.00 L552.60,405.00 L552.85,405.00 L553.10,405.00 L553.35,398.00 L553.60,377.70 L553.85,377.70 L554.10,345.00 L554.35,345.00 L554.60,345.00 L554.85,345.00 L555.10,345.00 L555.35,345.00 L555.60,345.00 L555.85,345.00 L556.10,415.80 L556.35,415.80 L556.60,415.80 L556.85,415.80 L557.10,415.80 L557.35,415.80 L557.60,374.50 L557.85,374.50 L558.10,374.50 L558.35,374.50 L558.60,374.50 L558.85,374.50 L559.10,374.50 L559.35,374.50 L559.60,374.50 L559.85,382.20 L560.10,382.20 L560.35,382.20 L560.60,382.20 L560.85,394.80 L561.10,394.80 L561.35,394.80 L561.60,394.80 L561.85,394.80 L562.10,394.80 L562.35,394.80 L562.60,394.80 L562.85,394.80 L563.10,394.80 L563.35,394.80 L563.60,394.80 L563.85,410.80 L564.10,410.80 L564.35,410.80 L564.60,410.80 L564.85,410.80 L565.10,410.80 L565.35,410.80 L565.60,410.80 L565.85,405.00 L566.10,405.00 L566.35,405.00 L566.60,405.00 L566.85,405.00 L567.10,405.00 L567.35,405.00 L567.60,405.00 L567.85,411.00 L568.10,411.00 L568.35,411.00 L568.60,411.00 L568.85,411.00 L569.10,411.00 L569.35,411.00 L569.60,387.00 L569.85,387.00 L570.10,387.00 L570.35,387.00 L570.60,387.00 L570.85,387.00 L571.10,387.00 L571.35,400.40 L571.60,400.40 L571.85,400.40 L572.10,400.40 L572.35,400.40 L572.60,400.40 L572.85,400.40 L573.10,400.40 L573.35,400.40 L573.60,387.00 L573.85,387.00 L574.10,387.00 L574.35,387.00 L574.60,387.00 L574.85,387.00 L575.10,387.00 L575.35,387.00 L575.60,398.50 L575.85,398.50 L576.10,398.50 L576.35,398.50 L576.60,398.50 L576.85,398.50 L577.10,398.50 L577.35,398.50 L577.60,405.00 L577.85,405.00 L578.10,405.00 L578.35,405.00 L578.60,405.00 L578.85,405.00 L579.10,405.00 L579.35,405.00 L579.60,405.00 L579.85,398.00 L580.10,377.70 L580.35,377.70 L580.60,345.00 L580.85,345.00 L581.10,345.00 L581.35,345.00 L581.60,345.00 L581.85,345.00 L582.10,345.00 L582.35,345.00 L582.60,415.80 L582.85,415.80 L583.10,415.80 L583.35,415.80 L583.60,415.80 L583.85,415.80 L584.10,374.50 L584.35,374.50 L584.60,374.50 L584.85,374.50 L585.10,374.50 L585.35,374.50 L585.60,374.50 L585.85,374.50 L586.10,374.50 L586.35,382.20 L586.60,382.20 L586.85,382.20 L587.10,382.20 L587.35,394.80 L587.60,394.80 L587.85,394.80 L588.10,394.80 L588.35,394.80 L588.60,394.80 L588.85,394.80 L589.10,394.80 L589.35,394.80 L589.60,394.80 L589.85,394.80 L590.10,394.80 L590.35,410.80 L590.60,410.80 L590.85,410.80 L591.10,410.80 L591.35,410.80 L591.60,410.80 L591.85,410.80 L592.10,410.80 L592.35,405.00 L592.60,405.00 L592.85,405.00 L593.10,405.00 L593.35,405.00 L593.60,405.00 L593.85,405.00 L594.10,405.00 L594.35,411.00 L594.60,411.00 L594.85,411.00 L595.10,411.00 L595.35,411.00 L595.60,411.00 L595.85,411.00 L596.10,387.00 L596.35,387.00 L596.60,387.00 L596.85,387.00 L597.10,387.00 L597.35,387.00 L597.60,387.00 L597.85,400.40 L598.10,400.40 L598.35,400.40 L598.60,400.40 L598.85,400.40 L599.10,400.40 L599.35,400.40 L599.60,400.40 L599.85,400.40 L600.10,387.00 L600.35,387.00 L600.60,387.00 L600.85,387.00 L601.10,387.00 L601.35,387.00 L601.60,387.00 L601.85,387.00 L602.10,398.50 L602.35,398.50 L602.60,398.50 L602.85,398.50 L603.10,398.50 L603.35,398.50 L603.60,398.50 L603.85,398.50 L604.10,405.00 L604.35,405.00 L604.60,405.00 L604.85,405.00 L605.10,405.00 L605.35,405.00 L605.60,405.00 L605.85,405.00 L606.10,405.00 L606.35,398.00 L606.60,377.70 L606.85,377.70 L607.10,345.00 L607.35,345.00 L607.60,345.00 L607.85,345.00 L608.10,345.00 L608.35,345.00 L608.60,345.00 L608.85,345.00 L609.10,415.80 L609.35,415.80 L609.60,415.80 L609.85,415.80 L610.10,415.80 L610.35,415.80 L610.60,374.50 L610.85,374.50 L611.10,374.50 L611.35,374.50 L611.60,374.50 L611.85,374.50 L612.10,374.50 L612.35,374.50 L612.60,374.50 L612.85,382.20 L613.10,382.20 L613.35,382.20 L613.60,382.20 L613.85,382.20 L614.10,394.80 L614.35,394.80 L614.60,394.80 L614.85,394.80 L615.10,394.80 L615.35,394.80 L615.60,394.80 L615.85,394.80 L616.10,394.80 L616.35,394.80 L616.60,394.80 L616.85,410.80 L617.10,410.80 L617.35,410.80 L617.60,410.80 L617.85,410.80 L618.10,410.80 L618.35,410.80 L618.60,410.80 L618.85,405.00 L619.10,405.00 L619.35,405.00 L619.60,405.00 L619.85,405.00 L620.10,405.00 L620.35,405.00 L620.60,405.00 L620.85,405.00 L621.10,411.00 L621.35,411.00 L621.60,411.00 L621.85,411.00 L622.10,411.00 L622.35,411.00 L622.60,387.00 L622.85,387.00 L623.10,387.00 L623.35,387.00 L623.60,387.00 L623.85,387.00 L624.10,387.00 L624.35,400.40 L624.60,400.40 L624.85,400.40 L625.10,400.40 L625.35,400.40 L625.60,400.40 L625.85,400.40 L626.10,400.40 L626.35,400.40 L626.60,387.00 L626.85,387.00 L627.10,387.00 L627.35,387.00 L627.60,387.00 L627.85,387.00 L628.10,387.00 L628.35,387.00 L628.60,398.50 L628.85,398.50 L629.10,398.50 L629.35,398.50 L629.60,398.50 L629.85,398.50 L630.10,398.50 L630.35,398.50 L630.60,405.00 L630.85,405.00 L631.10,405.00 L631.35,405.00 L631.60,405.00 L631.85,405.00 L632.10,405.00 L632.35,405.00 L632.60,405.00 L632.85,398.00 L633.10,377.70 L633.35,377.70 L633.60,345.00 L633.85,345.00 L634.10,345.00 L634.35,345.00 L634.60,345.00 L634.85,345.00 L635.10,345.00 L635.35,345.00 L635.60,415.80 L635.85,415.80 L636.10,415.80 L636.35,415.80 L636.60,415.80 L636.85,415.80 L637.10,374.50 L637.35,374.50 L637.60,374.50 L637.85,374.50 L638.10,374.50 L638.35,374.50 L638.60,374.50 L638.85,374.50 L639.10,374.50 L639.35,382.20 L639.60,382.20 L639.85,382.20 L640.10,382.20 L640.35,382.20 L640.60,394.80 L640.85,394.80 L641.10,394.80 L641.35,394.80 L641.60,394.80 L641.85,394.80 L642.10,394.80 L642.35,394.80 L642.60,394.80 L642.85,394.80 L643.10,394.80 L643.35,410.80 L643.60,410.80 L643.85,410.80 L644.10,410.80 L644.35,410.80 L644.60,410.80 L644.85,410.80 L645.10,410.80 L645.35,405.00 L645.60,405.00 L645.85,405.00 L646.10,405.00 L646.35,405.00 L646.60,405.00 L646.85,405.00 L647.10,405.00 L647.35,405.00 L647.60,411.00 L647.85,411.00 L648.10,411.00 L648.35,411.00 L648.60,411.00 L648.85,411.00 L649.10,387.00 L649.35,387.00 L649.60,387.00 L649.85,387.00 L650.10,387.00 L650.35,387.00 L650.60,387.00 L650.85,400.40 L651.10,400.40 L651.35,400.40 L651.60,400.40 L651.85,400.40 L652.10,400.40 L652.35,400.40 L652.60,400.40 L652.85,400.40 L653.10,387.00 L653.35,387.00 L653.60,387.00 L653.85,387.00 L654.10,387.00 L654.35,387.00 L654.60,387.00 L654.85,387.00 L655.10,398.50 L655.35,398.50 L655.60,398.50 L655.85,398.50 L656.10,398.50 L656.35,398.50 L656.60,398.50 L656.85,398.50 L657.10,405.00 L657.35,405.00 L657.60,405.00 L657.85,405.00 L658.10,405.00 L658.35,405.00 L658.60,405.00 L658.85,405.00 L659.10,405.00 L659.35,398.00 L659.60,398.00 L659.85,377.70 L660.10,345.00 L660.35,345.00 L660.60,345.00 L660.85,345.00 L661.10,345.00 L661.35,345.00 L661.60,345.00 L661.85,345.00 L662.10,415.80 L662.35,415.80 L662.60,415.80 L662.85,415.80 L663.10,415.80 L663.35,415.80 L663.60,374.50 L663.85,374.50 L664.10,374.50 L664.35,374.50 L664.60,374.50 L664.85,374.50 L665.10,374.50 L665.35,374.50 L665.60,374.50 L665.85,382.20 L666.10,382.20 L666.35,382.20 L666.60,382.20 L666.85,382.20 L667.10,394.80 L667.35,394.80 L667.60,394.80 L667.85,394.80 L668.10,394.80 L668.35,394.80 L668.60,394.80 L668.85,394.80 L669.10,394.80 L669.35,394.80 L669.60,394.80 L669.85,410.80 L670.10,410.80 L670.35,410.80 L670.60,410.80 L670.85,410.80 L671.10,410.80 L671.35,410.80 L671.60,410.80 L671.85,405.00 L672.10,405.00 L672.35,405.00 L672.60,405.00 L672.85,405.00 L673.10,405.00 L673.35,405.00 L673.60,405.00 L673.85,405.00 L674.10,411.00 L674.35,411.00 L674.60,411.00 L674.85,411.00 L675.10,411.00 L675.35,411.00 L675.60,387.00 L675.85,387.00 L676.10,387.00 L676.35,387.00 L676.60,387.00 L676.85,387.00 L677.10,387.00 L677.35,400.40 L677.60,400.40 L677.85,400.40 L678.10,400.40 L678.35,400.40 L678.60,400.40 L678.85,400.40 L679.10,400.40 L679.35,400.40 L679.60,400.40 L679.85,387.00 L680.10,387.00 L680.35,387.00 L680.60,387.00 L680.85,387.00 L681.10,387.00 L681.35,387.00 L681.60,398.50 L681.85,398.50 L682.10,398.50 L682.35,398.50 L682.60,398.50 L682.85,398.50 L683.10,398.50 L683.35,398.50 L683.60,405.00 L683.85,405.00 L684.10,405.00 L684.35,405.00 L684.60,405.00 L684.60,452.68 L684.35,452.68 L684.10,452.76 L683.85,452.76 L683.60,452.28 L683.35,452.28 L683.10,452.14 L682.85,452.14 L682.60,452.34 L682.35,452.34 L682.10,452.28 L681.85,452.28 L681.60,452.17 L681.35,452.17 L681.10,452.66 L680.85,447.76 L680.60,447.80 L680.35,447.80 L680.10,447.53 L679.85,447.53 L679.60,447.15 L679.35,447.15 L679.10,447.64 L678.85,449.84 L678.60,449.49 L678.35,449.49 L678.10,449.97 L677.85,449.97 L677.60,449.43 L677.35,450.43 L677.10,450.73 L676.85,450.73 L676.60,450.12 L676.35,450.12 L676.10,450.12 L675.85,448.52 L675.60,449.36 L675.35,449.36 L675.10,449.28 L674.85,449.28 L674.60,449.41 L674.35,449.41 L674.10,449.07 L673.85,451.57 L673.60,451.83 L673.35,451.83 L673.10,451.74 L672.85,451.74 L672.60,451.53 L672.35,451.53 L672.10,451.71 L671.85,451.71 L671.60,451.40 L671.35,451.40 L671.10,451.64 L670.85,451.64 L670.60,451.38 L670.35,451.38 L670.10,451.40 L669.85,451.40 L669.60,447.85 L669.35,447.85 L669.10,447.48 L668.85,447.48 L668.60,447.78 L668.35,447.78 L668.10,447.61 L667.85,447.61 L667.60,447.45 L667.35,447.45 L667.10,447.75 L666.85,447.75 L666.60,451.87 L666.35,451.87 L666.10,452.26 L665.85,452.26 L665.60,452.47 L665.35,452.47 L665.10,451.95 L664.85,451.95 L664.60,452.34 L664.35,452.34 L664.10,445.17 L663.85,445.17 L663.60,445.45 L663.35,445.45 L663.10,446.03 L662.85,446.03 L662.60,445.94 L662.35,445.94 L662.10,443.59 L661.85,443.59 L661.60,443.48 L661.35,443.48 L661.10,443.80 L660.85,443.80 L660.60,443.69 L660.35,443.69 L660.10,443.45 L659.85,451.55 L659.60,451.89 L659.35,451.89 L659.10,452.33 L658.85,452.33 L658.60,452.63 L658.35,452.63 L658.10,452.18 L657.85,452.18 L657.60,452.49 L657.35,452.49 L657.10,451.90 L656.85,451.90 L656.60,451.81 L656.35,451.81 L656.10,452.09 L655.85,452.09 L655.60,452.75 L655.35,452.75 L655.10,452.20 L654.85,452.20 L654.60,452.73 L654.35,447.83 L654.10,447.52 L653.85,447.52 L653.60,447.36 L653.35,447.36 L653.10,447.83 L652.85,447.83 L652.60,447.24 L652.35,449.44 L652.10,449.41 L651.85,449.41 L651.60,449.27 L651.35,449.27 L651.10,449.81 L650.85,450.81 L650.60,450.94 L650.35,450.94 L650.10,450.33 L649.85,450.33 L649.60,450.78 L649.35,449.18 L649.10,448.91 L648.85,448.91 L648.60,449.03 L648.35,449.03 L648.10,448.79 L647.85,448.79 L647.60,449.38 L647.35,451.88 L647.10,451.86 L646.85,451.86 L646.60,451.69 L646.35,451.69 L646.10,451.31 L645.85,451.31 L645.60,451.24 L645.35,451.24 L645.10,451.88 L644.85,451.88 L644.60,451.34 L644.35,451.34 L644.10,451.74 L643.85,451.74 L643.60,451.26 L643.35,451.26 L643.10,447.06 L642.85,447.06 L642.60,447.88 L642.35,447.88 L642.10,446.98 L641.85,446.98 L641.60,447.55 L641.35,447.55 L641.10,447.45 L640.85,447.45 L640.60,446.97 L640.35,446.97 L640.10,452.04 L639.85,452.04 L639.60,451.76 L639.35,451.76 L639.10,452.42 L638.85,452.42 L638.60,451.58 L638.35,451.58 L638.10,451.85 L637.85,451.85 L637.60,445.42 L637.35,445.42 L637.10,445.24 L636.85,445.24 L636.60,445.38 L636.35,445.38 L636.10,445.53 L635.85,445.53 L635.60,443.81 L635.35,443.81 L635.10,443.99 L634.85,443.99 L634.60,443.52 L634.35,443.52 L634.10,443.73 L633.85,443.73 L633.60,443.67 L633.35,451.77 L633.10,451.83 L632.85,451.83 L632.60,452.78 L632.35,452.78 L632.10,451.84 L631.85,451.84 L631.60,452.26 L631.35,452.26 L631.10,451.87 L630.85,451.87 L630.60,451.81 L630.35,451.81 L630.10,452.01 L629.85,452.01 L629.60,452.75 L629.35,452.75 L629.10,452.05 L628.85,452.05 L628.60,452.57 L628.35,452.57 L628.10,452.13 L627.85,447.23 L627.60,447.87 L627.35,447.87 L627.10,447.75 L626.85,447.75 L626.60,446.93 L626.35,446.93 L626.10,447.47 L625.85,449.67 L625.60,449.33 L625.35,449.33 L625.10,449.17 L624.85,449.17 L624.60,449.95 L624.35,450.95 L624.10,450.55 L623.85,450.55 L623.60,450.64 L623.35,450.64 L623.10,450.29 L622.85,448.69 L622.60,449.11 L622.35,449.11 L622.10,449.11 L621.85,449.11 L621.60,448.69 L621.35,448.69 L621.10,448.79 L620.85,451.29 L620.60,451.52 L620.35,451.52 L620.10,451.07 L619.85,451.07 L619.60,451.05 L619.35,451.05 L619.10,451.95 L618.85,451.95 L618.60,451.19 L618.35,451.19 L618.10,451.05 L617.85,451.05 L617.60,451.82 L617.35,451.82 L617.10,451.45 L616.85,451.45 L616.60,447.76 L616.35,447.76 L616.10,447.19 L615.85,447.19 L615.60,447.16 L615.35,447.16 L615.10,447.08 L614.85,447.08 L614.60,447.23 L614.35,447.23 L614.10,447.21 L613.85,447.21 L613.60,451.64 L613.35,451.64 L613.10,451.78 L612.85,451.78 L612.60,451.81 L612.35,451.81 L612.10,452.46 L611.85,452.46 L611.60,452.19 L611.35,452.19 L611.10,445.98 L610.85,445.98 L610.60,445.18 L610.35,445.18 L610.10,445.50 L609.85,445.50 L609.60,445.64 L609.35,445.64 L609.10,443.48 L608.85,443.48 L608.60,443.74 L608.35,443.74 L608.10,443.32 L607.85,443.32 L607.60,443.67 L607.35,443.67 L607.10,443.68 L606.85,451.78 L606.60,452.13 L606.35,452.13 L606.10,452.12 L605.85,452.12 L605.60,452.15 L605.35,452.15 L605.10,452.73 L604.85,452.73 L604.60,452.22 L604.35,452.22 L604.10,452.00 L603.85,452.00 L603.60,452.45 L603.35,452.45 L603.10,451.89 L602.85,451.89 L602.60,452.09 L602.35,452.09 L602.10,452.11 L601.85,452.11 L601.60,452.27 L601.35,452.27 L601.10,447.46 L600.85,447.46 L600.60,447.02 L600.35,447.02 L600.10,447.85 L599.85,447.85 L599.60,447.59 L599.35,449.79 L599.10,449.37 L598.85,449.37 L598.60,449.90 L598.35,449.90 L598.10,449.99 L597.85,449.99 L597.60,450.18 L597.35,450.18 L597.10,450.75 L596.85,450.75 L596.60,450.23 L596.35,448.63 L596.10,448.53 L595.85,448.53 L595.60,448.58 L595.35,448.58 L595.10,448.53 L594.85,448.53 L594.60,448.84 L594.35,451.34 L594.10,451.24 L593.85,451.24 L593.60,451.48 L593.35,451.48 L593.10,451.05 L592.85,451.05 L592.60,451.94 L592.35,451.94 L592.10,451.93 L591.85,451.93 L591.60,451.27 L591.35,451.27 L591.10,451.41 L590.85,451.41 L590.60,451.45 L590.35,451.45 L590.10,447.08 L589.85,447.08 L589.60,447.15 L589.35,447.15 L589.10,447.45 L588.85,447.45 L588.60,447.25 L588.35,447.25 L588.10,446.96 L587.85,446.96 L587.60,447.03 L587.35,447.03 L587.10,452.10 L586.85,452.10 L586.60,452.03 L586.35,452.03 L586.10,452.06 L585.85,452.06 L585.60,452.18 L585.35,452.18 L585.10,452.10 L584.85,452.10 L584.60,445.13 L584.35,445.13 L584.10,445.12 L583.85,445.12 L583.60,445.87 L583.35,445.87 L583.10,445.39 L582.85,445.39 L582.60,443.91 L582.35,443.91 L582.10,443.15 L581.85,443.15 L581.60,443.48 L581.35,443.48 L581.10,444.07 L580.85,444.07 L580.60,443.87 L580.35,451.97 L580.10,451.99 L579.85,451.99 L579.60,451.99 L579.35,451.99 L579.10,451.85 L578.85,451.85 L578.60,452.58 L578.35,452.58 L578.10,451.92 L577.85,451.92 L577.60,452.06 L577.35,452.06 L577.10,451.92 L576.85,451.92 L576.60,452.08 L576.35,452.08 L576.10,452.09 L575.85,452.09 L575.60,452.65 L575.35,452.65 L575.10,452.62 L574.85,452.62 L574.60,447.72 L574.35,447.72 L574.10,447.55 L573.85,447.55 L573.60,447.22 L573.35,447.22 L573.10,447.56 L572.85,449.76 L572.60,449.25 L572.35,449.25 L572.10,449.99 L571.85,449.99 L571.60,449.45 L571.35,449.45 L571.10,450.53 L570.85,450.53 L570.60,450.18 L570.35,450.18 L570.10,450.93 L569.85,449.33 L569.60,448.91 L569.35,448.91 L569.10,448.64 L568.85,448.64 L568.60,448.63 L568.35,448.63 L568.10,448.82 L567.85,451.32 L567.60,451.82 L567.35,451.82 L567.10,451.85 L566.85,451.85 L566.60,451.25 L566.35,451.25 L566.10,451.77 L565.85,451.77 L565.60,451.91 L565.35,451.91 L565.10,451.92 L564.85,451.92 L564.60,451.06 L564.35,451.06 L564.10,451.18 L563.85,451.18 L563.60,447.22 L563.35,447.22 L563.10,447.02 L562.85,447.02 L562.60,446.90 L562.35,446.90 L562.10,447.69 L561.85,447.69 L561.60,447.89 L561.35,447.89 L561.10,447.80 L560.85,447.80 L560.60,452.49 L560.35,452.49 L560.10,451.50 L559.85,451.50 L559.60,452.28 L559.35,452.28 L559.10,451.57 L558.85,451.57 L558.60,451.58 L558.35,451.58 L558.10,445.47 L557.85,445.47 L557.60,445.52 L557.35,445.52 L557.10,445.36 L556.85,445.36 L556.60,445.68 L556.35,445.68 L556.10,443.53 L555.85,443.53 L555.60,443.19 L555.35,443.19 L555.10,443.66 L554.85,443.66 L554.60,443.33 L554.35,443.33 L554.10,443.97 L553.85,452.07 L553.60,452.05 L553.35,452.05 L553.10,452.67 L552.85,452.67 L552.60,452.12 L552.35,452.12 L552.10,451.88 L551.85,451.88 L551.60,452.79 L551.35,452.79 L551.10,452.53 L550.85,452.53 L550.60,452.04 L550.35,452.04 L550.10,452.46 L549.85,452.46 L549.60,452.27 L549.35,452.27 L549.10,452.54 L548.85,452.54 L548.60,451.92 L548.35,451.92 L548.10,447.18 L547.85,447.18 L547.60,447.01 L547.35,447.01 L547.10,447.72 L546.85,447.72 L546.60,447.30 L546.35,449.50 L546.10,449.94 L545.85,449.94 L545.60,449.50 L545.35,449.50 L545.10,449.90 L544.85,449.90 L544.60,450.61 L544.35,450.61 L544.10,450.19 L543.85,450.19 L543.60,450.33 L543.35,448.73 L543.10,449.41 L542.85,449.41 L542.60,448.71 L542.35,448.71 L542.10,449.38 L541.85,449.38 L541.60,448.91 L541.35,451.41 L541.10,451.28 L540.85,451.28 L540.60,451.87 L540.35,451.87 L540.10,451.13 L539.85,451.13 L539.60,451.50 L539.35,451.50 L539.10,451.68 L538.85,451.68 L538.60,451.84 L538.35,451.84 L538.10,451.67 L537.85,451.67 L537.60,451.49 L537.35,451.49 L537.10,447.24 L536.85,447.24 L536.60,447.61 L536.35,447.61 L536.10,447.76 L535.85,447.76 L535.60,447.54 L535.35,447.54 L535.10,447.36 L534.85,447.36 L534.60,447.39 L534.35,447.39 L534.10,451.64 L533.85,451.64 L533.60,451.68 L533.35,451.68 L533.10,451.97 L532.85,451.97 L532.60,451.66 L532.35,451.66 L532.10,452.34 L531.85,452.34 L531.60,445.63 L531.35,445.63 L531.10,445.27 L530.85,445.27 L530.60,445.77 L530.35,445.77 L530.10,445.55 L529.85,445.55 L529.60,443.33 L529.35,443.33 L529.10,443.80 L528.85,443.80 L528.60,443.13 L528.35,443.13 L528.10,443.80 L527.85,443.80 L527.60,443.47 L527.35,451.57 L527.10,452.09 L526.85,452.09 L526.60,451.93 L526.35,451.93 L526.10,452.21 L525.85,452.21 L525.60,452.11 L525.35,452.11 L525.10,452.61 L524.85,452.61 L524.60,452.05 L524.35,452.05 L524.10,452.70 L523.85,452.70 L523.60,452.48 L523.35,452.48 L523.10,452.17 L522.85,452.17 L522.60,452.19 L522.35,452.19 L522.10,451.92 L521.85,451.92 L521.60,447.17 L521.35,447.17 L521.10,447.14 L520.85,447.14 L520.60,447.90 L520.35,447.90 L520.10,447.07 L519.85,449.27 L519.60,449.84 L519.35,449.84 L519.10,449.46 L518.85,449.46 L518.60,449.33 L518.35,449.33 L518.10,450.40 L517.85,450.40 L517.60,450.60 L517.35,450.60 L517.10,450.63 L516.85,449.03 L516.60,448.78 L516.35,448.78 L516.10,448.99 L515.85,448.99 L515.60,449.39 L515.35,449.39 L515.10,449.10 L514.85,451.60 L514.60,451.49 L514.35,451.49 L514.10,451.84 L513.85,451.84 L513.60,451.06 L513.35,451.06 L513.10,451.28 L512.85,451.28 L512.60,451.21 L512.35,451.21 L512.10,451.13 L511.85,451.13 L511.60,451.88 L511.35,451.88 L511.10,451.38 L510.85,451.38 L510.60,451.44 L510.35,447.34 L510.10,447.37 L509.85,447.37 L509.60,447.87 L509.35,447.87 L509.10,447.11 L508.85,447.11 L508.60,447.39 L508.35,447.39 L508.10,447.84 L507.85,447.84 L507.60,446.96 L507.35,451.56 L507.10,452.39 L506.85,452.39 L506.60,451.97 L506.35,451.97 L506.10,451.50 L505.85,451.50 L505.60,451.91 L505.35,451.91 L505.10,445.46 L504.85,445.46 L504.60,445.17 L504.35,445.17 L504.10,445.54 L503.85,445.54 L503.60,445.34 L503.35,445.34 L503.10,445.60 L502.85,443.60 L502.60,443.15 L502.35,443.15 L502.10,443.97 L501.85,443.97 L501.60,444.01 L501.35,444.01 L501.10,443.59 L500.85,451.69 L500.60,451.93 L500.35,451.93 L500.10,451.20 L499.85,451.80 L499.60,452.63 L499.35,452.63 L499.10,451.91 L498.85,451.91 L498.60,452.70 L498.35,452.70 L498.10,452.43 L497.85,452.43 L497.60,451.82 L497.35,451.82 L497.10,452.19 L496.85,452.19 L496.60,452.73 L496.35,452.73 L496.10,452.64 L495.85,452.64 L495.60,452.66 L495.35,452.66 L495.10,447.19 L494.85,447.19 L494.60,447.11 L494.35,447.11 L494.10,446.98 L493.85,446.98 L493.60,446.93 L493.35,449.13 L493.10,450.05 L492.85,450.05 L492.60,449.11 L492.35,449.11 L492.10,450.05 L491.85,450.05 L491.60,450.46 L491.35,450.46 L491.10,450.49 L490.85,450.49 L490.60,450.40 L490.35,448.80 L490.10,448.94 L489.85,448.94 L489.60,448.72 L489.35,448.72 L489.10,449.23 L488.85,449.23 L488.60,449.19 L488.35,451.69 L488.10,451.54 L487.85,451.54 L487.60,451.14 L487.35,451.14 L487.10,451.59 L486.85,451.59 L486.60,451.48 L486.35,451.48 L486.10,451.36 L485.85,451.36 L485.60,451.03 L485.35,451.03 L485.10,451.79 L484.85,451.79 L484.60,451.55 L484.35,451.55 L484.10,451.48 L483.85,447.38 L483.60,447.10 L483.35,447.10 L483.10,447.74 L482.85,447.74 L482.60,447.31 L482.35,447.31 L482.10,447.59 L481.85,447.59 L481.60,447.24 L481.35,447.24 L481.10,447.74 L480.85,452.34 L480.60,451.52 L480.35,451.52 L480.10,451.57 L479.85,451.57 L479.60,451.94 L479.35,451.94 L479.10,452.03 L478.85,452.03 L478.60,445.40 L478.35,445.40 L478.10,445.97 L477.85,445.97 L477.60,445.58 L477.35,445.58 L477.10,445.28 L476.85,445.28 L476.60,445.66 L476.35,443.66 L476.10,443.32 L475.85,443.32 L475.60,443.79 L475.35,443.79 L475.10,443.30 L474.85,443.30 L474.60,443.52 L474.35,451.62 L474.10,451.25 L473.85,451.25 L473.60,451.45 L473.35,452.05 L473.10,452.47 L472.85,452.47 L472.60,452.02 L472.35,452.02 L472.10,452.04 L471.85,452.04 L471.60,451.91 L471.35,451.91 L471.10,452.01 L470.85,452.01 L470.60,452.00 L470.35,452.00 L470.10,452.06 L469.85,452.06 L469.60,452.37 L469.35,452.37 L469.10,452.13 L468.85,452.13 L468.60,447.71 L468.35,447.71 L468.10,447.79 L467.85,447.79 L467.60,447.62 L467.35,447.62 L467.10,447.59 L466.85,447.59 L466.60,449.95 L466.35,449.95 L466.10,449.40 L465.85,449.40 L465.60,449.68 L465.35,449.68 L465.10,450.15 L464.85,450.15 L464.60,450.38 L464.35,450.38 L464.10,450.69 L463.85,450.69 L463.60,448.78 L463.35,448.78 L463.10,448.56 L462.85,448.56 L462.60,448.87 L462.35,448.87 L462.10,448.98 L461.85,448.98 L461.60,451.85 L461.35,451.85 L461.10,451.18 L460.85,451.18 L460.60,451.57 L460.35,451.57 L460.10,451.32 L459.85,451.32 L459.60,451.02 L459.35,451.02 L459.10,451.92 L458.85,451.92 L458.60,451.26 L458.35,451.26 L458.10,451.46 L457.85,451.46 L457.60,451.38 L457.35,447.28 L457.10,447.51 L456.85,447.51 L456.60,447.59 L456.35,447.59 L456.10,447.58 L455.85,447.58 L455.60,447.02 L455.35,447.02 L455.10,447.17 L454.85,447.17 L454.60,446.97 L454.35,451.57 L454.10,451.65 L453.85,451.65 L453.60,451.77 L453.35,451.77 L453.10,452.16 L452.85,452.16 L452.60,452.50 L452.35,452.50 L452.10,445.76 L451.85,445.76 L451.60,446.00 L451.35,446.00 L451.10,445.80 L450.85,445.80 L450.60,445.72 L450.35,445.72 L450.10,445.64 L449.85,443.64 L449.60,443.50 L449.35,443.50 L449.10,443.54 L448.85,443.54 L448.60,443.65 L448.35,443.65 L448.10,443.15 L447.85,443.15 L447.60,451.99 L447.35,451.99 L447.10,451.75 L446.85,452.35 L446.60,451.85 L446.35,451.85 L446.10,452.57 L445.85,452.57 L445.60,452.30 L445.35,452.30 L445.10,452.34 L444.85,452.34 L444.60,452.33 L444.35,452.33 L444.10,451.98 L443.85,451.98 L443.60,452.75 L443.35,452.75 L443.10,452.10 L442.85,452.10 L442.60,452.55 L442.35,452.55 L442.10,447.20 L441.85,447.20 L441.60,447.02 L441.35,447.02 L441.10,447.70 L440.85,447.70 L440.60,447.06 L440.35,447.06 L440.10,449.39 L439.85,449.39 L439.60,449.61 L439.35,449.61 L439.10,449.56 L438.85,449.56 L438.60,450.82 L438.35,450.82 L438.10,450.24 L437.85,450.24 L437.60,450.13 L437.35,450.13 L437.10,449.41 L436.85,449.41 L436.60,448.55 L436.35,448.55 L436.10,448.75 L435.85,448.75 L435.60,448.75 L435.35,448.75 L435.10,451.50 L434.85,451.50 L434.60,451.42 L434.35,451.42 L434.10,451.73 L433.85,451.73 L433.60,451.65 L433.35,451.65 L433.10,451.01 L432.85,451.01 L432.60,451.88 L432.35,451.88 L432.10,451.29 L431.85,451.29 L431.60,451.37 L431.35,451.37 L431.10,451.02 L430.85,446.92 L430.60,446.97 L430.35,446.97 L430.10,447.32 L429.85,447.32 L429.60,447.01 L429.35,447.01 L429.10,447.63 L428.85,447.63 L428.60,447.49 L428.35,447.49 L428.10,446.95 L427.85,451.55 L427.60,451.77 L427.35,451.77 L427.10,452.10 L426.85,452.10 L426.60,451.80 L426.35,451.80 L426.10,451.64 L425.85,451.64 L425.60,445.40 L425.35,445.40 L425.10,445.31 L424.85,445.31 L424.60,445.98 L424.35,445.98 L424.10,445.32 L423.85,445.32 L423.60,445.80 L423.35,443.80 L423.10,443.15 L422.85,443.15 L422.60,443.55 L422.35,443.55 L422.10,443.92 L421.85,443.92 L421.60,443.61 L421.35,443.61 L421.10,451.65 L420.85,451.65 L420.60,451.50 L420.35,452.10 L420.10,452.04 L419.85,452.04 L419.60,452.78 L419.35,452.78 L419.10,452.37 L418.85,452.37 L418.60,452.73 L418.35,452.73 L418.10,452.71 L417.85,452.71 L417.60,452.35 L417.35,452.35 L417.10,451.82 L416.85,451.82 L416.60,452.47 L416.35,452.47 L416.10,452.12 L415.85,452.12 L415.60,447.59 L415.35,447.59 L415.10,447.36 L414.85,447.36 L414.60,447.19 L414.35,447.19 L414.10,447.40 L413.85,447.40 L413.60,449.26 L413.35,449.26 L413.10,449.21 L412.85,449.21 L412.60,449.31 L412.35,449.31 L412.10,451.00 L411.85,451.00 L411.60,450.60 L411.35,450.60 L411.10,450.69 L410.85,450.69 L410.60,448.76 L410.35,448.76 L410.10,448.50 L409.85,448.50 L409.60,449.33 L409.35,449.33 L409.10,448.51 L408.85,448.51 L408.60,451.15 L408.35,451.15 L408.10,451.20 L407.85,451.20 L407.60,451.62 L407.35,451.62 L407.10,451.55 L406.85,451.55 L406.60,451.61 L406.35,451.61 L406.10,451.46 L405.85,451.46 L405.60,451.58 L405.35,451.58 L405.10,451.92 L404.85,451.92 L404.60,451.47 L404.35,447.37 L404.10,447.04 L403.85,447.04 L403.60,447.34 L403.35,447.34 L403.10,447.50 L402.85,447.50 L402.60,447.78 L402.35,447.78 L402.10,446.94 L401.85,446.94 L401.60,447.46 L401.35,452.06 L401.10,452.27 L400.85,452.27 L400.60,451.64 L400.35,451.64 L400.10,451.83 L399.85,451.83 L399.60,451.63 L399.35,451.63 L399.10,445.30 L398.85,445.30 L398.60,445.65 L398.35,445.65 L398.10,445.98 L397.85,445.98 L397.60,445.40 L397.35,445.40 L397.10,446.08 L396.85,444.08 L396.60,443.85 L396.35,443.85 L396.10,443.71 L395.85,443.71 L395.60,443.93 L395.35,443.93 L395.10,443.66 L394.85,443.66 L394.60,451.47 L394.35,451.47 L394.10,451.97 L393.85,452.57 L393.60,452.02 L393.35,452.02 L393.10,451.91 L392.85,451.91 L392.60,452.16 L392.35,452.16 L392.10,452.66 L391.85,452.66 L391.60,452.04 L391.35,452.04 L391.10,452.03 L390.85,452.03 L390.60,452.66 L390.35,452.66 L390.10,452.19 L389.85,452.19 L389.60,452.54 L389.35,452.54 L389.10,447.05 L388.85,447.05 L388.60,447.05 L388.35,447.05 L388.10,447.62 L387.85,447.62 L387.60,447.39 L387.35,447.39 L387.10,449.79 L386.85,449.79 L386.60,449.43 L386.35,449.43 L386.10,449.43 L385.85,449.43 L385.60,451.03 L385.35,451.03 L385.10,450.43 L384.85,450.43 L384.60,450.69 L384.35,450.69 L384.10,449.04 L383.85,449.04 L383.60,448.73 L383.35,448.73 L383.10,449.31 L382.85,449.31 L382.60,448.82 L382.35,448.82 L382.10,451.36 L381.85,451.36 L381.60,451.20 L381.35,451.20 L381.10,451.53 L380.85,451.53 L380.60,451.15 L380.35,451.15 L380.10,451.67 L379.85,451.67 L379.60,451.57 L379.35,451.57 L379.10,451.16 L378.85,451.16 L378.60,451.95 L378.35,451.95 L378.10,451.89 L377.85,447.79 L377.60,447.41 L377.35,447.41 L377.10,447.15 L376.85,447.15 L376.60,447.24 L376.35,447.24 L376.10,447.05 L375.85,447.05 L375.60,447.15 L375.35,447.15 L375.10,447.18 L374.85,451.78 L374.60,451.69 L374.35,451.69 L374.10,451.87 L373.85,451.87 L373.60,452.41 L373.35,452.41 L373.10,452.08 L372.85,452.08 L372.60,451.87 L372.35,445.47 L372.10,445.20 L371.85,445.20 L371.60,445.83 L371.35,445.83 L371.10,446.05 L370.85,446.05 L370.60,445.67 L370.35,443.67 L370.10,443.87 L369.85,443.87 L369.60,443.31 L369.35,443.31 L369.10,443.63 L368.85,443.63 L368.60,443.19 L368.35,443.19 L368.10,452.01 L367.85,452.01 L367.60,452.10 L367.35,452.70 L367.10,451.90 L366.85,451.90 L366.60,452.08 L366.35,452.08 L366.10,451.99 L365.85,451.99 L365.60,452.45 L365.35,452.45 L365.10,452.55 L364.85,452.55 L364.60,452.72 L364.35,452.72 L364.10,452.07 L363.85,452.07 L363.60,452.70 L363.35,452.70 L363.10,452.53 L362.85,452.53 L362.60,447.18 L362.35,447.18 L362.10,447.88 L361.85,447.88 L361.60,447.49 L361.35,447.49 L361.10,446.98 L360.85,446.98 L360.60,449.45 L360.35,449.45 L360.10,449.49 L359.85,449.49 L359.60,449.18 L359.35,449.18 L359.10,451.04 L358.85,451.04 L358.60,450.74 L358.35,450.74 L358.10,450.30 L357.85,450.30 L357.60,448.82 L357.35,448.82 L357.10,448.81 L356.85,448.81 L356.60,449.00 L356.35,449.00 L356.10,449.40 L355.85,449.40 L355.60,451.71 L355.35,451.71 L355.10,451.66 L354.85,451.66 L354.60,451.11 L354.35,451.11 L354.10,451.23 L353.85,451.23 L353.60,451.88 L353.35,451.88 L353.10,451.01 L352.85,451.01 L352.60,451.10 L352.35,451.10 L352.10,451.61 L351.85,451.61 L351.60,451.87 L351.35,447.77 L351.10,447.10 L350.85,447.10 L350.60,447.88 L350.35,447.88 L350.10,447.60 L349.85,447.60 L349.60,447.23 L349.35,447.23 L349.10,447.06 L348.85,447.06 L348.60,447.26 L348.35,451.86 L348.10,451.77 L347.85,451.77 L347.60,451.93 L347.35,451.93 L347.10,451.50 L346.85,451.50 L346.60,451.90 L346.35,451.90 L346.10,451.84 L345.85,445.44 L345.60,445.45 L345.35,445.45 L345.10,445.65 L344.85,445.65 L344.60,445.35 L344.35,445.35 L344.10,445.97 L343.85,443.97 L343.60,443.12 L343.35,443.12 L343.10,443.76 L342.85,443.76 L342.60,443.66 L342.35,443.66 L342.10,443.24 L341.85,443.24 L341.60,451.78 L341.35,451.78 L341.10,451.21 L340.85,451.81 L340.60,451.82 L340.35,451.82 L340.10,451.85 L339.85,451.85 L339.60,452.74 L339.35,452.74 L339.10,452.59 L338.85,452.59 L338.60,451.86 L338.35,451.86 L338.10,451.85 L337.85,451.85 L337.60,452.69 L337.35,452.69 L337.10,452.28 L336.85,452.28 L336.60,452.37 L336.35,452.37 L336.10,447.89 L335.85,447.89 L335.60,447.42 L335.35,447.42 L335.10,447.21 L334.85,447.21 L334.60,447.41 L334.35,447.41 L334.10,449.72 L333.85,449.72 L333.60,449.91 L333.35,449.91 L333.10,449.68 L332.85,449.68 L332.60,450.57 L332.35,450.57 L332.10,450.63 L331.85,450.63 L331.60,450.90 L331.35,450.90 L331.10,448.59 L330.85,448.59 L330.60,448.70 L330.35,448.70 L330.10,448.57 L329.85,448.57 L329.60,449.17 L329.35,449.17 L329.10,451.02 L328.85,451.02 L328.60,451.26 L328.35,451.26 L328.10,451.26 L327.85,451.26 L327.60,451.33 L327.35,451.33 L327.10,451.59 L326.85,451.59 L326.60,451.28 L326.35,451.28 L326.10,451.70 L325.85,451.70 L325.60,451.66 L325.35,451.66 L325.10,451.09 L324.85,446.99 L324.60,447.76 L324.35,447.76 L324.10,447.05 L323.85,447.05 L323.60,447.44 L323.35,447.44 L323.10,446.97 L322.85,446.97 L322.60,447.50 L322.35,447.50 L322.10,446.93 L321.85,451.53 L321.60,451.96 L321.35,451.96 L321.10,451.54 L320.85,451.54 L320.60,452.08 L320.35,452.08 L320.10,452.35 L319.85,452.35 L319.60,452.21 L319.35,445.81 L319.10,445.64 L318.85,445.64 L318.60,445.60 L318.35,445.60 L318.10,445.93 L317.85,445.93 L317.60,445.54 L317.35,443.54 L317.10,443.64 L316.85,443.64 L316.60,443.30 L316.35,443.30 L316.10,443.26 L315.85,443.26 L315.60,443.37 L315.35,443.37 L315.10,451.38 L314.85,451.38 L314.60,451.27 L314.35,451.87 L314.10,452.06 L313.85,452.06 L313.60,452.45 L313.35,452.45 L313.10,452.16 L312.85,452.16 L312.60,452.46 L312.35,452.46 L312.10,451.92 L311.85,451.92 L311.60,452.35 L311.35,452.35 L311.10,451.83 L310.85,451.83 L310.60,452.44 L310.35,452.44 L310.10,451.85 L309.85,451.85 L309.60,447.84 L309.35,447.84 L309.10,447.44 L308.85,447.44 L308.60,446.97 L308.35,446.97 L308.10,447.05 L307.85,447.05 L307.60,450.06 L307.35,450.06 L307.10,449.64 L306.85,449.64 L306.60,449.47 L306.35,449.47 L306.10,450.31 L305.85,450.31 L305.60,450.71 L305.35,450.71 L305.10,450.24 L304.85,450.24 L304.60,448.89 L304.35,448.89 L304.10,449.21 L303.85,449.21 L303.60,449.17 L303.35,449.17 L303.10,448.74 L302.85,448.74 L302.60,451.83 L302.35,451.83 L302.10,451.65 L301.85,451.65 L301.60,451.36 L301.35,451.36 L301.10,451.57 L300.85,451.57 L300.60,451.85 L300.35,451.85 L300.10,451.79 L299.85,451.79 L299.60,451.34 L299.35,451.34 L299.10,451.22 L298.85,451.22 L298.60,451.25 L298.35,447.15 L298.10,447.73 L297.85,447.73 L297.60,447.24 L297.35,447.24 L297.10,447.38 L296.85,447.38 L296.60,447.33 L296.35,447.33 L296.10,447.21 L295.85,447.21 L295.60,447.40 L295.35,452.00 L295.10,451.97 L294.85,451.97 L294.60,452.17 L294.35,452.17 L294.10,451.93 L293.85,451.93 L293.60,452.20 L293.35,452.20 L293.10,451.65 L292.85,445.25 L292.60,445.28 L292.35,445.28 L292.10,445.58 L291.85,445.58 L291.60,445.26 L291.35,445.26 L291.10,445.36 L290.85,443.36 L290.60,443.43 L290.35,443.43 L290.10,443.20 L289.85,443.20 L289.60,443.65 L289.35,443.65 L289.10,443.97 L288.85,443.97 L288.60,451.31 L288.35,451.31 L288.10,451.67 L287.85,452.27 L287.60,451.98 L287.35,451.98 L287.10,452.16 L286.85,452.16 L286.60,452.16 L286.35,452.16 L286.10,452.09 L285.85,452.09 L285.60,452.01 L285.35,452.01 L285.10,452.16 L284.85,452.16 L284.60,452.29 L284.35,452.29 L284.10,452.56 L283.85,452.56 L283.60,452.68 L283.35,452.68 L283.10,447.37 L282.85,447.37 L282.60,447.66 L282.35,447.66 L282.10,447.30 L281.85,447.30 L281.60,447.48 L281.35,447.48 L281.10,449.30 L280.85,449.30 L280.60,449.18 L280.35,449.18 L280.10,449.52 L279.85,449.52 L279.60,450.68 L279.35,450.68 L279.10,450.30 L278.85,450.30 L278.60,450.14 L278.35,450.14 L278.10,448.56 L277.85,448.56 L277.60,449.48 L277.35,449.48 L277.10,449.17 L276.85,449.17 L276.60,449.41 L276.35,449.41 L276.10,451.69 L275.85,451.69 L275.60,451.68 L275.35,451.68 L275.10,451.25 L274.85,451.25 L274.60,451.95 L274.35,451.95 L274.10,451.17 L273.85,451.17 L273.60,451.71 L273.35,451.71 L273.10,451.88 L272.85,451.88 L272.60,451.35 L272.35,451.35 L272.10,451.82 L271.85,447.72 L271.60,447.84 L271.35,447.84 L271.10,447.81 L270.85,447.81 L270.60,447.60 L270.35,447.60 L270.10,447.40 L269.85,447.40 L269.60,447.22 L269.35,447.22 L269.10,447.31 L268.85,451.91 L268.60,452.11 L268.35,452.11 L268.10,451.74 L267.85,451.74 L267.60,451.67 L267.35,451.67 L267.10,452.45 L266.85,452.45 L266.60,452.21 L266.35,445.81 L266.10,445.54 L265.85,445.54 L265.60,445.70 L265.35,445.70 L265.10,445.59 L264.85,445.59 L264.60,445.35 L264.35,443.35 L264.10,443.36 L263.85,443.36 L263.60,443.71 L263.35,443.71 L263.10,443.11 L262.85,443.11 L262.60,444.10 L262.35,444.10 L262.10,451.36 L261.85,451.36 L261.60,452.11 L261.35,452.71 L261.10,452.57 L260.85,452.57 L260.60,452.22 L260.35,452.22 L260.10,452.38 L259.85,452.38 L259.60,452.66 L259.35,452.66 L259.10,452.00 L258.85,452.00 L258.60,451.99 L258.35,451.99 L258.10,452.28 L257.85,452.28 L257.60,452.22 L257.35,452.22 L257.10,452.51 L256.85,452.51 L256.60,452.08 L256.35,447.18 L256.10,447.60 L255.85,447.60 L255.60,447.27 L255.35,447.27 L255.10,447.38 L254.85,447.38 L254.60,450.03 L254.35,450.03 L254.10,449.18 L253.85,449.18 L253.60,449.85 L253.35,449.85 L253.10,449.55 L252.85,450.55 L252.60,450.43 L252.35,450.43 L252.10,450.46 L251.85,450.46 L251.60,448.59 L251.35,448.59 L251.10,449.19 L250.85,449.19 L250.60,449.35 L250.35,449.35 L250.10,448.91 L249.85,448.91 L249.60,451.91 L249.35,451.91 L249.10,451.10 L248.85,451.10 L248.60,451.06 L248.35,451.06 L248.10,451.01 L247.85,451.01 L247.60,451.92 L247.35,451.92 L247.10,451.43 L246.85,451.43 L246.60,452.00 L246.35,452.00 L246.10,451.04 L245.85,451.04 L245.60,451.68 L245.35,447.58 L245.10,447.39 L244.85,447.39 L244.60,447.24 L244.35,447.24 L244.10,447.21 L243.85,447.21 L243.60,447.36 L243.35,447.36 L243.10,447.21 L242.85,447.21 L242.60,447.10 L242.35,451.70 L242.10,451.80 L241.85,451.80 L241.60,451.63 L241.35,451.63 L241.10,451.94 L240.85,451.94 L240.60,451.57 L240.35,451.57 L240.10,451.59 L239.85,445.19 L239.60,445.76 L239.35,445.76 L239.10,445.74 L238.85,445.74 L238.60,445.44 L238.35,445.44 L238.10,446.05 L237.85,444.05 L237.60,443.45 L237.35,443.45 L237.10,444.05 L236.85,444.05 L236.60,443.16 L236.35,443.16 L236.10,443.21 L235.85,443.21 L235.60,451.79 L235.35,451.79 L235.10,451.72 L234.85,452.32 L234.60,452.63 L234.35,452.63 L234.10,452.23 L233.85,452.23 L233.60,452.09 L233.35,452.09 L233.10,452.14 L232.85,452.14 L232.60,452.09 L232.35,452.09 L232.10,451.92 L231.85,451.92 L231.60,452.04 L231.35,452.04 L231.10,452.79 L230.85,452.79 L230.60,452.34 L230.35,452.34 L230.10,451.88 L229.85,446.98 L229.60,447.67 L229.35,447.67 L229.10,447.40 L228.85,447.40 L228.60,447.02 L228.35,447.02 L228.10,449.98 L227.85,449.98 L227.60,450.07 L227.35,450.07 L227.10,449.76 L226.85,449.76 L226.60,449.94 L226.35,450.94 L226.10,450.50 L225.85,450.50 L225.60,450.52 L225.35,450.52 L225.10,449.31 L224.85,449.31 L224.60,448.60 L224.35,448.60 L224.10,449.44 L223.85,449.44 L223.60,448.84 L223.35,448.84 L223.10,451.65 L222.85,451.65 L222.60,451.81 L222.35,451.81 L222.10,451.71 L221.85,451.71 L221.60,451.41 L221.35,451.41 L221.10,451.51 L220.85,451.51 L220.60,451.60 L220.35,451.60 L220.10,451.29 L219.85,451.29 L219.60,451.38 L219.35,451.38 L219.10,451.41 L218.85,447.31 L218.60,447.18 L218.35,447.18 L218.10,447.36 L217.85,447.36 L217.60,447.53 L217.35,447.53 L217.10,447.34 L216.85,447.34 L216.60,447.24 L216.35,447.24 L216.10,447.52 L215.85,452.12 L215.60,452.03 L215.35,452.03 L215.10,451.85 L214.85,451.85 L214.60,451.70 L214.35,451.70 L214.10,452.46 L213.85,452.46 L213.60,451.53 L213.35,445.13 L213.10,445.68 L212.85,445.68 L212.60,446.00 L212.35,446.00 L212.10,445.77 L211.85,445.77 L211.60,445.40 L211.35,443.40 L211.10,443.68 L210.85,443.68 L210.60,443.36 L210.35,443.36 L210.10,443.23 L209.85,443.23 L209.60,443.43 L209.35,443.43 L209.10,451.33 L208.85,451.33 L208.60,451.62 L208.35,452.22 L208.10,452.10 L207.85,452.10 L207.60,452.58 L207.35,452.58 L207.10,451.88 L206.85,451.88 L206.60,452.16 L206.35,452.16 L206.10,452.80 L205.85,452.80 L205.60,452.07 L205.35,452.07 L205.10,452.41 L204.85,452.41 L204.60,451.88 L204.35,451.88 L204.10,452.63 L203.85,452.63 L203.60,452.44 L203.35,447.54 L203.10,447.01 L202.85,447.01 L202.60,447.05 L202.35,447.05 L202.10,447.86 L201.85,447.86 L201.60,449.93 L201.35,449.93 L201.10,449.80 L200.85,449.80 L200.60,449.28 L200.35,449.28 L200.10,449.59 L199.85,450.59 L199.60,450.86 L199.35,450.86 L199.10,450.98 L198.85,450.98 L198.60,449.29 L198.35,449.29 L198.10,449.08 L197.85,449.08 L197.60,449.48 L197.35,449.48 L197.10,449.16 L196.85,449.16 L196.60,451.38 L196.35,451.38 L196.10,451.57 L195.85,451.57 L195.60,451.85 L195.35,451.85 L195.10,451.80 L194.85,451.80 L194.60,451.14 L194.35,451.14 L194.10,451.28 L193.85,451.28 L193.60,451.55 L193.35,451.55 L193.10,451.98 L192.85,451.98 L192.60,451.27 L192.35,451.27 L192.10,447.29 L191.85,447.29 L191.60,447.71 L191.35,447.71 L191.10,447.71 L190.85,447.71 L190.60,447.57 L190.35,447.57 L190.10,447.46 L189.85,447.46 L189.60,447.08 L189.35,447.08 L189.10,452.49 L188.85,452.49 L188.60,451.83 L188.35,451.83 L188.10,452.12 L187.85,452.12 L187.60,452.12 L187.35,452.12 L187.10,452.47 L186.85,446.07 L186.60,445.56 L186.35,445.56 L186.10,445.30 L185.85,445.30 L185.60,445.27 L185.35,445.27 L185.10,445.98 L184.85,445.98 L184.60,443.94 L184.35,443.94 L184.10,443.87 L183.85,443.87 L183.60,443.40 L183.35,443.40 L183.10,443.49 L182.85,443.49 L182.60,452.07 L182.35,452.07 L182.10,451.61 L181.85,451.61 L181.60,452.40 L181.35,452.40 L181.10,452.34 L180.85,452.34 L180.60,452.10 L180.35,452.10 L180.10,452.11 L179.85,452.11 L179.60,451.86 L179.35,451.86 L179.10,452.59 L178.85,452.59 L178.60,452.45 L178.35,452.45 L178.10,451.89 L177.85,451.89 L177.60,452.00 L177.35,452.00 L177.10,452.19 L176.85,447.29 L176.60,447.35 L176.35,447.35 L176.10,447.02 L175.85,447.02 L175.60,447.06 L175.35,447.06 L175.10,449.71 L174.85,449.71 L174.60,450.09 L174.35,450.09 L174.10,450.03 L173.85,450.03 L173.60,449.17 L173.35,450.17 L173.10,450.35 L172.85,450.35 L172.60,450.23 L172.35,450.23 L172.10,449.20 L171.85,449.20 L171.60,449.20 L171.35,449.20 L171.10,449.19 L170.85,449.19 L170.60,449.46 L170.35,449.46 L170.10,451.66 L169.85,451.66 L169.60,451.98 L169.35,451.98 L169.10,451.44 L168.85,451.44 L168.60,451.59 L168.35,451.59 L168.10,451.88 L167.85,451.88 L167.60,451.94 L167.35,451.94 L167.10,451.61 L166.85,451.61 L166.60,451.08 L166.35,451.08 L166.10,451.23 L165.85,451.23 L165.60,447.21 L165.35,447.21 L165.10,447.69 L164.85,447.69 L164.60,447.07 L164.35,447.07 L164.10,447.17 L163.85,447.17 L163.60,447.85 L163.35,447.85 L163.10,447.73 L162.85,447.73 L162.60,451.72 L162.35,451.72 L162.10,452.33 L161.85,452.33 L161.60,451.97 L161.35,451.97 L161.10,451.92 L160.85,451.92 L160.60,451.85 L160.35,445.45 L160.10,445.94 L159.85,445.94 L159.60,445.36 L159.35,445.36 L159.10,445.52 L158.85,445.52 L158.60,445.42 L158.35,445.42 L158.10,443.18 L157.85,443.18 L157.60,443.83 L157.35,443.83 L157.10,443.37 L156.85,443.37 L156.60,443.59 L156.35,443.59 L156.10,451.53 L155.85,451.53 L155.60,451.48 L155.35,451.48 L155.10,452.59 L154.85,452.59 L154.60,452.05 L154.35,452.05 L154.10,452.12 L153.85,452.12 L153.60,452.33 L153.35,452.33 L153.10,452.20 L152.85,452.20 L152.60,452.18 L152.35,452.18 L152.10,451.83 L151.85,451.83 L151.60,452.13 L151.35,452.13 L151.10,451.92 L150.85,451.92 L150.60,452.74 L150.35,447.84 L150.10,446.91 L149.85,446.91 L149.60,447.17 L149.35,447.17 L149.10,447.49 L148.85,447.49 L148.60,449.78 L148.35,449.78 L148.10,449.13 L147.85,449.13 L147.60,449.51 L147.35,449.51 L147.10,449.26 L146.85,450.26 L146.60,450.61 L146.35,450.61 L146.10,450.36 L145.85,450.36 L145.60,449.25 L145.35,449.25 L145.10,449.45 L144.85,449.45 L144.60,448.80 L144.35,448.80 L144.10,449.36 L143.85,449.36 L143.60,451.09 L143.35,451.09 L143.10,451.99 L142.85,451.99 L142.60,451.21 L142.35,451.21 L142.10,451.33 L141.85,451.33 L141.60,451.17 L141.35,451.17 L141.10,451.91 L140.85,451.91 L140.60,451.13 L140.35,451.13 L140.10,451.94 L139.85,451.94 L139.60,451.14 L139.35,451.14 L139.10,447.12 L138.85,447.12 L138.60,447.14 L138.35,447.14 L138.10,447.56 L137.85,447.56 L137.60,447.00 L137.35,447.00 L137.10,447.87 L136.85,447.87 L136.60,447.10 L136.35,447.10 L136.10,452.35 L135.85,452.35 L135.60,452.24 L135.35,452.24 L135.10,451.91 L134.85,451.91 L134.60,452.41 L134.35,452.41 L134.10,452.47 L133.85,446.07 L133.60,446.01 L133.35,446.01 L133.10,445.51 L132.85,445.51 L132.60,445.34 L132.35,445.34 L132.10,445.97 L131.85,445.97 L131.60,443.12 L131.35,443.12 L131.10,443.50 L130.85,443.50 L130.60,443.72 L130.35,443.72 L130.10,443.44 L129.85,443.44 L129.60,451.29 L129.35,451.29 L129.10,452.19 L128.85,452.19 L128.60,452.00 L128.35,452.00 L128.10,452.07 L127.85,452.07 L127.60,452.33 L127.35,452.33 L127.10,451.91 L126.85,451.91 L126.60,452.34 L126.35,452.34 L126.10,452.34 L125.85,452.34 L125.60,451.93 L125.35,451.93 L125.10,452.57 L124.85,452.57 L124.60,452.40 L124.35,452.40 L124.10,451.95 L123.85,447.05 L123.60,447.20 L123.35,447.20 L123.10,447.19 L122.85,447.19 L122.60,447.73 L122.35,447.73 L122.10,447.50 L121.85,449.70 L121.60,449.24 L121.35,449.24 L121.10,449.31 L120.85,449.31 L120.60,449.88 L120.35,450.88 L120.10,450.35 L119.85,450.35 L119.60,450.69 L119.35,450.69 L119.10,450.66 L118.85,449.06 L118.60,449.33 L118.35,449.33 L118.10,448.85 L117.85,448.85 L117.60,449.11 L117.35,449.11 L117.10,449.06 L116.85,451.56 L116.60,451.99 L116.35,451.99 L116.10,451.06 L115.85,451.06 L115.60,451.01 L115.35,451.01 L115.10,451.77 L114.85,451.77 L114.60,451.90 L114.35,451.90 L114.10,451.48 L113.85,451.48 L113.60,451.35 L113.35,451.35 L113.10,451.17 L112.85,451.17 L112.60,447.28 L112.35,447.28 L112.10,447.59 L111.85,447.59 L111.60,447.04 L111.35,447.04 L111.10,447.81 L110.85,447.81 L110.60,447.71 L110.35,447.71 L110.10,447.26 L109.85,447.26 L109.60,452.20 L109.35,452.20 L109.10,451.89 L108.85,451.89 L108.60,451.52 L108.35,451.52 L108.10,452.13 L107.85,452.13 L107.60,451.77 L107.35,445.37 L107.10,446.04 L106.85,446.04 L106.60,446.02 L106.35,446.02 L106.10,445.15 L105.85,445.15 L105.60,445.27 L105.35,445.27 L105.10,443.82 L104.85,443.82 L104.60,443.95 L104.35,443.95 L104.10,444.01 L103.85,444.01 L103.60,443.36 L103.35,443.36 L103.10,443.50 L102.85,451.60 L102.60,451.97 L102.35,451.97 L102.10,452.31 L101.85,452.31 L101.60,452.42 L101.35,452.42 L101.10,452.49 L100.85,452.49 L100.60,452.49 L100.35,452.49 L100.10,452.50 L99.85,452.50 L99.60,452.29 L99.35,452.29 L99.10,452.22 L98.85,452.22 L98.60,452.71 L98.35,452.71 L98.10,452.05 L97.85,452.05 L97.60,452.18 L97.35,447.28 L97.10,447.67 L96.85,447.67 L96.60,447.83 L96.35,447.83 L96.10,447.78 L95.85,447.78 L95.60,447.83 L95.35,450.03 L95.10,449.10 L94.85,449.10 L94.60,449.91 L94.35,449.91 L94.10,449.85 L93.85,450.85 L93.60,450.64 L93.35,450.64 L93.10,450.75 L92.85,450.75 L92.60,450.19 L92.35,448.59 L92.10,448.57 L91.85,448.57 L91.60,448.76 L91.35,448.76 L91.10,449.31 L90.85,449.31 L90.60,448.62 L90.35,451.12 L90.10,451.20 L89.85,451.20 L89.60,451.88 L89.35,451.88 L89.10,451.67 L88.85,451.67 L88.60,451.64 L88.35,451.64 L88.10,451.00 L87.85,451.00 L87.60,451.97 L87.35,451.97 L87.10,451.96 L86.85,451.96 L86.60,451.95 L86.35,451.95 L86.10,447.05 L85.85,447.05 L85.60,447.61 L85.35,447.61 L85.10,447.44 L84.85,447.44 L84.60,447.17 L84.35,447.17 L84.10,447.75 L83.85,447.75 L83.60,447.08 L83.35,447.08 L83.10,452.36 L82.85,452.36 L82.60,452.00 L82.35,452.00 L82.10,452.02 L81.85,452.02 L81.60,451.50 L81.35,451.50 L81.10,451.59 L80.85,445.19 L80.60,445.61 L80.35,445.61 L80.10,445.62 L79.85,445.62 L79.60,445.48 L79.35,445.48 L79.10,445.99 L78.85,445.99 L78.60,443.89 L78.35,443.89 L78.10,443.56 L77.85,443.56 L77.60,443.14 L77.35,443.14 L77.10,443.13 L76.85,443.13 L76.60,443.73 L76.35,451.83 L76.10,452.17 L75.85,452.17 L75.60,452.53 L75.35,452.53 L75.10,452.18 L74.85,452.18 L74.60,452.30 L74.35,452.30 L74.10,452.79 L73.85,452.79 L73.60,452.79 L73.35,452.79 L73.10,452.63 L72.85,452.63 L72.60,452.59 L72.35,452.59 L72.10,452.60 L71.85,452.60 L71.60,452.70 L71.35,452.70 L71.10,452.17 L70.85,447.27 L70.60,447.75 L70.35,447.75 L70.10,447.26 L69.85,447.26 L69.60,447.47 L69.35,447.47 L69.10,447.63 L68.85,449.83 L68.60,449.73 L68.35,449.73 L68.10,449.62 L67.85,449.62 L67.60,449.85 L67.35,450.85 L67.10,451.01 L66.85,451.01 L66.60,450.81 L66.35,450.81 L66.10,450.20 L65.85,448.60 L65.60,448.68 L65.35,448.68 L65.10,449.19 L64.85,449.19 L64.60,448.94 L64.35,448.94 L64.10,449.37 L63.85,451.87 L63.60,451.91 L63.35,451.91 L63.10,451.68 L62.85,451.68 L62.60,451.65 L62.35,451.65 L62.10,451.33 L61.85,451.33 L61.60,451.74 L61.35,451.74 L61.10,451.23 L60.85,451.23 L60.60,451.80 L60.35,451.80 L60.10,451.19 L59.85,451.19 L59.60,447.47 L59.35,447.47 L59.10,446.94 L58.85,446.94 L58.60,447.85 L58.35,447.85 L58.10,447.66 L57.85,447.66 L57.60,447.50 L57.35,447.50 L57.10,447.82 L56.85,447.82 L56.60,452.29 L56.35,452.29 L56.10,452.46 L55.85,452.46 L55.60,451.87 L55.35,451.87 L55.10,452.13 L54.85,452.13 L54.60,451.85 L54.35,451.85 L54.10,445.21 L53.85,445.21 L53.60,445.31 L53.35,445.31 L53.10,445.92 L52.85,445.92 L52.60,445.84 L52.35,445.84 L52.10,443.27 L51.85,443.27 L51.60,443.42 L51.35,443.42 L51.10,443.74 L50.85,443.74 L50.60,443.67 L50.35,443.67 L50.10,444.05 L49.85,452.15 L49.60,451.96 L49.35,451.96 L49.10,451.94 L48.85,451.94 L48.60,452.57 L48.35,452.57 L48.10,452.53 L47.85,452.53 L47.60,452.13 L47.35,452.13 L47.10,452.54 L46.85,452.54 L46.60,451.90 L46.35,451.90 L46.10,452.64 L45.85,452.64Z"/>
<path clip-path="url(#c3)" fill="#1f77b4" d="M58.00,590.61 L58.25,590.61 L58.50,589.55 L58.75,589.55 L59.00,590.43 L59.25,590.43 L59.50,583.74 L59.75,580.44 L60.00,565.00 L60.25,565.00 L60.50,565.00 L60.75,565.00 L61.00,565.00 L61.25,565.00 L61.50,565.00 L61.75,565.00 L62.00,579.53 L62.25,579.53 L62.50,580.24 L62.75,580.24 L63.00,579.26 L63.25,579.26 L63.50,580.18 L63.75,580.18 L64.00,574.40 L64.25,574.40 L64.50,574.40 L64.75,574.40 L65.00,574.40 L65.25,574.40 L65.50,574.40 L65.75,574.40 L66.00,579.71 L66.25,579.71 L66.50,580.97 L66.75,580.97 L67.00,579.55 L67.25,579.55 L67.50,579.92 L67.75,579.92 L68.00,579.93 L68.25,579.93 L68.50,583.16 L68.75,584.30 L69.00,583.70 L69.25,583.70 L69.50,584.41 L69.75,584.41 L70.00,584.10 L70.25,584.10 L70.50,584.42 L70.75,584.42 L71.00,581.41 L71.25,580.31 L71.50,579.37 L71.75,578.26 L72.00,554.80 L72.25,554.80 L72.50,554.80 L72.75,554.80 L73.00,554.80 L73.25,554.80 L73.50,554.80 L73.75,554.80 L74.00,567.90 L74.25,567.90 L74.50,567.90 L74.75,567.90 L75.00,567.90 L75.25,567.90 L75.50,567.82 L75.75,567.82 L76.00,567.90 L76.25,568.93 L76.50,568.84 L76.75,500.20 L77.00,500.20 L77.25,500.20 L77.50,500.20 L77.75,500.20 L78.00,500.20 L78.25,500.20 L78.50,587.85 L78.75,587.85 L79.00,587.89 L79.25,587.89 L79.50,587.77 L79.75,587.77 L80.00,587.49 L80.25,587.49 L80.50,587.71 L80.75,546.90 L81.00,546.90 L81.25,546.90 L81.50,546.90 L81.75,546.90 L82.00,546.90 L82.25,546.90 L82.50,546.90 L82.75,546.90 L83.00,571.53 L83.25,571.53 L83.50,571.57 L83.75,571.57 L84.00,570.73 L84.25,570.73 L84.50,570.23 L84.75,570.23 L85.00,570.48 L85.25,570.48 L85.50,571.21 L85.75,572.71 L86.00,579.73 L86.25,579.73 L86.50,580.03 L86.75,580.03 L87.00,580.33 L87.25,580.33 L87.50,580.19 L87.75,581.09 L88.00,585.95 L88.25,585.95 L88.50,584.55 L88.75,584.55 L89.00,584.93 L89.25,572.90 L89.50,572.90 L89.75,572.90 L90.00,572.90 L90.25,572.90 L90.50,572.90 L90.75,572.90 L91.00,580.46 L91.25,580.46 L91.50,580.10 L91.75,580.10 L92.00,580.83 L92.25,580.83 L92.50,580.30 L92.75,580.30 L93.00,580.35 L93.25,580.35 L93.50,580.69 L93.75,580.35 L94.00,579.70 L94.25,579.70 L94.50,578.65 L94.75,578.65 L95.00,579.28 L95.25,579.28 L95.50,578.67 L95.75,580.13 L96.00,582.63 L96.25,582.63 L96.50,569.90 L96.75,569.90 L97.00,569.90 L97.25,569.90 L97.50,569.90 L97.75,569.90 L98.00,569.90 L98.25,584.67 L98.50,584.41 L98.75,584.41 L99.00,585.68 L99.25,585.68 L99.50,585.48 L99.75,585.48 L100.00,584.38 L100.25,591.04 L100.50,592.68 L100.75,592.68 L101.00,592.92 L101.25,592.92 L101.50,592.20 L101.75,592.20 L102.00,592.67 L102.25,587.90 L102.50,579.69 L102.75,576.51 L103.00,577.46 L103.25,577.46 L103.50,576.17 L103.75,576.17 L104.00,577.78 L104.25,577.78 L104.50,576.42 L104.75,577.55 L105.00,579.60 L105.25,579.60 L105.50,579.14 L105.75,579.14 L106.00,580.64 L106.25,580.64 L106.50,580.49 L106.75,580.49 L107.00,579.12 L107.25,579.12 L107.50,579.95 L107.75,581.41 L108.00,583.60 L108.25,583.60 L108.50,583.99 L108.75,583.99 L109.00,541.00 L109.25,541.00 L109.50,541.00 L109.75,541.00 L110.00,541.00 L110.25,541.00 L110.50,541.00 L110.75,578.43 L111.00,577.39 L111.25,577.35 L111.50,577.99 L111.75,577.95 L112.00,577.50 L112.25,577.46 L112.50,577.59 L112.75,577.54 L113.00,577.49 L113.25,577.45 L113.50,575.43 L113.75,574.33 L114.00,573.32 L114.25,573.32 L114.50,573.31 L114.75,573.31 L115.00,574.95 L115.25,574.95 L115.50,573.66 L115.75,573.66 L116.00,573.84 L116.25,573.84 L116.50,573.63 L116.75,573.63 L117.00,574.36 L117.25,557.00 L117.50,557.00 L117.75,557.00 L118.00,557.00 L118.25,557.00 L118.50,557.00 L118.75,557.00 L119.00,557.00 L119.25,557.00 L119.50,580.95 L119.75,580.95 L120.00,581.06 L120.25,581.06 L120.50,580.99 L120.75,580.99 L121.00,563.10 L121.25,563.10 L121.50,563.10 L121.75,563.10 L122.00,563.10 L122.25,563.10 L122.50,563.10 L122.75,550.40 L123.00,550.40 L123.25,550.40 L123.50,550.40 L123.75,550.40 L124.00,550.40 L124.25,550.40 L124.50,550.40 L124.75,550.40 L125.00,555.40 L125.25,555.40 L125.50,555.40 L125.75,555.40 L126.00,555.40 L126.25,584.63 L126.50,559.20 L126.75,559.20 L127.00,559.20 L127.25,559.20 L127.50,559.20 L127.75,585.45 L128.00,586.60 L128.25,586.60 L128.50,585.65 L128.75,585.65 L129.00,585.77 L129.25,585.42 L129.50,584.96 L129.75,584.96 L130.00,585.01 L130.25,582.46 L130.50,582.68 L130.75,582.68 L131.00,582.63 L131.25,582.63 L131.50,581.31 L131.75,581.31 L132.00,582.70 L132.25,583.10 L132.50,582.05 L132.75,582.05 L133.00,582.34 L133.25,582.34 L133.50,581.93 L133.75,581.93 L134.00,582.97 L134.25,581.77 L134.50,581.91 L134.75,581.91 L135.00,581.94 L135.25,582.37 L135.50,583.69 L135.75,583.69 L136.00,583.01 L136.25,583.01 L136.50,582.62 L136.75,582.62 L137.00,582.31 L137.25,582.31 L137.50,565.30 L137.75,565.30 L138.00,565.30 L138.25,565.30 L138.50,565.30 L138.75,565.30 L139.00,565.30 L139.25,565.30 L139.50,565.30 L139.75,583.45 L140.00,583.35 L140.25,583.35 L140.50,583.13 L140.75,581.86 L141.00,581.17 L141.25,581.17 L141.50,580.52 L141.75,580.52 L142.00,581.45 L142.25,581.45 L142.50,580.85 L142.75,580.85 L143.00,582.27 L143.25,582.27 L143.50,581.40 L143.75,581.40 L144.00,582.69 L144.25,582.69 L144.50,581.30 L144.75,581.30 L145.00,582.42 L145.25,525.60 L145.50,525.60 L145.75,525.60 L146.00,525.60 L146.25,525.60 L146.50,525.60 L146.75,525.60 L147.00,525.60 L147.25,525.60 L147.50,560.30 L147.75,560.30 L148.00,560.30 L148.25,560.30 L148.50,560.30 L148.75,560.30 L149.00,560.30 L149.25,560.30 L149.50,560.30 L149.75,577.19 L150.00,577.57 L150.25,577.57 L150.50,577.71 L150.75,577.71 L151.00,577.67 L151.25,580.15 L151.50,580.32 L151.75,580.32 L152.00,580.31 L152.25,580.31 L152.50,581.07 L152.75,581.07 L153.00,582.75 L153.25,582.75 L153.50,581.40 L153.75,581.40 L154.00,581.74 L154.25,581.74 L154.50,581.50 L154.75,581.50 L155.00,582.75 L155.25,583.55 L155.50,581.83 L155.75,581.83 L156.00,583.41 L156.25,584.68 L156.50,588.28 L156.75,588.28 L157.00,587.50 L157.25,587.50 L157.50,588.12 L157.75,588.12 L158.00,583.37 L158.25,583.37 L158.50,583.85 L158.75,583.85 L159.00,583.47 L159.25,583.47 L159.50,584.35 L159.75,580.95 L160.00,580.12 L160.25,580.12 L160.50,580.76 L160.75,580.76 L161.00,580.34 L161.25,580.34 L161.50,579.97 L161.75,580.00 L162.00,581.24 L162.25,565.30 L162.50,565.30 L162.75,565.30 L163.00,565.30 L163.25,565.30 L163.50,565.30 L163.75,565.30 L164.00,565.30 L164.25,565.30 L164.50,582.10 L164.75,582.10 L165.00,582.12 L165.25,582.12 L165.50,582.67 L165.75,582.67 L166.00,581.78 L166.25,581.78 L166.50,582.48 L166.75,582.48 L167.00,582.39 L167.25,583.64 L167.50,585.05 L167.75,585.05 L168.00,584.29 L168.25,582.19 L168.50,582.57 L168.75,582.57 L169.00,581.57 L169.25,581.57 L169.50,581.53 L169.75,580.48 L170.00,579.49 L170.25,579.49 L170.50,580.62 L170.75,580.62 L171.00,579.94 L171.25,579.94 L171.50,580.94 L171.75,580.94 L172.00,579.44 L172.25,579.44 L172.50,579.61 L172.75,582.11 L173.00,583.31 L173.25,583.31 L173.50,582.55 L173.75,582.55 L174.00,582.20 L174.25,582.20 L174.50,590.81 L174.75,590.81 L175.00,589.82 L175.25,589.82 L175.50,591.15 L175.75,591.15 L176.00,589.89 L176.25,589.89 L176.50,588.45 L176.75,586.13 L177.00,585.75 L177.25,586.06 L177.50,587.18 L177.75,587.03 L178.00,585.73 L178.25,585.58 L178.50,586.57 L178.75,586.42 L179.00,585.14 L179.25,584.99 L179.50,585.11 L179.75,584.96 L180.00,585.14 L180.25,584.89 L180.50,584.50 L180.75,584.25 L181.00,584.21 L181.25,583.96 L181.50,583.75 L181.75,583.50 L182.00,582.48 L182.25,582.23 L182.50,581.52 L182.75,581.27 L183.00,582.30 L183.25,582.30 L183.50,582.08 L183.75,582.08 L184.00,582.01 L184.25,582.01 L184.50,581.89 L184.75,581.89 L185.00,582.67 L185.25,582.67 L185.50,581.53 L185.75,581.53 L186.00,582.64 L186.25,584.64 L186.50,585.30 L186.75,587.30 L187.00,590.25 L187.25,590.25 L187.50,590.69 L187.75,590.69 L188.00,589.28 L188.25,589.28 L188.50,590.39 L188.75,590.39 L189.00,589.49 L189.25,587.99 L189.50,586.11 L189.75,584.61 L190.00,583.78 L190.25,583.78 L190.50,584.26 L190.75,584.26 L191.00,583.51 L191.25,583.51 L191.50,584.71 L191.75,584.71 L192.00,583.00 L192.25,583.00 L192.50,583.48 L192.75,583.48 L193.00,583.61 L193.25,585.28 L193.50,587.00 L193.75,588.67 L194.00,589.54 L194.25,589.54 L194.50,589.04 L194.75,589.04 L195.00,589.38 L195.25,589.38 L195.50,589.47 L195.75,589.47 L196.00,590.21 L196.25,590.21 L196.50,589.68 L196.75,589.68 L197.00,590.30 L197.25,590.30 L197.50,589.80 L197.75,589.80 L198.00,590.10 L198.25,590.72 L198.50,591.00 L198.75,591.61 L199.00,592.35 L199.25,592.96 L199.50,594.79 L199.75,595.40 L200.00,594.33 L200.25,593.84 L200.50,593.10 L200.75,592.61 L201.00,591.95 L201.25,591.47 L201.50,592.16 L201.75,591.68 L202.00,591.27 L202.25,591.27 L202.50,591.25 L202.75,591.25 L203.00,591.45 L203.25,591.45 L203.50,590.43 L203.75,590.43 L204.00,591.32 L204.25,591.32 L204.50,590.13 L204.75,590.13 L205.00,591.20 L205.25,591.20 L205.50,590.58 L205.75,590.58 L206.00,590.89 L206.25,590.52 L206.50,589.36 L206.75,588.98 L207.00,588.84 L207.25,588.46 L207.50,588.66 L207.75,588.28 L208.00,588.69 L208.25,588.69 L208.50,587.61 L208.75,587.61 L209.00,587.30 L209.25,587.30 L209.50,587.22 L209.75,587.22 L210.00,588.80 L210.25,589.54 L210.50,590.67 L210.75,591.41 L211.00,590.57 L211.25,591.31 L211.50,592.64 L211.75,593.37 L212.00,592.90 L212.25,592.52 L212.50,593.55 L212.75,593.17 L213.00,591.31 L213.25,590.92 L213.50,590.43 L213.75,590.12 L214.00,591.38 L214.25,591.38 L214.50,591.80 L214.75,591.80 L215.00,591.39 L215.25,591.39 L215.50,590.21 L215.75,590.21 L216.00,590.73 L216.25,590.73 L216.50,590.94 L216.75,590.94 L217.00,591.62 L217.25,591.62 L217.50,591.36 L217.75,591.28 L218.00,589.66 L218.25,589.28 L218.50,589.62 L218.75,589.24 L219.00,589.45 L219.25,589.08 L219.50,588.28 L219.75,587.98 L220.00,588.20 L220.25,588.20 L220.50,588.74 L220.75,588.74 L221.00,588.76 L221.25,588.76 L221.50,588.51 L221.75,588.51 L222.00,588.03 L222.25,588.03 L222.50,587.55 L222.75,587.70 L223.00,588.17 L223.25,588.91 L223.50,589.66 L223.75,590.40 L224.00,591.99 L224.25,592.73 L224.50,593.70 L224.75,594.19 L225.00,593.83 L225.25,593.32 L225.50,592.90 L225.75,592.39 L226.00,590.75 L226.25,590.24 L226.50,589.81 L226.75,589.60 L227.00,589.35 L227.25,589.35 L227.50,589.98 L227.75,589.98 L228.00,590.70 L228.25,590.70 L228.50,590.36 L228.75,590.36 L229.00,589.79 L229.25,589.79 L229.50,589.29 L229.75,589.29 L230.00,590.52 L230.25,590.52 L230.50,590.61 L230.75,590.61 L231.00,590.38 L231.25,590.38 L231.50,589.53 L231.75,589.34 L232.00,589.20 L232.25,588.89 L232.50,588.93 L232.75,588.61 L233.00,588.90 L233.25,588.59 L233.50,587.06 L233.75,587.26 L234.00,588.12 L234.25,588.66 L234.50,588.55 L234.75,589.09 L235.00,589.53 L235.25,590.07 L235.50,591.04 L235.75,591.58 L236.00,593.14 L236.25,593.12 L236.50,592.48 L236.75,592.08 L237.00,591.32 L237.25,590.92 L237.50,590.40 L237.75,590.17 L238.00,589.80 L238.25,589.70 L238.50,590.49 L238.75,590.38 L239.00,589.77 L239.25,589.67 L239.50,588.81 L239.75,588.70 L240.00,589.59 L240.25,589.48 L240.50,590.04 L240.75,589.93 L241.00,588.16 L241.25,588.05 L241.50,589.61 L241.75,589.50 L242.00,587.78 L242.25,587.75 L242.50,588.09 L242.75,588.06 L243.00,589.24 L243.25,589.21 L243.50,589.17 L243.75,589.14 L244.00,587.69 L244.25,587.66 L244.50,588.60 L244.75,588.57 L245.00,588.34 L245.25,588.31 L245.50,587.90 L245.75,587.87 L246.00,588.53 L246.25,588.50 L246.50,588.20 L246.75,588.17 L247.00,587.41 L247.25,588.08 L247.50,589.23 L247.75,589.91 L248.00,590.98 L248.25,591.65 L248.50,592.17 L248.75,592.84 L249.00,593.38 L249.25,592.83 L249.50,592.63 L249.75,592.08 L250.00,590.44 L250.25,589.89 L250.50,589.18 L250.75,588.63 L251.00,588.06 L251.25,588.00 L251.50,589.01 L251.75,588.95 L252.00,588.56 L252.25,588.51 L252.50,589.18 L252.75,589.12 L253.00,589.31 L253.25,589.26 L253.50,587.66 L253.75,587.60 L254.00,588.03 L254.25,587.98 L254.50,587.99 L254.75,587.94 L255.00,588.11 L255.25,588.06 L255.50,588.66 L255.75,588.60 L256.00,587.99 L256.25,587.94 L256.50,587.35 L256.75,587.30 L257.00,587.89 L257.25,587.83 L257.50,587.18 L257.75,587.12 L258.00,587.64 L258.25,587.98 L258.50,587.50 L258.75,587.84 L259.00,589.02 L259.25,589.46 L259.50,589.76 L259.75,590.20 L260.00,590.95 L260.25,591.40 L260.50,591.70 L260.75,592.15 L261.00,592.24 L261.25,591.75 L261.50,591.56 L261.75,591.07 L262.00,589.50 L262.25,589.01 L262.50,589.63 L262.75,589.15 L263.00,588.62 L263.25,588.62 L263.50,588.74 L263.75,588.74 L264.00,588.22 L264.25,588.22 L264.50,587.65 L264.75,587.65 L265.00,589.16 L265.25,589.16 L265.50,588.99 L265.75,588.99 L266.00,589.26 L266.25,589.26 L266.50,588.33 L266.75,588.33 L267.00,589.09 L267.25,589.09 L267.50,589.07 L267.75,589.07 L268.00,588.49 L268.25,588.49 L268.50,589.12 L268.75,589.12 L269.00,588.97 L269.25,588.97 L269.50,587.68 L269.75,587.68 L270.00,587.74 L270.25,587.74 L270.50,588.23 L270.75,588.23 L271.00,588.46 L271.25,588.46 L271.50,588.67 L271.75,588.67 L272.00,589.04 L272.25,589.69 L272.50,590.90 L272.75,591.55 L273.00,592.06 L273.25,592.71 L273.50,591.13 L273.75,590.56 L274.00,590.42 L274.25,589.86 L274.50,590.28 L274.75,589.71 L275.00,589.30 L275.25,589.22 L275.50,587.81 L275.75,587.73 L276.00,588.75 L276.25,588.67 L276.50,587.69 L276.75,587.61 L277.00,588.21 L277.25,588.13 L277.50,588.94 L277.75,588.86 L278.00,587.12 L278.25,587.04 L278.50,588.31 L278.75,588.23 L279.00,587.54 L279.25,587.46 L279.50,588.27 L279.75,588.20 L280.00,587.90 L280.25,587.82 L280.50,586.31 L280.75,586.23 L281.00,587.20 L281.25,587.12 L281.50,587.43 L281.75,587.35 L282.00,586.22 L282.25,586.15 L282.50,586.83 L282.75,586.89 L283.00,586.67 L283.25,587.26 L283.50,587.76 L283.75,588.35 L284.00,589.17 L284.25,589.76 L284.50,590.28 L284.75,590.87 L285.00,592.66 L285.25,593.02 L285.50,591.18 L285.75,590.64 L286.00,590.44 L286.25,589.90 L286.50,589.47 L286.75,588.93 L287.00,588.76 L287.25,588.22 L287.50,588.18 L287.75,587.75 L288.00,587.11 L288.25,587.11 L288.50,587.55 L288.75,587.55 L289.00,586.24 L289.25,586.24 L289.50,587.19 L289.75,587.19 L290.00,586.31 L290.25,586.31 L290.50,587.57 L290.75,587.57 L291.00,587.07 L291.25,587.07 L291.50,586.25 L291.75,586.25 L292.00,587.53 L292.25,587.53 L292.50,586.94 L292.75,586.94 L293.00,586.87 L293.25,586.87 L293.50,586.15 L293.75,586.51 L294.00,588.61 L294.25,589.22 L294.50,589.13 L294.75,589.74 L295.00,590.99 L295.25,591.60 L295.50,590.79 L295.75,591.04 L296.00,592.12 L296.25,592.12 L296.50,591.58 L296.75,591.58 L297.00,591.87 L297.25,591.87 L297.50,592.02 L297.75,592.02 L298.00,592.39 L298.25,592.39 L298.50,592.56 L298.75,592.56 L299.00,591.20 L299.25,591.20 L299.50,592.45 L299.75,592.48 L300.00,591.21 L300.25,591.27 L300.50,591.14 L300.75,591.21 L301.00,591.79 L301.25,591.85 L301.50,591.89 L301.75,591.82 L302.00,592.55 L302.25,592.40 L302.50,591.87 L302.75,591.72 L303.00,591.26 L303.25,591.11 L303.50,591.68 L303.75,591.53 L304.00,591.64 L304.25,591.49 L304.50,590.81 L304.75,590.66 L305.00,590.54 L305.25,590.39 L305.50,590.61 L305.75,590.59 L306.00,589.63 L306.25,589.69 L306.50,591.02 L306.75,591.08 L307.00,589.67 L307.25,589.73 L307.50,589.56 L307.75,589.62 L308.00,591.08 L308.25,591.10 L308.50,589.95 L308.75,589.97 L309.00,590.28 L309.25,590.30 L309.50,590.64 L309.75,590.66 L310.00,589.96 L310.25,589.98 L310.50,590.56 L310.75,590.58 L311.00,590.48 L311.25,590.50 L311.50,590.03 L311.75,590.05 L312.00,591.01 L312.25,591.03 L312.50,590.77 L312.75,590.79 L313.00,590.29 L313.25,590.35 L313.50,591.54 L313.75,591.61 L314.00,590.99 L314.25,591.05 L314.50,590.42 L314.75,590.48 L315.00,592.08 L315.25,592.08 L315.50,591.24 L315.75,591.24 L316.00,590.67 L316.25,590.67 L316.50,591.02 L316.75,591.02 L317.00,590.96 L317.25,590.96 L317.50,590.58 L317.75,590.58 L318.00,591.10 L318.25,591.10 L318.50,590.80 L318.75,590.80 L319.00,590.80 L319.25,590.58 L319.50,591.19 L319.75,590.97 L320.00,589.82 L320.25,589.60 L320.50,589.14 L320.75,589.28 L321.00,589.71 L321.25,589.86 L321.50,590.22 L321.75,590.36 L322.00,590.27 L322.25,590.42 L322.50,591.34 L322.75,591.49 L323.00,592.02 L323.25,591.85 L323.50,591.60 L323.75,591.43 L324.00,590.61 L324.25,590.45 L324.50,590.85 L324.75,590.68 L325.00,590.52 L325.25,590.36 L325.50,589.91 L325.75,589.74 L326.00,589.94 L326.25,589.94 L326.50,589.18 L326.75,589.18 L327.00,589.85 L327.25,589.85 L327.50,589.44 L327.75,589.44 L328.00,589.83 L328.25,589.83 L328.50,589.83 L328.75,589.83 L329.00,588.62 L329.25,588.62 L329.50,590.00 L329.75,590.00 L330.00,588.56 L330.25,588.56 L330.50,589.27 L330.75,589.27 L331.00,589.56 L331.25,589.56 L331.50,589.98 L331.75,589.98 L332.00,588.92 L332.25,589.31 L332.50,590.80 L332.75,591.19 L333.00,590.99 L333.25,591.38 L333.50,591.23 L333.75,591.62 L334.00,592.53 L334.25,592.92 L334.50,593.28 L334.75,592.94 L335.00,591.60 L335.25,591.26 L335.50,592.29 L335.75,591.95 L336.00,590.17 L336.25,589.83 L336.50,589.84 L336.75,589.50 L337.00,589.59 L337.25,589.59 L337.50,589.12 L337.75,589.12 L338.00,590.67 L338.25,590.67 L338.50,590.74 L338.75,590.74 L339.00,590.63 L339.25,590.63 L339.50,589.36 L339.75,589.36 L340.00,590.50 L340.25,590.50 L340.50,589.61 L340.75,589.61 L341.00,589.52 L341.25,589.52 L341.50,590.24 L341.75,590.24 L342.00,588.94 L342.25,588.68 L342.50,588.27 L342.75,588.01 L343.00,589.41 L343.25,589.15 L343.50,587.85 L343.75,587.70 L344.00,588.78 L344.25,589.07 L344.50,588.70 L344.75,588.99 L345.00,588.68 L345.25,588.98 L345.50,589.95 L345.75,590.25 L346.00,589.99 L346.25,590.28 L346.50,590.41 L346.75,590.60 L347.00,590.23 L347.25,589.98 L347.50,590.42 L347.75,590.17 L348.00,589.67 L348.25,589.42 L348.50,589.30 L348.75,589.05 L349.00,589.93 L349.25,589.68 L349.50,589.19 L349.75,588.99 L350.00,588.77 L350.25,588.77 L350.50,587.94 L350.75,587.94 L351.00,588.85 L351.25,588.85 L351.50,588.76 L351.75,588.76 L352.00,588.45 L352.25,588.45 L352.50,587.93 L352.75,587.93 L353.00,587.87 L353.25,587.87 L353.50,588.26 L353.75,588.26 L354.00,588.00 L354.25,588.00 L354.50,589.09 L354.75,589.09 L355.00,588.34 L355.25,588.34 L355.50,588.72 L355.75,588.72 L356.00,589.11 L356.25,589.11 L356.50,588.62 L356.75,588.68 L357.00,588.16 L357.25,588.48 L357.50,589.07 L357.75,589.39 L358.00,590.79 L358.25,591.10 L358.50,589.83 L358.75,590.15 L359.00,590.77 L359.25,590.81 L359.50,591.37 L359.75,591.22 L360.00,591.50 L360.25,591.35 L360.50,591.14 L360.75,590.99 L361.00,590.68 L361.25,590.53 L361.50,590.32 L361.75,590.26 L362.00,589.67 L362.25,589.67 L362.50,589.11 L362.75,589.11 L363.00,590.14 L363.25,590.14 L363.50,589.13 L363.75,589.13 L364.00,590.44 L364.25,590.44 L364.50,589.24 L364.75,589.24 L365.00,589.04 L365.25,589.04 L365.50,590.80 L365.75,590.80 L366.00,589.30 L366.25,589.30 L366.50,590.05 L366.75,589.75 L367.00,588.31 L367.25,587.81 L367.50,588.97 L367.75,588.92 L368.00,587.43 L368.25,587.68 L368.50,589.14 L368.75,589.39 L369.00,589.92 L369.25,590.17 L369.50,589.43 L369.75,589.68 L370.00,589.41 L370.25,589.66 L370.50,589.97 L370.75,590.01 L371.00,589.97 L371.25,589.89 L371.50,591.05 L371.75,590.96 L372.00,590.47 L372.25,590.38 L372.50,590.96 L372.75,590.87 L373.00,590.31 L373.25,590.22 L373.50,590.07 L373.75,590.07 L374.00,589.36 L374.25,589.36 L374.50,589.40 L374.75,589.40 L375.00,590.76 L375.25,590.76 L375.50,590.71 L375.75,590.71 L376.00,589.79 L376.25,589.80 L376.50,590.46 L376.75,590.48 L377.00,590.36 L377.25,590.38 L377.50,589.60 L377.75,589.25 L378.00,588.76 L378.25,588.41 L378.50,589.05 L378.75,588.70 L379.00,588.73 L379.25,588.38 L379.50,588.07 L379.75,587.72 L380.00,586.24 L380.25,586.40 L380.50,586.03 L380.75,586.19 L381.00,587.01 L381.25,587.44 L381.50,587.41 L381.75,587.83 L382.00,589.91 L382.25,590.33 L382.50,589.53 L382.75,589.95 L383.00,591.35 L383.25,591.77 L383.50,590.92 L383.75,590.87 L384.00,592.10 L384.25,592.04 L384.50,591.14 L384.75,591.09 L385.00,591.66 L385.25,591.60 L385.50,591.13 L385.75,591.07 L386.00,591.32 L386.25,591.27 L386.50,589.96 L386.75,589.91 L387.00,589.88 L387.25,589.83 L387.50,590.26 L387.75,590.21 L388.00,591.09 L388.25,591.04 L388.50,591.04 L388.75,590.98 L389.00,590.57 L389.25,590.52 L389.50,590.26 L389.75,590.21 L390.00,589.05 L390.25,588.70 L390.50,589.93 L390.75,589.58 L391.00,588.75 L391.25,588.40 L391.50,587.97 L391.75,587.62 L392.00,587.68 L392.25,587.33 L392.50,586.09 L392.75,586.24 L393.00,587.09 L393.25,587.30 L393.50,587.84 L393.75,588.26 L394.00,588.81 L394.25,589.24 L394.50,588.47 L394.75,588.89 L395.00,590.46 L395.25,590.88 L395.50,591.62 L395.75,592.04 L396.00,591.59 L396.25,591.53 L396.50,590.66 L396.75,590.60 L397.00,591.90 L397.25,591.84 L397.50,590.32 L397.75,590.26 L398.00,590.44 L398.25,590.39 L398.50,591.46 L398.75,591.40 L399.00,590.87 L399.25,590.82 L399.50,590.31 L399.75,590.25 L400.00,591.04 L400.25,590.99 L400.50,590.65 L400.75,590.60 L401.00,589.59 L401.25,589.54 L401.50,589.69 L401.75,589.64 L402.00,590.62 L402.25,590.57 L402.50,590.28 L402.75,589.93 L403.00,588.25 L403.25,587.90 L403.50,588.36 L403.75,588.01 L404.00,588.00 L404.25,587.65 L404.50,586.61 L404.75,586.26 L405.00,585.84 L405.25,585.99 L405.50,586.79 L405.75,587.10 L406.00,588.46 L406.25,588.88 L406.50,588.94 L406.75,589.36 L407.00,588.85 L407.25,589.28 L407.50,590.84 L407.75,591.26 L408.00,591.36 L408.25,591.69 L408.50,590.95 L408.75,590.89 L409.00,590.80 L409.25,590.74 L409.50,590.52 L409.75,590.46 L410.00,590.81 L410.25,590.75 L410.50,590.61 L410.75,590.55 L411.00,590.36 L411.25,590.30 L411.50,591.30 L411.75,591.24 L412.00,590.98 L412.25,590.92 L412.50,590.38 L412.75,590.33 L413.00,591.11 L413.25,591.05 L413.50,590.48 L413.75,590.42 L414.00,590.86 L414.25,590.74 L414.50,590.16 L414.75,589.81 L415.00,589.12 L415.25,588.77 L415.50,588.53 L415.75,588.18 L416.00,587.97 L416.25,587.62 L416.50,587.24 L416.75,586.99 L417.00,587.36 L417.25,587.52 L417.50,586.71 L417.75,587.13 L418.00,587.60 L418.25,588.02 L418.50,588.24 L418.75,588.66 L419.00,590.30 L419.25,590.72 L419.50,591.11 L419.75,591.53 L420.00,591.13 L420.25,591.26 L420.50,591.13 L420.75,591.07 L421.00,590.53 L421.25,590.47 L421.50,591.93 L421.75,591.87 L422.00,591.27 L422.25,591.21 L422.50,591.67 L422.75,591.62 L423.00,590.96 L423.25,590.90 L423.50,590.63 L423.75,590.57 L424.00,590.94 L424.25,590.88 L424.50,591.07 L424.75,591.01 L425.00,590.88 L425.25,590.82 L425.50,589.86 L425.75,589.80 L426.00,590.04 L426.25,589.80 L426.50,590.24 L426.75,589.89 L427.00,588.75 L427.25,588.40 L427.50,588.58 L427.75,588.23 L428.00,587.38 L428.25,587.03 L428.50,587.24 L428.75,587.19 L429.00,585.97 L429.25,586.13 L429.50,586.27 L429.75,586.69 L430.00,587.28 L430.25,587.70 L430.50,588.75 L430.75,589.17 L431.00,589.47 L431.25,589.89 L431.50,591.38 L431.75,591.80 L432.00,592.29 L432.25,592.24 L432.50,590.63 L432.75,590.57 L433.00,591.77 L433.25,591.71 L433.50,591.07 L433.75,591.01 L434.00,591.55 L434.25,591.49 L434.50,590.58 L434.75,590.52 L435.00,591.19 L435.25,591.13 L435.50,589.69 L435.75,589.63 L436.00,590.41 L436.25,590.35 L436.50,590.05 L436.75,589.99 L437.00,589.79 L437.25,589.73 L437.50,589.76 L437.75,589.70 L438.00,589.85 L438.25,589.50 L438.50,589.29 L438.75,588.94 L439.00,588.64 L439.25,588.29 L439.50,588.32 L439.75,587.97 L440.00,587.79 L440.25,587.44 L440.50,587.33 L440.75,587.49 L441.00,587.12 L441.25,587.27 L441.50,586.90 L441.75,587.32 L442.00,588.33 L442.25,588.75 L442.50,588.92 L442.75,589.34 L443.00,589.40 L443.25,589.82 L443.50,590.42 L443.75,590.84 L444.00,592.81 L444.25,592.24 L444.50,592.22 L444.75,591.64 L445.00,590.22 L445.25,589.64 L445.50,589.93 L445.75,589.35 L446.00,588.54 L446.25,587.97 L446.50,586.66 L446.75,586.09 L447.00,586.00 L447.25,586.00 L447.50,587.25 L447.75,587.25 L448.00,586.54 L448.25,586.54 L448.50,585.62 L448.75,585.62 L449.00,586.54 L449.25,586.54 L449.50,586.77 L449.75,586.77 L450.00,585.74 L450.25,585.74 L450.50,586.22 L450.75,586.22 L451.00,585.88 L451.25,585.88 L451.50,586.48 L451.75,586.48 L452.00,586.98 L452.25,586.98 L452.50,585.93 L452.75,585.93 L453.00,585.75 L453.25,585.75 L453.50,585.75 L453.75,585.75 L454.00,586.84 L454.25,587.43 L454.50,587.04 L454.75,587.63 L455.00,589.04 L455.25,589.63 L455.50,590.73 L455.75,591.32 L456.00,591.84 L456.25,592.43 L456.50,592.41 L456.75,591.92 L457.00,590.24 L457.25,589.75 L457.50,590.02 L457.75,589.53 L458.00,588.70 L458.25,588.21 L458.50,588.21 L458.75,587.72 L459.00,586.77 L459.25,586.77 L459.50,586.74 L459.75,586.74 L460.00,588.21 L460.25,588.21 L460.50,588.09 L460.75,588.09 L461.00,586.68 L461.25,586.68 L461.50,587.99 L461.75,587.99 L462.00,586.62 L462.25,586.62 L462.50,587.11 L462.75,587.11 L463.00,588.29 L463.25,588.29 L463.50,588.19 L463.75,588.19 L464.00,587.34 L464.25,587.34 L464.50,587.76 L464.75,587.76 L465.00,587.19 L465.25,587.19 L465.50,588.03 L465.75,588.03 L466.00,587.07 L466.25,587.07 L466.50,586.87 L466.75,586.87 L467.00,587.20 L467.25,587.75 L467.50,589.18 L467.75,589.73 L468.00,590.14 L468.25,590.69 L468.50,591.86 L468.75,592.41 L469.00,590.87 L469.25,590.50 L469.50,591.32 L469.75,590.95 L470.00,590.84 L470.25,590.47 L470.50,589.75 L470.75,589.38 L471.00,587.88 L471.25,587.51 L471.50,587.22 L471.75,586.85 L472.00,586.66 L472.25,586.66 L472.50,587.10 L472.75,587.10 L473.00,587.87 L473.25,587.87 L473.50,586.76 L473.75,586.76 L474.00,587.31 L474.25,587.31 L474.50,586.58 L474.75,586.58 L475.00,587.72 L475.25,587.72 L475.50,586.68 L475.75,586.68 L476.00,587.93 L476.25,587.93 L476.50,587.60 L476.75,587.60 L477.00,586.84 L477.25,586.84 L477.50,587.76 L477.75,587.76 L478.00,587.13 L478.25,587.13 L478.50,587.44 L478.75,587.60 L479.00,588.46 L479.25,589.26 L479.50,589.55 L479.75,590.35 L480.00,591.41 L480.25,592.21 L480.50,593.68 L480.75,594.20 L481.00,593.77 L481.25,593.19 L481.50,592.59 L481.75,592.01 L482.00,590.93 L482.25,590.36 L482.50,590.33 L482.75,589.76 L483.00,587.86 L483.25,587.29 L483.50,588.23 L483.75,587.77 L484.00,586.08 L484.25,586.08 L484.50,587.62 L484.75,587.62 L485.00,587.43 L485.25,587.43 L485.50,586.70 L485.75,586.70 L486.00,587.42 L486.25,587.42 L486.50,587.72 L486.75,587.72 L487.00,586.30 L487.25,586.30 L487.50,587.17 L487.75,587.17 L488.00,586.01 L488.25,586.01 L488.50,587.20 L488.75,587.20 L489.00,586.11 L489.25,586.11 L489.50,587.20 L489.75,587.20 L490.00,586.05 L490.25,586.05 L490.50,586.73 L490.75,587.03 L491.00,588.36 L491.25,588.86 L491.50,588.35 L491.75,588.85 L492.00,590.54 L492.25,591.04 L492.50,590.65 L492.75,590.80 L493.00,590.19 L493.25,590.11 L493.50,591.39 L493.75,591.30 L494.00,589.81 L494.25,589.73 L494.50,590.44 L494.75,590.35 L495.00,590.90 L495.25,590.81 L495.50,590.73 L495.75,590.64 L496.00,589.85 L496.25,589.76 L496.50,589.04 L496.75,588.95 L497.00,589.38 L497.25,589.28 L497.50,588.81 L497.75,588.72 L498.00,588.67 L498.25,588.57 L498.50,588.48 L498.75,588.39 L499.00,588.09 L499.25,587.99 L499.50,587.61 L499.75,587.57 L500.00,588.85 L500.25,588.85 L500.50,587.52 L500.75,587.52 L501.00,588.53 L501.25,588.53 L501.50,588.16 L501.75,588.16 L502.00,588.67 L502.25,588.67 L502.50,588.55 L502.75,588.72 L503.00,588.83 L503.25,589.12 L503.50,589.95 L503.75,590.25 L504.00,590.17 L504.25,590.46 L504.50,591.34 L504.75,591.64 L505.00,591.37 L505.25,591.66 L505.50,592.48 L505.75,592.73 L506.00,592.96 L506.25,592.80 L506.50,592.37 L506.75,592.22 L507.00,591.39 L507.25,591.23 L507.50,591.37 L507.75,591.21 L508.00,590.33 L508.25,590.18 L508.50,591.19 L508.75,591.04 L509.00,590.74 L509.25,590.59 L509.50,590.75 L509.75,590.60 L510.00,589.12 L510.25,588.97 L510.50,588.90 L510.75,588.75 L511.00,589.53 L511.25,589.38 L511.50,589.38 L511.75,589.23 L512.00,587.89 L512.25,587.74 L512.50,587.51 L512.75,587.36 L513.00,587.74 L513.25,587.59 L513.50,587.46 L513.75,587.31 L514.00,586.64 L514.25,586.49 L514.50,586.42 L514.75,586.27 L515.00,586.42 L515.25,586.54 L515.50,586.33 L515.75,586.53 L516.00,587.32 L516.25,587.86 L516.50,588.19 L516.75,588.73 L517.00,589.89 L517.25,590.44 L517.50,591.66 L517.75,592.20 L518.00,592.59 L518.25,592.44 L518.50,592.18 L518.75,592.03 L519.00,591.64 L519.25,591.48 L519.50,590.83 L519.75,590.68 L520.00,590.27 L520.25,590.12 L520.50,590.22 L520.75,590.07 L521.00,591.28 L521.25,591.13 L521.50,590.74 L521.75,590.59 L522.00,590.00 L522.25,589.85 L522.50,589.77 L522.75,589.62 L523.00,589.71 L523.25,589.56 L523.50,589.54 L523.75,589.39 L524.00,588.19 L524.25,588.04 L524.50,588.90 L524.75,588.75 L525.00,588.32 L525.25,588.17 L525.50,587.35 L525.75,587.20 L526.00,587.06 L526.25,586.91 L526.50,586.55 L526.75,586.40 L527.00,587.04 L527.25,587.16 L527.50,588.04 L527.75,588.25 L528.00,588.47 L528.25,589.02 L528.50,588.44 L528.75,588.98 L529.00,589.44 L529.25,589.99 L529.50,590.82 L529.75,591.36 L530.00,591.70 L530.25,591.54 L530.50,591.35 L530.75,591.20 L531.00,592.10 L531.25,591.95 L531.50,591.05 L531.75,590.89 L532.00,591.19 L532.25,591.04 L532.50,590.43 L532.75,590.28 L533.00,591.33 L533.25,591.18 L533.50,590.32 L533.75,590.16 L534.00,589.20 L534.25,589.04 L534.50,590.04 L534.75,589.88 L535.00,588.85 L535.25,588.70 L535.50,588.84 L535.75,588.69 L536.00,588.24 L536.25,588.08 L536.50,588.29 L536.75,588.14 L537.00,587.66 L537.25,587.50 L537.50,587.37 L537.75,587.22 L538.00,586.77 L538.25,586.62 L538.50,587.91 L538.75,587.76 L539.00,586.47 L539.25,586.60 L539.50,586.86 L539.75,587.23 L540.00,588.01 L540.25,588.55 L540.50,588.57 L540.75,589.11 L541.00,589.86 L541.25,590.40 L541.50,591.26 L541.75,591.81 L542.00,592.39 L542.25,592.25 L542.50,592.02 L542.75,591.87 L543.00,591.42 L543.25,591.28 L543.50,591.69 L543.75,591.54 L544.00,591.52 L544.25,591.38 L544.50,590.37 L544.75,590.22 L545.00,590.03 L545.25,589.89 L545.50,590.44 L545.75,590.29 L546.00,589.76 L546.25,589.61 L546.50,590.22 L546.75,590.08 L547.00,588.46 L547.25,588.31 L547.50,589.12 L547.75,588.98 L548.00,588.49 L548.25,588.34 L548.50,587.95 L548.75,587.80 L549.00,588.84 L549.25,588.69 L549.50,587.38 L549.75,587.23 L550.00,588.12 L550.25,587.97 L550.50,587.94 L550.75,587.80 L551.00,587.86 L551.25,587.77 L551.50,586.36 L551.75,586.48 L552.00,586.68 L552.25,587.22 L552.50,587.64 L552.75,588.18 L553.00,589.15 L553.25,589.69 L553.50,591.29 L553.75,591.84 L554.00,591.91 L554.25,592.45 L554.50,591.56 L554.75,591.42 L555.00,591.18 L555.25,591.04 L555.50,592.05 L555.75,591.91 L556.00,591.53 L556.25,591.39 L556.50,590.13 L556.75,589.98 L557.00,590.89 L557.25,590.74 L557.50,589.88 L557.75,589.74 L558.00,589.78 L558.25,589.63 L558.50,589.14 L558.75,589.00 L559.00,590.46 L559.25,590.31 L559.50,589.20 L559.75,589.06 L560.00,589.20 L560.25,589.06 L560.50,588.17 L560.75,588.02 L561.00,588.18 L561.25,588.04 L561.50,588.38 L561.75,588.24 L562.00,588.27 L562.25,588.13 L562.50,588.27 L562.75,588.13 L563.00,586.79 L563.25,586.65 L563.50,586.49 L563.75,586.51 L564.00,586.93 L564.25,587.05 L564.50,587.17 L564.75,587.72 L565.00,589.18 L565.25,589.72 L565.50,589.46 L565.75,590.00 L566.00,590.55 L566.25,591.09 L566.50,591.87 L566.75,592.28 L567.00,592.24 L567.25,592.09 L567.50,591.56 L567.75,591.42 L568.00,590.65 L568.25,590.50 L568.50,591.66 L568.75,591.51 L569.00,590.25 L569.25,590.10 L569.50,591.28 L569.75,591.14 L570.00,589.90 L570.25,589.75 L570.50,589.62 L570.75,589.47 L571.00,589.83 L571.25,589.68 L571.50,590.20 L571.75,590.05 L572.00,588.96 L572.25,588.81 L572.50,588.84 L572.75,588.69 L573.00,588.43 L573.25,588.28 L573.50,587.59 L573.75,587.44 L574.00,587.61 L574.25,587.46 L574.50,588.45 L574.75,588.30 L575.00,588.19 L575.25,588.28 L575.50,587.15 L575.75,587.24 L576.00,588.80 L576.25,589.22 L576.50,588.02 L576.75,588.45 L577.00,590.14 L577.25,590.56 L577.50,589.74 L577.75,590.17 L578.00,591.32 L578.25,591.74 L578.50,592.14 L578.75,592.00 L579.00,591.89 L579.25,591.75 L579.50,592.51 L579.75,592.36 L580.00,591.16 L580.25,591.01 L580.50,590.27 L580.75,590.12 L581.00,590.14 L581.25,589.99 L581.50,591.00 L581.75,590.85 L582.00,589.59 L582.25,589.44 L582.50,589.17 L582.75,589.03 L583.00,589.13 L583.25,588.98 L583.50,590.24 L583.75,590.10 L584.00,588.99 L584.25,588.85 L584.50,588.17 L584.75,588.02 L585.00,588.79 L585.25,588.65 L585.50,588.00 L585.75,587.85 L586.00,588.02 L586.25,587.87 L586.50,588.53 L586.75,588.38 L587.00,587.80 L587.25,587.89 L587.50,587.69 L587.75,587.83 L588.00,589.03 L588.25,589.39 L588.50,588.86 L588.75,589.22 L589.00,589.48 L589.25,589.84 L589.50,590.92 L589.75,591.28 L590.00,591.83 L590.25,592.19 L590.50,592.12 L590.75,592.48 L591.00,592.00 L591.25,591.86 L591.50,591.79 L591.75,591.66 L592.00,590.81 L592.25,590.67 L592.50,590.95 L592.75,590.81 L593.00,591.64 L593.25,591.50 L593.50,590.85 L593.75,590.71 L594.00,591.23 L594.25,591.10 L594.50,590.62 L594.75,590.49 L595.00,590.16 L595.25,590.02 L595.50,590.32 L595.75,590.18 L596.00,589.49 L596.25,589.35 L596.50,589.52 L596.75,589.38 L597.00,588.92 L597.25,588.79 L597.50,588.40 L597.75,588.26 L598.00,588.87 L598.25,588.73 L598.50,587.34 L598.75,587.21 L599.00,588.70 L599.25,588.56 L599.50,588.39 L599.75,588.26 L600.00,588.07 L600.25,588.16 L600.50,587.60 L600.75,587.86 L601.00,588.18 L601.25,588.54 L601.50,588.82 L601.75,589.18 L602.00,589.64 L602.25,590.00 L602.50,589.93 L602.75,590.29 L603.00,591.69 L603.25,592.05 L603.50,592.55 L603.75,592.91 L604.00,592.18 L604.25,592.02 L604.50,592.50 L604.75,592.35 L605.00,591.18 L605.25,591.03 L605.50,591.89 L605.75,591.74 L606.00,591.79 L606.25,591.63 L606.50,590.93 L606.75,590.78 L607.00,591.15 L607.25,590.99 L607.50,590.41 L607.75,590.26 L608.00,590.04 L608.25,589.89 L608.50,589.34 L608.75,589.18 L609.00,588.28 L609.25,588.13 L609.50,588.09 L609.75,587.93 L610.00,589.04 L610.25,588.89 L610.50,587.57 L610.75,587.42 L611.00,588.17 L611.25,588.01 L611.50,586.91 L611.75,586.81 L612.00,587.97 L612.25,588.07 L612.50,588.52 L612.75,588.88 L613.00,588.63 L613.25,588.99 L613.50,588.31 L613.75,588.67 L614.00,590.28 L614.25,590.64 L614.50,590.53 L614.75,590.89 L615.00,591.95 L615.25,592.31 L615.50,591.38 L615.75,591.65 L616.00,591.77 L616.25,591.66 L616.50,592.70 L616.75,592.59 L617.00,592.33 L617.25,592.22 L617.50,592.24 L617.75,592.13 L618.00,591.32 L618.25,591.21 L618.50,591.38 L618.75,591.27 L619.00,591.62 L619.25,591.51 L619.50,590.91 L619.75,590.80 L620.00,589.66 L620.25,589.41 L620.50,589.28 L620.75,589.03 L621.00,588.50 L621.25,588.25 L621.50,588.20 L621.75,587.95 L622.00,587.55 L622.25,587.30 L622.50,587.69 L622.75,587.44 L623.00,587.61 L623.25,587.36 L623.50,587.55 L623.75,587.30 L624.00,586.24 L624.25,586.70 L624.50,586.72 L624.75,587.19 L625.00,589.00 L625.25,589.46 L625.50,589.94 L625.75,590.41 L626.00,590.98 L626.25,591.45 L626.50,590.20 L626.75,590.66 L627.00,591.88 L627.25,591.67 L627.50,591.52 L627.75,591.31 L628.00,590.93 L628.25,590.71 L628.50,589.88 L628.75,589.67 L629.00,590.77 L629.25,590.56 L629.50,589.66 L629.75,589.44 L630.00,588.33 L630.25,588.12 L630.50,588.46 L630.75,588.25 L631.00,588.91 L631.25,589.16 L631.50,588.47 L631.75,588.72 L632.00,590.00 L632.25,590.25 L632.50,589.48 L632.75,589.73 L633.00,590.38 L633.25,590.63 L633.50,590.63 L633.75,590.88 L634.00,590.63 L634.25,590.38 L634.50,591.49 L634.75,591.24 L635.00,590.01 L635.25,589.76 L635.50,590.25 L635.75,590.00 L636.00,590.00 L636.25,589.75 L636.50,588.41 L636.75,588.16 L637.00,587.61 L637.25,587.87 L637.50,589.07 L637.75,589.32 L638.00,589.06 L638.25,589.32 L638.50,590.73 L638.75,590.99 L639.00,589.97 L639.25,590.23 L639.50,591.49 L639.75,591.75 L640.00,590.26 L640.25,589.90 L640.50,589.99 L640.75,589.63 L641.00,589.14 L641.25,588.78 L641.50,589.61 L641.75,589.25 L642.00,588.44 L642.25,588.08 L642.50,587.83 L642.75,587.47 L643.00,586.08 L643.25,585.72 L643.50,586.28 L643.75,586.57 L644.00,587.91 L644.25,588.19 L644.50,587.98 L644.75,588.26 L645.00,588.81 L645.25,589.09 L645.50,588.92 L645.75,589.20 L646.00,588.96 L646.25,589.24 L646.50,590.80 L646.75,591.09 L647.00,590.02 L647.25,590.09 L647.50,589.98 L647.75,590.04 L648.00,590.97 L648.25,591.03 L648.50,590.08 L648.75,590.14 L649.00,591.54 L649.25,591.74 L649.50,591.84 L649.75,592.04 L650.00,591.65 L650.25,591.85 L650.50,592.29 L650.75,592.49 L651.00,592.64 L651.25,592.84 L651.50,592.29 L651.75,592.49 L652.00,592.32 L652.25,592.04 L652.50,592.24 L652.75,591.96 L653.00,591.06 L653.25,590.78 L653.50,590.82 L653.75,590.53 L654.00,590.58 L654.25,590.29 L654.50,590.48 L654.75,590.20 L655.00,589.72 L655.25,589.44 L655.50,588.54 L655.75,588.32 L656.00,589.40 L656.25,589.44 L656.50,589.53 L656.75,589.56 L657.00,589.36 L657.25,589.39 L657.50,589.46 L657.75,589.49 L658.00,588.74 L658.25,588.77 L658.50,589.86 L658.75,589.89 L659.00,589.47 L659.25,589.50 L659.50,588.79 L659.75,588.84 L660.00,589.88 L660.25,590.01 L660.50,590.03 L660.75,590.15 L661.00,590.17 L661.25,590.30 L661.50,590.25 L661.75,590.37 L662.00,591.03 L662.25,591.16 L662.50,591.21 L662.75,591.34 L663.00,591.21 L663.25,591.34 L663.50,590.52 L663.75,590.62 L664.00,590.92 L664.25,590.92 L664.50,592.26 L664.75,592.26 L665.00,591.22 L665.25,591.22 L665.50,591.64 L665.75,591.64 L666.00,590.74 L666.25,590.74 L666.50,591.53 L666.75,591.53 L667.00,591.60 L667.25,591.60 L667.50,591.87 L667.75,591.87 L668.00,592.24 L668.25,592.24 L668.50,591.32 L668.75,591.32 L669.00,591.06 L669.25,591.06 L669.50,590.79 L669.75,590.79 L670.00,591.10 L670.25,591.10 L670.50,591.30 L670.75,591.30 L671.00,592.24 L671.00,599.82 L670.75,600.91 L670.50,600.91 L670.25,600.69 L670.00,600.69 L669.75,600.12 L669.50,600.12 L669.25,599.92 L669.00,599.92 L668.75,600.00 L668.50,600.00 L668.25,600.97 L668.00,600.97 L667.75,600.44 L667.50,600.44 L667.25,600.02 L667.00,600.02 L666.75,600.06 L666.50,600.06 L666.25,600.71 L666.00,600.71 L665.75,599.69 L665.50,599.69 L665.25,600.34 L665.00,600.34 L664.75,599.73 L664.50,599.73 L664.25,599.76 L664.00,599.76 L663.75,600.55 L663.50,600.55 L663.25,599.88 L663.00,599.88 L662.75,599.99 L662.50,599.99 L662.25,599.74 L662.00,599.74 L661.75,599.64 L661.50,599.64 L661.25,600.70 L661.00,600.70 L660.75,600.39 L660.50,600.39 L660.25,600.48 L660.00,600.48 L659.75,600.19 L659.50,600.19 L659.25,600.73 L659.00,600.73 L658.75,599.78 L658.50,599.78 L658.25,600.54 L658.00,600.54 L657.75,600.63 L657.50,600.63 L657.25,600.96 L657.00,600.96 L656.75,600.37 L656.50,600.37 L656.25,600.07 L656.00,600.07 L655.75,600.14 L655.50,600.14 L655.25,600.68 L655.00,600.68 L654.75,600.05 L654.50,600.05 L654.25,600.38 L654.00,600.38 L653.75,600.53 L653.50,600.53 L653.25,600.56 L653.00,600.56 L652.75,600.94 L652.50,600.94 L652.25,600.41 L652.00,600.41 L651.75,599.73 L651.50,600.23 L651.25,601.41 L651.00,601.91 L650.75,601.90 L650.50,601.90 L650.25,602.39 L650.00,602.39 L649.75,602.17 L649.50,602.17 L649.25,602.90 L649.00,602.90 L648.75,601.89 L648.50,601.89 L648.25,601.77 L648.00,601.77 L647.75,602.50 L647.50,602.50 L647.25,601.85 L647.00,601.85 L646.75,602.97 L646.50,602.97 L646.25,602.62 L646.00,602.62 L645.75,602.47 L645.50,602.13 L645.25,601.70 L645.00,601.37 L644.75,601.14 L644.50,600.81 L644.25,600.49 L644.00,600.15 L643.75,600.09 L643.50,599.76 L643.25,599.17 L643.00,598.84 L642.75,598.59 L642.50,598.59 L642.25,598.48 L642.00,598.48 L641.75,598.03 L641.50,598.03 L641.25,597.72 L641.00,597.72 L640.75,597.69 L640.50,597.69 L640.25,598.04 L640.00,598.04 L639.75,598.78 L639.50,598.78 L639.25,598.40 L639.00,598.40 L638.75,598.04 L638.50,598.04 L638.25,597.71 L638.00,597.71 L637.75,598.41 L637.50,598.41 L637.25,598.07 L637.00,598.07 L636.75,598.57 L636.50,598.70 L636.25,599.08 L636.00,599.21 L635.75,598.21 L635.50,598.34 L635.25,598.76 L635.00,598.89 L634.75,599.80 L634.50,599.80 L634.25,599.26 L634.00,599.26 L633.75,599.55 L633.50,599.55 L633.25,599.75 L633.00,599.75 L632.75,598.76 L632.50,598.76 L632.25,598.66 L632.00,598.66 L631.75,599.83 L631.50,599.83 L631.25,598.96 L631.00,598.96 L630.75,598.72 L630.50,598.72 L630.25,599.53 L630.00,599.53 L629.75,599.25 L629.50,599.25 L629.25,598.87 L629.00,598.87 L628.75,599.38 L628.50,599.38 L628.25,598.96 L628.00,598.96 L627.75,598.67 L627.50,598.67 L627.25,599.54 L627.00,599.54 L626.75,599.92 L626.50,599.92 L626.25,599.00 L626.00,599.00 L625.75,599.00 L625.50,599.00 L625.25,599.54 L625.00,599.54 L624.75,600.19 L624.50,600.52 L624.25,600.38 L624.00,600.71 L623.75,600.76 L623.50,601.09 L623.25,601.50 L623.00,601.09 L622.75,600.42 L622.50,600.01 L622.25,599.84 L622.00,599.42 L621.75,598.37 L621.50,598.37 L621.25,599.41 L621.00,599.41 L620.75,599.09 L620.50,599.09 L620.25,599.40 L620.00,599.40 L619.75,598.80 L619.50,598.80 L619.25,599.26 L619.00,599.26 L618.75,599.18 L618.50,599.18 L618.25,598.45 L618.00,598.45 L617.75,598.76 L617.50,598.76 L617.25,599.25 L617.00,599.25 L616.75,598.91 L616.50,598.99 L616.25,599.44 L616.00,599.52 L615.75,599.11 L615.50,599.19 L615.25,599.70 L615.00,599.78 L614.75,599.00 L614.50,599.08 L614.25,600.25 L614.00,600.33 L613.75,599.29 L613.50,599.37 L613.25,600.02 L613.00,600.10 L612.75,600.33 L612.50,600.41 L612.25,600.18 L612.00,600.26 L611.75,600.51 L611.50,600.59 L611.25,601.13 L611.00,601.21 L610.75,600.98 L610.50,601.06 L610.25,600.76 L610.00,600.84 L609.75,601.26 L609.50,601.34 L609.25,601.57 L609.00,601.65 L608.75,601.07 L608.50,601.15 L608.25,601.46 L608.00,601.54 L607.75,601.97 L607.50,601.94 L607.25,601.69 L607.00,601.63 L606.75,600.97 L606.50,600.91 L606.25,601.03 L606.00,600.98 L605.75,602.08 L605.50,602.03 L605.25,601.17 L605.00,601.11 L604.75,600.56 L604.50,600.51 L604.25,601.59 L604.00,601.54 L603.75,600.30 L603.50,600.25 L603.25,600.91 L603.00,600.86 L602.75,600.46 L602.50,600.41 L602.25,600.39 L602.00,600.34 L601.75,600.66 L601.50,600.61 L601.25,600.06 L601.00,600.01 L600.75,599.96 L600.50,599.91 L600.25,599.78 L600.00,599.73 L599.75,600.21 L599.50,600.24 L599.25,600.05 L599.00,600.08 L598.75,600.99 L598.50,601.03 L598.25,600.23 L598.00,600.26 L597.75,600.22 L597.50,600.25 L597.25,600.15 L597.00,600.18 L596.75,600.14 L596.50,600.17 L596.25,600.38 L596.00,600.41 L595.75,600.12 L595.50,600.15 L595.25,601.44 L595.00,601.48 L594.75,600.93 L594.50,600.97 L594.25,601.00 L594.00,601.03 L593.75,600.57 L593.50,600.60 L593.25,601.00 L593.00,601.03 L592.75,601.10 L592.50,601.13 L592.25,600.59 L592.00,600.62 L591.75,601.76 L591.50,601.79 L591.25,601.61 L591.00,601.64 L590.75,602.01 L590.50,602.04 L590.25,602.01 L590.00,602.04 L589.75,601.48 L589.50,601.51 L589.25,601.08 L589.00,601.11 L588.75,600.95 L588.50,600.98 L588.25,601.81 L588.00,601.84 L587.75,602.39 L587.50,602.42 L587.25,602.31 L587.00,602.34 L586.75,601.31 L586.50,601.31 L586.25,601.99 L586.00,601.99 L585.75,601.52 L585.50,601.52 L585.25,601.16 L585.00,601.16 L584.75,601.13 L584.50,601.13 L584.25,601.30 L584.00,601.30 L583.75,601.16 L583.50,601.16 L583.25,601.66 L583.00,601.66 L582.75,601.84 L582.50,601.84 L582.25,601.53 L582.00,601.53 L581.75,601.37 L581.50,601.37 L581.25,601.15 L581.00,601.15 L580.75,601.19 L580.50,601.15 L580.25,601.32 L580.00,601.27 L579.75,601.40 L579.50,601.36 L579.25,601.68 L579.00,601.63 L578.75,602.06 L578.50,602.02 L578.25,600.94 L578.00,600.89 L577.75,601.70 L577.50,601.66 L577.25,601.35 L577.00,601.30 L576.75,601.64 L576.50,601.59 L576.25,600.66 L576.00,600.62 L575.75,600.87 L575.50,600.83 L575.25,601.26 L575.00,601.22 L574.75,600.64 L574.50,600.59 L574.25,600.95 L574.00,600.91 L573.75,600.30 L573.50,600.26 L573.25,600.22 L573.00,600.17 L572.75,600.04 L572.50,599.99 L572.25,600.03 L572.00,599.99 L571.75,599.75 L571.50,599.76 L571.25,599.90 L571.00,599.92 L570.75,600.33 L570.50,600.35 L570.25,600.52 L570.00,600.53 L569.75,599.76 L569.50,599.78 L569.25,599.89 L569.00,599.91 L568.75,600.55 L568.50,600.56 L568.25,601.09 L568.00,601.10 L567.75,600.88 L567.50,600.89 L567.25,600.87 L567.00,600.89 L566.75,600.46 L566.50,600.48 L566.25,600.09 L566.00,600.11 L565.75,601.16 L565.50,601.18 L565.25,600.01 L565.00,600.03 L564.75,600.41 L564.50,600.42 L564.25,600.97 L564.00,600.99 L563.75,600.27 L563.50,600.29 L563.25,600.24 L563.00,600.26 L562.75,601.47 L562.50,601.48 L562.25,600.98 L562.00,601.00 L561.75,600.38 L561.50,600.39 L561.25,600.24 L561.00,600.25 L560.75,600.42 L560.50,600.44 L560.25,600.86 L560.00,600.88 L559.75,600.86 L559.50,600.85 L559.25,601.63 L559.00,601.62 L558.75,601.06 L558.50,601.04 L558.25,601.15 L558.00,601.13 L557.75,600.43 L557.50,600.41 L557.25,600.57 L557.00,600.55 L556.75,601.12 L556.50,601.10 L556.25,600.95 L556.00,600.93 L555.75,600.77 L555.50,600.76 L555.25,600.99 L555.00,600.97 L554.75,601.05 L554.50,601.04 L554.25,601.11 L554.00,601.10 L553.75,601.22 L553.50,601.21 L553.25,601.06 L553.00,601.04 L552.75,599.81 L552.50,599.79 L552.25,600.05 L552.00,600.03 L551.75,600.82 L551.50,600.80 L551.25,600.18 L551.00,600.16 L550.75,599.89 L550.50,599.87 L550.25,600.21 L550.00,600.19 L549.75,600.66 L549.50,600.64 L549.25,600.43 L549.00,600.41 L548.75,599.82 L548.50,599.80 L548.25,600.39 L548.00,600.37 L547.75,600.81 L547.50,600.79 L547.25,600.32 L547.00,600.30 L546.75,600.73 L546.50,600.72 L546.25,600.32 L546.00,600.30 L545.75,600.47 L545.50,600.45 L545.25,600.42 L545.00,600.40 L544.75,600.02 L544.50,600.00 L544.25,600.24 L544.00,600.23 L543.75,599.71 L543.50,599.69 L543.25,599.94 L543.00,599.92 L542.75,600.39 L542.50,600.37 L542.25,600.35 L542.00,600.33 L541.75,599.80 L541.50,599.79 L541.25,599.32 L541.00,599.31 L540.75,599.50 L540.50,599.48 L540.25,600.27 L540.00,600.26 L539.75,599.45 L539.50,599.47 L539.25,599.75 L539.00,599.76 L538.75,599.79 L538.50,599.80 L538.25,600.06 L538.00,600.08 L537.75,600.19 L537.50,600.21 L537.25,599.48 L537.00,599.49 L536.75,600.15 L536.50,600.17 L536.25,599.98 L536.00,600.00 L535.75,599.78 L535.50,599.80 L535.25,600.19 L535.00,600.21 L534.75,599.48 L534.50,599.49 L534.25,600.55 L534.00,600.57 L533.75,599.35 L533.50,599.36 L533.25,600.35 L533.00,600.37 L532.75,599.50 L532.50,599.51 L532.25,599.61 L532.00,599.62 L531.75,600.16 L531.50,600.17 L531.25,600.15 L531.00,600.17 L530.75,600.54 L530.50,600.56 L530.25,600.63 L530.00,600.65 L529.75,600.66 L529.50,600.67 L529.25,600.42 L529.00,600.44 L528.75,599.92 L528.50,599.94 L528.25,600.56 L528.00,600.57 L527.75,599.84 L527.50,599.86 L527.25,600.90 L527.00,600.92 L526.75,600.31 L526.50,600.32 L526.25,600.04 L526.00,600.05 L525.75,600.89 L525.50,600.90 L525.25,600.01 L525.00,600.03 L524.75,600.09 L524.50,600.10 L524.25,600.77 L524.00,600.79 L523.75,600.66 L523.50,600.68 L523.25,601.03 L523.00,601.04 L522.75,600.93 L522.50,600.94 L522.25,600.86 L522.00,600.87 L521.75,600.64 L521.50,600.66 L521.25,600.84 L521.00,600.85 L520.75,601.05 L520.50,601.06 L520.25,600.83 L520.00,600.84 L519.75,600.62 L519.50,600.59 L519.25,601.22 L519.00,601.19 L518.75,600.91 L518.50,600.88 L518.25,600.20 L518.00,600.17 L517.75,600.01 L517.50,599.98 L517.25,600.69 L517.00,600.67 L516.75,600.58 L516.50,600.56 L516.25,599.86 L516.00,599.83 L515.75,600.79 L515.50,600.76 L515.25,599.97 L515.00,599.94 L514.75,600.24 L514.50,600.21 L514.25,600.60 L514.00,600.57 L513.75,600.49 L513.50,600.47 L513.25,600.61 L513.00,600.58 L512.75,600.55 L512.50,600.52 L512.25,599.86 L512.00,599.83 L511.75,599.99 L511.50,599.96 L511.25,599.78 L511.00,599.76 L510.75,599.47 L510.50,599.44 L510.25,599.71 L510.00,599.69 L509.75,599.02 L509.50,598.99 L509.25,599.97 L509.00,599.94 L508.75,599.42 L508.50,599.40 L508.25,599.44 L508.00,599.42 L507.75,599.79 L507.50,599.76 L507.25,599.61 L507.00,599.58 L506.75,598.83 L506.50,598.80 L506.25,599.68 L506.00,599.66 L505.75,599.78 L505.50,599.78 L505.25,599.90 L505.00,599.90 L504.75,598.64 L504.50,598.63 L504.25,598.65 L504.00,598.65 L503.75,599.23 L503.50,599.22 L503.25,598.93 L503.00,598.93 L502.75,599.49 L502.50,599.49 L502.25,599.45 L502.00,599.45 L501.75,599.28 L501.50,599.27 L501.25,599.49 L501.00,599.48 L500.75,599.80 L500.50,599.79 L500.25,598.78 L500.00,598.77 L499.75,599.76 L499.50,599.75 L499.25,598.69 L499.00,598.68 L498.75,599.13 L498.50,599.12 L498.25,598.60 L498.00,598.59 L497.75,598.61 L497.50,598.61 L497.25,599.31 L497.00,599.30 L496.75,599.53 L496.50,599.53 L496.25,598.45 L496.00,598.44 L495.75,598.50 L495.50,598.49 L495.25,599.37 L495.00,599.36 L494.75,599.43 L494.50,599.43 L494.25,599.23 L494.00,599.23 L493.75,598.92 L493.50,598.91 L493.25,599.39 L493.00,599.39 L492.75,598.70 L492.50,598.70 L492.25,599.02 L492.00,599.02 L491.75,599.09 L491.50,599.08 L491.25,598.62 L491.00,598.61 L490.75,599.60 L490.50,599.60 L490.25,599.14 L490.00,599.13 L489.75,599.48 L489.50,599.48 L489.25,599.13 L489.00,599.13 L488.75,598.32 L488.50,598.32 L488.25,599.34 L488.00,599.34 L487.75,599.43 L487.50,599.42 L487.25,598.68 L487.00,598.67 L486.75,599.24 L486.50,599.23 L486.25,599.07 L486.00,599.06 L485.75,599.42 L485.50,599.42 L485.25,598.76 L485.00,598.75 L484.75,598.84 L484.50,599.44 L484.25,599.49 L484.00,600.24 L483.75,601.55 L483.50,601.70 L483.25,602.27 L483.00,602.27 L482.75,601.78 L482.50,601.78 L482.25,601.38 L482.00,601.38 L481.75,602.39 L481.50,602.39 L481.25,601.86 L481.00,601.86 L480.75,601.37 L480.50,601.37 L480.25,602.03 L480.00,602.03 L479.75,601.92 L479.50,601.92 L479.25,601.47 L479.00,601.47 L478.75,602.04 L478.50,602.04 L478.25,601.72 L478.00,601.72 L477.75,602.30 L477.50,602.30 L477.25,601.87 L477.00,601.87 L476.75,602.39 L476.50,602.70 L476.25,602.50 L476.00,602.89 L475.75,603.70 L475.50,604.09 L475.25,603.90 L475.00,604.30 L474.75,604.83 L474.50,603.70 L474.25,602.03 L474.00,600.90 L473.75,600.51 L473.50,600.51 L473.25,600.26 L473.00,600.26 L472.75,600.80 L472.50,600.80 L472.25,600.13 L472.00,600.13 L471.75,600.17 L471.50,600.17 L471.25,600.94 L471.00,600.94 L470.75,600.21 L470.50,600.21 L470.25,600.17 L470.00,600.17 L469.75,600.96 L469.50,600.96 L469.25,600.71 L469.00,600.71 L468.75,599.61 L468.50,599.61 L468.25,600.78 L468.00,600.78 L467.75,600.44 L467.50,600.44 L467.25,600.29 L467.00,600.29 L466.75,600.24 L466.50,600.24 L466.25,600.98 L466.00,600.98 L465.75,600.87 L465.50,600.87 L465.25,600.06 L465.00,600.06 L464.75,599.89 L464.50,599.89 L464.25,600.14 L464.00,600.14 L463.75,600.95 L463.50,600.95 L463.25,600.03 L463.00,600.03 L462.75,600.21 L462.50,600.21 L462.25,600.84 L462.00,600.84 L461.75,599.79 L461.50,599.79 L461.25,600.80 L461.00,600.80 L460.75,600.69 L460.50,600.69 L460.25,599.72 L460.00,599.72 L459.75,600.60 L459.50,600.60 L459.25,599.69 L459.00,599.69 L458.75,600.92 L458.50,600.92 L458.25,600.61 L458.00,600.61 L457.75,599.98 L457.50,599.98 L457.25,600.83 L457.00,600.83 L456.75,600.12 L456.50,600.12 L456.25,600.36 L456.00,600.36 L455.75,599.81 L455.50,599.81 L455.25,600.66 L455.00,600.66 L454.75,599.67 L454.50,599.67 L454.25,601.00 L454.00,601.00 L453.75,599.82 L453.50,599.82 L453.25,600.74 L453.00,600.74 L452.75,599.71 L452.50,599.71 L452.25,600.55 L452.00,600.55 L451.75,600.92 L451.50,600.92 L451.25,600.16 L451.00,600.16 L450.75,600.88 L450.50,600.88 L450.25,600.38 L450.00,600.38 L449.75,601.54 L449.50,602.17 L449.25,602.80 L449.00,603.42 L448.75,602.56 L448.50,602.06 L448.25,601.01 L448.00,600.51 L447.75,601.33 L447.50,601.33 L447.25,600.15 L447.00,600.15 L446.75,600.38 L446.50,600.38 L446.25,600.93 L446.00,600.93 L445.75,601.31 L445.50,601.31 L445.25,600.97 L445.00,600.97 L444.75,600.50 L444.50,600.50 L444.25,600.70 L444.00,600.70 L443.75,600.59 L443.50,600.59 L443.25,600.83 L443.00,600.83 L442.75,600.99 L442.50,600.99 L442.25,601.39 L442.00,601.39 L441.75,601.06 L441.50,601.06 L441.25,600.99 L441.00,600.99 L440.75,600.57 L440.50,600.57 L440.25,600.89 L440.00,600.89 L439.75,601.41 L439.50,601.41 L439.25,600.63 L439.00,600.63 L438.75,601.14 L438.50,601.14 L438.25,600.88 L438.00,600.88 L437.75,601.04 L437.50,601.04 L437.25,601.01 L437.00,601.01 L436.75,601.08 L436.50,601.08 L436.25,600.47 L436.00,600.47 L435.75,601.46 L435.50,601.46 L435.25,600.88 L435.00,600.88 L434.75,600.47 L434.50,600.47 L434.25,601.29 L434.00,601.29 L433.75,601.42 L433.50,601.42 L433.25,600.84 L433.00,600.84 L432.75,600.89 L432.50,600.89 L432.25,600.87 L432.00,600.87 L431.75,601.02 L431.50,601.02 L431.25,600.48 L431.00,600.48 L430.75,600.23 L430.50,600.23 L430.25,600.50 L430.00,600.50 L429.75,600.39 L429.50,600.39 L429.25,600.71 L429.00,600.71 L428.75,600.81 L428.50,600.81 L428.25,601.04 L428.00,601.04 L427.75,601.15 L427.50,601.25 L427.25,601.22 L427.00,601.45 L426.75,602.25 L426.50,602.49 L426.25,601.37 L426.00,601.42 L425.75,602.45 L425.50,602.22 L425.25,600.83 L425.00,600.59 L424.75,601.07 L424.50,600.93 L424.25,600.38 L424.00,600.38 L423.75,601.29 L423.50,601.29 L423.25,601.06 L423.00,601.06 L422.75,600.63 L422.50,600.63 L422.25,600.16 L422.00,600.16 L421.75,600.84 L421.50,600.84 L421.25,601.35 L421.00,601.35 L420.75,600.41 L420.50,600.41 L420.25,600.88 L420.00,600.88 L419.75,601.18 L419.50,601.18 L419.25,600.21 L419.00,600.21 L418.75,601.40 L418.50,601.40 L418.25,601.38 L418.00,601.38 L417.75,601.04 L417.50,601.04 L417.25,600.34 L417.00,600.52 L416.75,601.03 L416.50,601.26 L416.25,601.24 L416.00,601.47 L415.75,602.75 L415.50,602.59 L415.25,601.75 L415.00,601.50 L414.75,601.84 L414.50,601.59 L414.25,601.46 L414.00,601.46 L413.75,600.15 L413.50,600.15 L413.25,601.27 L413.00,601.27 L412.75,601.05 L412.50,601.05 L412.25,601.29 L412.00,601.29 L411.75,600.86 L411.50,600.86 L411.25,600.40 L411.00,600.40 L410.75,600.89 L410.50,600.89 L410.25,601.41 L410.00,601.41 L409.75,600.67 L409.50,600.67 L409.25,601.24 L409.00,601.24 L408.75,601.36 L408.50,601.36 L408.25,601.46 L408.00,601.46 L407.75,601.24 L407.50,601.24 L407.25,600.30 L407.00,600.30 L406.75,601.12 L406.50,601.12 L406.25,600.80 L406.00,600.80 L405.75,601.10 L405.50,601.10 L405.25,601.10 L405.00,601.10 L404.75,600.60 L404.50,600.60 L404.25,600.89 L404.00,600.89 L403.75,600.20 L403.50,600.20 L403.25,600.97 L403.00,600.97 L402.75,601.12 L402.50,601.12 L402.25,601.07 L402.00,601.07 L401.75,600.59 L401.50,600.59 L401.25,601.11 L401.00,601.11 L400.75,600.15 L400.50,600.15 L400.25,600.88 L400.00,600.88 L399.75,600.64 L399.50,600.64 L399.25,600.49 L399.00,600.49 L398.75,600.88 L398.50,600.88 L398.25,600.83 L398.00,600.83 L397.75,601.47 L397.50,601.47 L397.25,600.41 L397.00,600.41 L396.75,601.29 L396.50,601.29 L396.25,601.39 L396.00,601.39 L395.75,601.12 L395.50,601.12 L395.25,601.05 L395.00,601.05 L394.75,601.19 L394.50,601.19 L394.25,600.51 L394.00,600.51 L393.75,600.47 L393.50,600.47 L393.25,601.05 L393.00,601.05 L392.75,600.37 L392.50,600.37 L392.25,600.75 L392.00,600.75 L391.75,600.88 L391.50,600.88 L391.25,600.76 L391.00,600.76 L390.75,600.72 L390.50,600.72 L390.25,600.22 L390.00,600.22 L389.75,600.38 L389.50,600.38 L389.25,601.09 L389.00,601.09 L388.75,600.35 L388.50,600.35 L388.25,601.46 L388.00,601.46 L387.75,600.95 L387.50,600.95 L387.25,601.68 L387.00,601.90 L386.75,600.90 L386.50,601.12 L386.25,602.07 L386.00,602.29 L385.75,601.82 L385.50,601.57 L385.25,601.24 L385.00,600.99 L384.75,601.46 L384.50,601.21 L384.25,600.71 L384.00,600.71 L383.75,601.07 L383.50,601.07 L383.25,600.47 L383.00,600.47 L382.75,601.01 L382.50,601.01 L382.25,600.64 L382.00,600.64 L381.75,601.37 L381.50,601.37 L381.25,600.21 L381.00,600.21 L380.75,601.48 L380.50,601.48 L380.25,601.04 L380.00,601.04 L379.75,600.20 L379.50,600.20 L379.25,600.41 L379.00,600.41 L378.75,600.99 L378.50,600.99 L378.25,600.78 L378.00,600.78 L377.75,601.13 L377.50,601.13 L377.25,600.82 L377.00,600.82 L376.75,600.81 L376.50,600.81 L376.25,600.61 L376.00,600.61 L375.75,601.11 L375.50,601.11 L375.25,600.12 L375.00,600.12 L374.75,601.14 L374.50,601.14 L374.25,601.31 L374.00,601.31 L373.75,600.26 L373.50,600.26 L373.25,601.38 L373.00,601.38 L372.75,600.74 L372.50,600.74 L372.25,600.95 L372.00,600.95 L371.75,600.74 L371.50,600.74 L371.25,600.96 L371.00,600.96 L370.75,600.83 L370.50,600.83 L370.25,601.03 L370.00,601.03 L369.75,601.01 L369.50,601.01 L369.25,600.56 L369.00,600.56 L368.75,601.22 L368.50,601.22 L368.25,600.83 L368.00,600.83 L367.75,600.67 L367.50,600.67 L367.25,600.10 L367.00,600.10 L366.75,600.73 L366.50,600.78 L366.25,600.48 L366.00,600.61 L365.75,601.50 L365.50,601.63 L365.25,602.11 L365.00,602.23 L364.75,601.52 L364.50,601.65 L364.25,602.65 L364.00,602.78 L363.75,602.69 L363.50,602.69 L363.25,601.97 L363.00,601.79 L362.75,601.49 L362.50,601.30 L362.25,601.89 L362.00,601.70 L361.75,601.60 L361.50,601.48 L361.25,601.12 L361.00,601.12 L360.75,600.15 L360.50,600.15 L360.25,600.29 L360.00,600.29 L359.75,600.89 L359.50,600.89 L359.25,600.67 L359.00,600.67 L358.75,600.35 L358.50,600.35 L358.25,600.61 L358.00,600.61 L357.75,601.43 L357.50,601.43 L357.25,601.05 L357.00,601.05 L356.75,600.89 L356.50,600.89 L356.25,601.23 L356.00,601.23 L355.75,600.71 L355.50,600.71 L355.25,600.43 L355.00,600.43 L354.75,600.16 L354.50,600.31 L354.25,601.77 L354.00,601.96 L353.75,601.16 L353.50,601.35 L353.25,602.19 L353.00,602.38 L352.75,602.63 L352.50,602.52 L352.25,601.70 L352.00,601.51 L351.75,601.19 L351.50,601.01 L351.25,601.12 L351.00,600.93 L350.75,601.05 L350.50,601.02 L350.25,600.88 L350.00,600.88 L349.75,600.45 L349.50,600.45 L349.25,600.13 L349.00,600.13 L348.75,601.06 L348.50,601.06 L348.25,600.89 L348.00,600.89 L347.75,601.07 L347.50,601.07 L347.25,600.54 L347.00,600.54 L346.75,600.27 L346.50,600.27 L346.25,600.14 L346.00,600.14 L345.75,600.82 L345.50,601.02 L345.25,601.93 L345.00,602.19 L344.75,601.87 L344.50,602.13 L344.25,602.67 L344.00,602.93 L343.75,603.43 L343.50,603.69 L343.25,602.97 L343.00,603.23 L342.75,604.40 L342.50,604.03 L342.25,603.43 L342.00,603.05 L341.75,602.36 L341.50,601.99 L341.25,601.74 L341.00,601.36 L340.75,600.35 L340.50,600.35 L340.25,600.43 L340.00,600.43 L339.75,600.53 L339.50,600.53 L339.25,600.34 L339.00,600.34 L338.75,600.67 L338.50,600.67 L338.25,600.14 L338.00,600.14 L337.75,600.57 L337.50,600.57 L337.25,601.24 L337.00,601.24 L336.75,601.06 L336.50,601.25 L336.25,601.71 L336.00,601.90 L335.75,601.80 L335.50,601.98 L335.25,601.39 L335.00,601.58 L334.75,602.00 L334.50,602.00 L334.25,601.66 L334.00,601.66 L333.75,602.44 L333.50,602.44 L333.25,602.46 L333.00,602.46 L332.75,602.40 L332.50,602.40 L332.25,602.88 L332.00,602.88 L331.75,601.54 L331.50,601.16 L331.25,601.41 L331.00,601.02 L330.75,601.18 L330.50,600.79 L330.25,600.02 L330.00,599.64 L329.75,599.43 L329.50,599.04 L329.25,598.62 L329.00,598.23 L328.75,597.48 L328.50,597.48 L328.25,598.00 L328.00,598.00 L327.75,597.86 L327.50,597.98 L327.25,598.76 L327.00,598.89 L326.75,598.02 L326.50,598.15 L326.25,599.22 L326.00,599.35 L325.75,599.06 L325.50,599.19 L325.25,598.95 L325.00,599.08 L324.75,599.88 L324.50,600.01 L324.25,599.36 L324.00,599.49 L323.75,599.91 L323.50,600.04 L323.25,599.81 L323.00,599.93 L322.75,600.49 L322.50,600.49 L322.25,600.57 L322.00,600.57 L321.75,599.89 L321.50,599.89 L321.25,599.95 L321.00,599.95 L320.75,600.15 L320.50,600.15 L320.25,600.99 L320.00,600.99 L319.75,600.08 L319.50,600.08 L319.25,600.11 L319.00,600.11 L318.75,600.86 L318.50,600.86 L318.25,599.78 L318.00,599.78 L317.75,600.91 L317.50,600.91 L317.25,600.24 L317.00,600.24 L316.75,600.02 L316.50,600.02 L316.25,600.96 L316.00,600.96 L315.75,600.43 L315.50,600.43 L315.25,600.40 L315.00,600.40 L314.75,599.93 L314.50,600.12 L314.25,601.22 L314.00,601.41 L313.75,601.53 L313.50,601.72 L313.25,601.19 L313.00,601.37 L312.75,602.11 L312.50,602.05 L312.25,601.35 L312.00,601.28 L311.75,601.50 L311.50,601.43 L311.25,601.73 L311.00,601.66 L310.75,601.07 L310.50,601.00 L310.25,600.70 L310.00,600.64 L309.75,600.55 L309.50,600.48 L309.25,601.28 L309.00,601.21 L308.75,601.28 L308.50,601.21 L308.25,600.06 L308.00,599.99 L307.75,600.64 L307.50,600.56 L307.25,600.31 L307.00,600.23 L306.75,599.99 L306.50,599.92 L306.25,600.14 L306.00,600.07 L305.75,600.01 L305.50,600.01 L305.25,599.85 L305.00,599.97 L304.75,600.66 L304.50,600.79 L304.25,600.07 L304.00,600.19 L303.75,601.17 L303.50,601.29 L303.25,600.50 L303.00,600.62 L302.75,601.77 L302.50,601.90 L302.25,601.02 L302.00,601.15 L301.75,601.31 L301.50,601.38 L301.25,602.42 L301.00,602.42 L300.75,601.75 L300.50,601.75 L300.25,601.93 L300.00,601.93 L299.75,602.33 L299.50,602.33 L299.25,601.27 L299.00,601.27 L298.75,601.91 L298.50,601.91 L298.25,602.16 L298.00,602.16 L297.75,601.14 L297.50,601.14 L297.25,601.99 L297.00,601.99 L296.75,602.18 L296.50,602.18 L296.25,601.10 L296.00,601.10 L295.75,602.30 L295.50,602.20 L295.25,600.81 L295.00,600.56 L294.75,601.42 L294.50,601.17 L294.25,599.76 L294.00,599.51 L293.75,600.23 L293.50,600.08 L293.25,600.27 L293.00,600.27 L292.75,600.20 L292.50,600.20 L292.25,599.98 L292.00,599.98 L291.75,600.00 L291.50,600.00 L291.25,599.81 L291.00,599.81 L290.75,600.36 L290.50,600.36 L290.25,599.32 L290.00,599.32 L289.75,599.44 L289.50,599.44 L289.25,600.45 L289.00,600.45 L288.75,599.92 L288.50,599.92 L288.25,600.00 L288.00,600.00 L287.75,599.67 L287.50,600.03 L287.25,601.30 L287.00,601.75 L286.75,601.16 L286.50,601.61 L286.25,602.32 L286.00,602.77 L285.75,603.32 L285.50,603.77 L285.25,604.29 L285.00,604.06 L284.75,603.96 L284.50,603.56 L284.25,602.87 L284.00,602.47 L283.75,601.45 L283.50,601.05 L283.25,601.80 L283.00,601.40 L282.75,599.84 L282.50,599.76 L282.25,600.77 L282.00,600.77 L281.75,599.98 L281.50,599.98 L281.25,599.90 L281.00,599.90 L280.75,599.71 L280.50,599.71 L280.25,600.81 L280.00,600.81 L279.75,599.99 L279.50,599.99 L279.25,599.66 L279.00,599.66 L278.75,600.86 L278.50,600.86 L278.25,599.77 L278.00,599.77 L277.75,599.73 L277.50,599.73 L277.25,600.09 L277.00,600.09 L276.75,600.56 L276.50,600.56 L276.25,599.84 L276.00,599.84 L275.75,600.59 L275.50,600.59 L275.25,600.09 L275.00,600.09 L274.75,600.14 L274.50,600.73 L274.25,601.42 L274.00,602.00 L273.75,602.44 L273.50,603.02 L273.25,603.53 L273.00,602.86 L272.75,602.02 L272.50,601.36 L272.25,601.30 L272.00,600.64 L271.75,599.28 L271.50,599.28 L271.25,599.48 L271.00,599.48 L270.75,599.35 L270.50,599.35 L270.25,599.44 L270.00,599.44 L269.75,600.08 L269.50,600.08 L269.25,599.45 L269.00,599.45 L268.75,599.76 L268.50,599.76 L268.25,599.32 L268.00,599.32 L267.75,600.37 L267.50,600.37 L267.25,600.43 L267.00,600.43 L266.75,599.97 L266.50,599.97 L266.25,599.39 L266.00,599.39 L265.75,600.47 L265.50,600.47 L265.25,599.59 L265.00,599.59 L264.75,599.60 L264.50,599.60 L264.25,600.43 L264.00,600.43 L263.75,599.35 L263.50,599.35 L263.25,599.33 L263.00,599.33 L262.75,599.40 L262.50,599.84 L262.25,600.92 L262.00,601.36 L261.75,602.39 L261.50,602.83 L261.25,602.62 L261.00,603.06 L260.75,603.34 L260.50,603.08 L260.25,602.17 L260.00,601.91 L259.75,602.13 L259.50,601.86 L259.25,602.15 L259.00,601.89 L258.75,601.14 L258.50,601.14 L258.25,600.69 L258.00,600.69 L257.75,601.42 L257.50,601.42 L257.25,601.46 L257.00,601.46 L256.75,600.87 L256.50,600.87 L256.25,601.28 L256.00,601.28 L255.75,601.75 L255.50,601.75 L255.25,601.93 L255.00,601.93 L254.75,601.46 L254.50,601.46 L254.25,601.08 L254.00,601.08 L253.75,601.95 L253.50,601.95 L253.25,600.94 L253.00,600.94 L252.75,601.80 L252.50,601.80 L252.25,600.82 L252.00,600.82 L251.75,601.61 L251.50,601.61 L251.25,601.51 L251.00,601.51 L250.75,601.20 L250.50,601.51 L250.25,602.67 L250.00,602.99 L249.75,602.74 L249.50,603.05 L249.25,602.80 L249.00,603.11 L248.75,603.58 L248.50,603.20 L248.25,602.43 L248.00,602.06 L247.75,602.06 L247.50,601.68 L247.25,601.45 L247.00,601.08 L246.75,600.97 L246.50,600.92 L246.25,601.29 L246.00,601.24 L245.75,600.61 L245.50,600.56 L245.25,600.04 L245.00,599.99 L244.75,599.76 L244.50,599.71 L244.25,600.34 L244.00,600.29 L243.75,600.62 L243.50,600.61 L243.25,600.30 L243.00,600.28 L242.75,599.59 L242.50,599.57 L242.25,600.41 L242.00,600.40 L241.75,599.50 L241.50,599.48 L241.25,599.41 L241.00,599.39 L240.75,600.38 L240.50,600.37 L240.25,599.78 L240.00,599.76 L239.75,599.72 L239.50,599.70 L239.25,600.53 L239.00,600.51 L238.75,599.72 L238.50,600.03 L238.25,600.42 L238.00,601.22 L237.75,602.35 L237.50,603.15 L237.25,603.73 L237.00,604.53 L236.75,605.93 L236.50,606.11 L236.25,605.66 L236.00,604.92 L235.75,603.28 L235.50,602.54 L235.25,602.44 L235.00,601.71 L234.75,601.05 L234.50,600.61 L234.25,600.46 L234.00,600.46 L233.75,600.97 L233.50,600.97 L233.25,600.04 L233.00,600.04 L232.75,600.67 L232.50,600.67 L232.25,600.98 L232.00,600.98 L231.75,600.92 L231.50,600.92 L231.25,600.87 L231.00,600.87 L230.75,599.73 L230.50,599.73 L230.25,600.60 L230.00,600.60 L229.75,600.38 L229.50,600.38 L229.25,600.48 L229.00,600.48 L228.75,599.68 L228.50,599.68 L228.25,600.59 L228.00,600.59 L227.75,599.73 L227.50,599.73 L227.25,600.45 L227.00,600.45 L226.75,600.83 L226.50,600.83 L226.25,599.66 L226.00,599.66 L225.75,599.79 L225.50,600.19 L225.25,601.59 L225.00,602.09 L224.75,602.44 L224.50,602.94 L224.25,603.41 L224.00,603.31 L223.75,602.35 L223.50,602.10 L223.25,602.13 L223.00,601.88 L222.75,601.95 L222.50,601.70 L222.25,601.79 L222.00,601.54 L221.75,601.13 L221.50,601.08 L221.25,600.61 L221.00,600.61 L220.75,601.06 L220.50,601.06 L220.25,600.17 L220.00,600.17 L219.75,600.48 L219.50,600.48 L219.25,600.40 L219.00,600.40 L218.75,600.54 L218.50,600.54 L218.25,600.87 L218.00,600.87 L217.75,600.24 L217.50,600.24 L217.25,601.38 L217.00,601.38 L216.75,601.45 L216.50,601.45 L216.25,600.12 L216.00,600.12 L215.75,600.75 L215.50,600.75 L215.25,600.69 L215.00,600.69 L214.75,600.25 L214.50,600.25 L214.25,600.99 L214.00,600.99 L213.75,601.40 L213.50,601.60 L213.25,601.18 L213.00,601.44 L212.75,601.41 L212.50,601.67 L212.25,602.23 L212.00,602.49 L211.75,603.29 L211.50,603.55 L211.25,603.06 L211.00,602.86 L210.75,602.72 L210.50,602.52 L210.25,602.31 L210.00,602.11 L209.75,602.08 L209.50,601.88 L209.25,601.67 L209.00,601.47 L208.75,601.88 L208.50,601.88 L208.25,601.10 L208.00,601.10 L207.75,601.63 L207.50,601.63 L207.25,601.55 L207.00,601.55 L206.75,600.90 L206.50,600.90 L206.25,600.62 L206.00,600.62 L205.75,600.94 L205.50,600.94 L205.25,601.32 L205.00,601.32 L204.75,601.77 L204.50,601.77 L204.25,600.90 L204.00,600.90 L203.75,600.88 L203.50,600.88 L203.25,601.94 L203.00,601.94 L202.75,601.78 L202.50,601.78 L202.25,601.81 L202.00,601.81 L201.75,600.71 L201.50,601.21 L201.25,602.70 L201.00,603.20 L200.75,603.38 L200.50,603.88 L200.25,604.03 L200.00,604.03 L199.75,603.74 L199.50,603.74 L199.25,604.72 L199.00,604.72 L198.75,604.81 L198.50,604.40 L198.25,603.42 L198.00,603.00 L197.75,602.25 L197.50,601.83 L197.25,601.97 L197.00,601.55 L196.75,600.71 L196.50,600.71 L196.25,601.81 L196.00,601.81 L195.75,600.65 L195.50,600.65 L195.25,601.85 L195.00,601.85 L194.75,601.02 L194.50,601.02 L194.25,601.09 L194.00,601.09 L193.75,601.39 L193.50,601.39 L193.25,600.69 L193.00,600.69 L192.75,601.80 L192.50,601.80 L192.25,601.23 L192.00,601.23 L191.75,601.78 L191.50,601.78 L191.25,601.98 L191.00,601.98 L190.75,600.77 L190.50,600.77 L190.25,601.87 L190.00,601.87 L189.75,600.80 L189.50,600.80 L189.25,601.02 L189.00,601.02 L188.75,601.78 L188.50,602.17 L188.25,602.32 L188.00,602.71 L187.75,602.97 L187.50,603.36 L187.25,603.92 L187.00,603.74 L186.75,603.30 L186.50,603.12 L186.25,602.77 L186.00,602.59 L185.75,603.18 L185.50,603.18 L185.25,603.05 L185.00,603.05 L184.75,602.32 L184.50,602.32 L184.25,602.42 L184.00,602.42 L183.75,603.36 L183.50,603.36 L183.25,602.60 L183.00,602.60 L182.75,603.18 L182.50,603.18 L182.25,602.35 L182.00,602.35 L181.75,603.21 L181.50,603.21 L181.25,602.26 L181.00,602.26 L180.75,603.02 L180.50,603.02 L180.25,602.28 L180.00,602.28 L179.75,602.46 L179.50,602.46 L179.25,602.90 L179.00,602.90 L178.75,602.98 L178.50,602.98 L178.25,602.85 L178.00,602.85 L177.75,602.41 L177.50,602.41 L177.25,603.02 L177.00,603.02 L176.75,603.39 L176.50,603.94 L176.25,604.76 L176.00,605.31 L175.75,605.23 L175.50,605.23 L175.25,605.13 L175.00,605.14 L174.75,605.35 L174.50,605.36 L174.25,605.41 L174.00,605.41 L173.75,605.42 L173.50,605.43 L173.25,604.39 L173.00,604.40 L172.75,604.72 L172.50,604.73 L172.25,605.25 L172.00,605.25 L171.75,605.64 L171.50,605.65 L171.25,605.61 L171.00,605.61 L170.75,605.49 L170.50,605.50 L170.25,605.77 L170.00,605.78 L169.75,605.82 L169.50,605.83 L169.25,605.69 L169.00,605.70 L168.75,605.16 L168.50,605.17 L168.25,604.91 L168.00,604.92 L167.75,605.52 L167.50,605.48 L167.25,604.95 L167.00,604.92 L166.75,605.64 L166.50,605.60 L166.25,605.34 L166.00,605.31 L165.75,605.11 L165.50,605.08 L165.25,605.31 L165.00,605.27 L164.75,604.95 L164.50,604.92 L164.25,604.92 L164.00,604.89 L163.75,605.19 L163.50,605.16 L163.25,604.66 L163.00,604.62 L162.75,604.97 L162.50,604.93 L162.25,604.85 L162.00,604.81 L161.75,604.81 L161.50,604.86 L161.25,604.94 L161.00,604.98 L160.75,604.27 L160.50,604.31 L160.25,604.39 L160.00,604.43 L159.75,604.82 L159.50,604.86 L159.25,605.50 L159.00,605.55 L158.75,605.60 L158.50,605.65 L158.25,605.44 L158.00,605.48 L157.75,605.28 L157.50,605.33 L157.25,605.37 L157.00,605.42 L156.75,605.02 L156.50,605.06 L156.25,605.65 L156.00,605.70 L155.75,605.03 L155.50,604.99 L155.25,605.41 L155.00,605.37 L154.75,605.27 L154.50,605.22 L154.25,604.66 L154.00,604.62 L153.75,605.48 L153.50,605.44 L153.25,605.02 L153.00,604.98 L152.75,604.60 L152.50,604.56 L152.25,604.80 L152.00,604.75 L151.75,604.71 L151.50,604.67 L151.25,604.26 L151.00,604.22 L150.75,605.24 L150.50,605.20 L150.25,604.44 L150.00,604.40 L149.75,605.18 L149.50,605.23 L149.25,605.23 L149.00,605.28 L148.75,604.89 L148.50,604.95 L148.25,605.39 L148.00,605.44 L147.75,604.52 L147.50,604.57 L147.25,605.67 L147.00,605.73 L146.75,605.51 L146.50,605.56 L146.25,604.91 L146.00,604.97 L145.75,605.17 L145.50,605.22 L145.25,606.22 L145.00,606.27 L144.75,605.61 L144.50,605.67 L144.25,606.37 L144.00,606.43 L143.75,605.36 L143.50,605.31 L143.25,605.33 L143.00,605.28 L142.75,605.44 L142.50,605.39 L142.25,605.67 L142.00,605.62 L141.75,604.85 L141.50,604.80 L141.25,605.02 L141.00,604.97 L140.75,604.74 L140.50,604.69 L140.25,605.34 L140.00,605.29 L139.75,605.19 L139.50,605.14 L139.25,604.90 L139.00,604.85 L138.75,604.30 L138.50,604.25 L138.25,604.25 L138.00,604.20 L137.75,604.14 L137.50,604.18 L137.25,604.88 L137.00,604.92 L136.75,604.83 L136.50,604.87 L136.25,604.90 L136.00,604.94 L135.75,605.33 L135.50,605.37 L135.25,604.97 L135.00,605.02 L134.75,605.62 L134.50,605.66 L134.25,605.36 L134.00,605.40 L133.75,605.00 L133.50,605.04 L133.25,605.54 L133.00,605.58 L132.75,605.57 L132.50,605.61 L132.25,605.92 L132.00,605.97 L131.75,605.80 L131.50,605.75 L131.25,605.33 L131.00,605.28 L130.75,605.15 L130.50,605.10 L130.25,604.79 L130.00,604.74 L129.75,605.55 L129.50,605.50 L129.25,604.85 L129.00,604.80 L128.75,605.03 L128.50,604.98 L128.25,605.17 L128.00,605.12 L127.75,604.89 L127.50,604.84 L127.25,605.03 L127.00,604.98 L126.75,604.08 L126.50,604.03 L126.25,603.85 L126.00,603.80 L125.75,603.82 L125.50,603.87 L125.25,603.92 L125.00,603.97 L124.75,604.13 L124.50,604.18 L124.25,605.34 L124.00,605.39 L123.75,604.86 L123.50,604.91 L123.25,604.40 L123.00,604.45 L122.75,605.27 L122.50,605.32 L122.25,605.82 L122.00,605.87 L121.75,605.53 L121.50,605.58 L121.25,605.63 L121.00,605.68 L120.75,605.59 L120.50,605.64 L120.25,606.13 L120.00,606.18 L119.75,605.49 L119.50,605.45 L119.25,605.16 L119.00,605.12 L118.75,605.55 L118.50,605.51 L118.25,605.95 L118.00,605.91 L117.75,605.74 L117.50,605.69 L117.25,604.46 L117.00,604.41 L116.75,604.83 L116.50,604.79 L116.25,604.83 L116.00,604.79 L115.75,604.74 L115.50,604.69 L115.25,604.47 L115.00,604.43 L114.75,604.50 L114.50,604.45 L114.25,604.25 L114.00,604.21 L113.75,603.96 L113.50,604.01 L113.25,604.99 L113.00,605.04 L112.75,605.09 L112.50,605.14 L112.25,605.25 L112.00,605.30 L111.75,605.36 L111.50,605.41 L111.25,605.20 L111.00,605.25 L110.75,604.81 L110.50,604.86 L110.25,604.81 L110.00,604.86 L109.75,605.32 L109.50,605.37 L109.25,605.51 L109.00,605.56 L108.75,605.45 L108.50,605.50 L108.25,605.15 L108.00,605.20 L107.75,606.31 L107.50,606.28 L107.25,606.40 L107.00,606.37 L106.75,605.64 L106.50,605.61 L106.25,605.04 L106.00,605.00 L105.75,605.34 L105.50,605.31 L105.25,605.67 L105.00,605.64 L104.75,605.87 L104.50,605.84 L104.25,605.09 L104.00,605.06 L103.75,605.21 L103.50,605.18 L103.25,605.01 L103.00,604.98 L102.75,605.00 L102.50,604.97 L102.25,605.32 L102.00,605.29 L101.75,604.42 L101.50,604.46 L101.25,605.54 L101.00,605.58 L100.75,605.05 L100.50,605.09 L100.25,604.61 L100.00,604.65 L99.75,605.66 L99.50,605.71 L99.25,604.76 L99.00,604.80 L98.75,604.89 L98.50,604.93 L98.25,605.25 L98.00,605.29 L97.75,606.01 L97.50,606.06 L97.25,605.88 L97.00,605.92 L96.75,605.22 L96.50,605.26 L96.25,606.57 L96.00,606.61 L95.75,606.55 L95.50,606.50 L95.25,605.44 L95.00,605.39 L94.75,605.89 L94.50,605.84 L94.25,605.45 L94.00,605.40 L93.75,605.88 L93.50,605.83 L93.25,605.74 L93.00,605.69 L92.75,605.57 L92.50,605.52 L92.25,604.82 L92.00,604.77 L91.75,605.04 L91.50,604.99 L91.25,604.52 L91.00,604.47 L90.75,605.23 L90.50,605.18 L90.25,605.34 L90.00,605.29 L89.75,605.02 L89.50,605.06 L89.25,604.36 L89.00,604.41 L88.75,605.23 L88.50,605.27 L88.25,604.51 L88.00,604.56 L87.75,605.66 L87.50,605.70 L87.25,605.94 L87.00,605.99 L86.75,605.58 L86.50,605.63 L86.25,605.49 L86.00,605.54 L85.75,605.31 L85.50,605.36 L85.25,605.63 L85.00,605.67 L84.75,605.98 L84.50,606.03 L84.25,605.91 L84.00,605.96 L83.75,606.24 L83.50,606.18 L83.25,606.11 L83.00,606.05 L82.75,605.50 L82.50,605.45 L82.25,605.44 L82.00,605.38 L81.75,604.94 L81.50,604.89 L81.25,604.88 L81.00,604.83 L80.75,604.62 L80.50,604.57 L80.25,604.65 L80.00,604.59 L79.75,604.61 L79.50,604.55 L79.25,604.84 L79.00,604.78 L78.75,604.50 L78.50,604.44 L78.25,605.20 L78.00,605.15 L77.75,604.87 L77.50,604.93 L77.25,605.18 L77.00,605.24 L76.75,604.76 L76.50,604.82 L76.25,604.38 L76.00,604.44 L75.75,605.29 L75.50,605.35 L75.25,605.31 L75.00,605.37 L74.75,605.44 L74.50,605.50 L74.25,606.12 L74.00,606.18 L73.75,605.41 L73.50,605.47 L73.25,605.58 L73.00,605.64 L72.75,606.13 L72.50,606.08 L72.25,605.38 L72.00,605.33 L71.75,605.19 L71.50,605.14 L71.25,605.74 L71.00,605.69 L70.75,605.62 L70.50,605.57 L70.25,604.70 L70.00,604.65 L69.75,604.62 L69.50,604.57 L69.25,604.38 L69.00,604.33 L68.75,604.95 L68.50,604.90 L68.25,604.50 L68.00,604.45 L67.75,604.82 L67.50,604.89 L67.25,605.40 L67.00,605.48 L66.75,604.62 L66.50,604.69 L66.25,606.02 L66.00,606.09 L65.75,605.71 L65.50,605.79 L65.25,605.93 L65.00,606.01 L64.75,605.52 L64.50,605.59 L64.25,605.89 L64.00,605.96 L63.75,606.44 L63.50,606.40 L63.25,605.34 L63.00,605.30 L62.75,605.29 L62.50,605.24 L62.25,605.95 L62.00,605.91 L61.75,605.98 L61.50,605.94 L61.25,605.05 L61.00,605.01 L60.75,604.84 L60.50,604.80 L60.25,605.43 L60.00,605.39 L59.75,603.97 L59.50,599.17 L59.25,595.02 L59.00,595.02 L58.75,596.03 L58.50,596.03 L58.25,595.95 L58.00,595.95Z"/>
<path fill="none" stroke="#000" stroke-width="0.95" d="M45.85,32.00H684.60V148.80H45.85ZM46.30,148.80v3.5M100.43,148.80v3.5M151.06,148.80v3.5M205.19,148.80v3.5M257.57,148.80v3.5M311.69,148.80v3.5M364.07,148.80v3.5M418.20,148.80v3.5M472.32,148.80v3.5M524.70,148.80v3.5M578.83,148.80v3.5M631.21,148.80v3.5M55.03,148.80v2M67.25,148.80v2M79.47,148.80v2M91.70,148.80v2M103.92,148.80v2M116.14,148.80v2M128.36,148.80v2M140.58,148.80v2M152.81,148.80v2M165.03,148.80v2M177.25,148.80v2M189.47,148.80v2M201.69,148.80v2M213.92,148.80v2M226.14,148.80v2M238.36,148.80v2M250.58,148.80v2M262.80,148.80v2M275.03,148.80v2M287.25,148.80v2M299.47,148.80v2M323.91,148.80v2M336.14,148.80v2M348.36,148.80v2M360.58,148.80v2M372.80,148.80v2M385.02,148.80v2M397.25,148.80v2M409.47,148.80v2M421.69,148.80v2M433.91,148.80v2M446.13,148.80v2M458.36,148.80v2M470.58,148.80v2M482.80,148.80v2M495.02,148.80v2M507.24,148.80v2M519.47,148.80v2M531.69,148.80v2M543.91,148.80v2M556.13,148.80v2M568.35,148.80v2M580.58,148.80v2M592.80,148.80v2M605.02,148.80v2M617.24,148.80v2M629.46,148.80v2M641.69,148.80v2M653.91,148.80v2M666.13,148.80v2M678.35,148.80v2M45.85,186.40H684.60V303.20H45.85ZM46.30,303.20v3.5M100.43,303.20v3.5M151.06,303.20v3.5M205.19,303.20v3.5M257.57,303.20v3.5M311.69,303.20v3.5M364.07,303.20v3.5M418.20,303.20v3.5M472.32,303.20v3.5M524.70,303.20v3.5M578.83,303.20v3.5M631.21,303.20v3.5M55.03,303.20v2M67.25,303.20v2M79.47,303.20v2M91.70,303.20v2M103.92,303.20v2M116.14,303.20v2M128.36,303.20v2M140.58,303.20v2M152.81,303.20v2M165.03,303.20v2M177.25,303.20v2M189.47,303.20v2M201.69,303.20v2M213.92,303.20v2M226.14,303.20v2M238.36,303.20v2M250.58,303.20v2M262.80,303.20v2M275.03,303.20v2M287.25,303.20v2M299.47,303.20v2M323.91,303.20v2M336.14,303.20v2M348.36,303.20v2M360.58,303.20v2M372.80,303.20v2M385.02,303.20v2M397.25,303.20v2M409.47,303.20v2M421.69,303.20v2M433.91,303.20v2M446.13,303.20v2M458.36,303.20v2M470.58,303.20v2M482.80,303.20v2M495.02,303.20v2M507.24,303.20v2M519.47,303.20v2M531.69,303.20v2M543.91,303.20v2M556.13,303.20v2M568.35,303.20v2M580.58,303.20v2M592.80,303.20v2M605.02,303.20v2M617.24,303.20v2M629.46,303.20v2M641.69,303.20v2M653.91,303.20v2M666.13,303.20v2M678.35,303.20v2M45.85,340.80H684.60V457.60H45.85ZM46.30,457.60v3.5M100.43,457.60v3.5M151.06,457.60v3.5M205.19,457.60v3.5M257.57,457.60v3.5M311.69,457.60v3.5M364.07,457.60v3.5M418.20,457.60v3.5M472.32,457.60v3.5M524.70,457.60v3.5M578.83,457.60v3.5M631.21,457.60v3.5M55.03,457.60v2M67.25,457.60v2M79.47,457.60v2M91.70,457.60v2M103.92,457.60v2M116.14,457.60v2M128.36,457.60v2M140.58,457.60v2M152.81,457.60v2M165.03,457.60v2M177.25,457.60v2M189.47,457.60v2M201.69,457.60v2M213.92,457.60v2M226.14,457.60v2M238.36,457.60v2M250.58,457.60v2M262.80,457.60v2M275.03,457.60v2M287.25,457.60v2M299.47,457.60v2M323.91,457.60v2M336.14,457.60v2M348.36,457.60v2M360.58,457.60v2M372.80,457.60v2M385.02,457.60v2M397.25,457.60v2M409.47,457.60v2M421.69,457.60v2M433.91,457.60v2M446.13,457.60v2M458.36,457.60v2M470.58,457.60v2M482.80,457.60v2M495.02,457.60v2M507.24,457.60v2M519.47,457.60v2M531.69,457.60v2M543.91,457.60v2M556.13,457.60v2M568.35,457.60v2M580.58,457.60v2M592.80,457.60v2M605.02,457.60v2M617.24,457.60v2M629.46,457.60v2M641.69,457.60v2M653.91,457.60v2M666.13,457.60v2M678.35,457.60v2M45.85,495.20H684.60V612.60H45.85ZM46.30,612.60v3.5M100.43,612.60v3.5M151.06,612.60v3.5M205.19,612.60v3.5M257.57,612.60v3.5M311.69,612.60v3.5M364.07,612.60v3.5M418.20,612.60v3.5M472.32,612.60v3.5M524.70,612.60v3.5M578.83,612.60v3.5M631.21,612.60v3.5M55.03,612.60v2M67.25,612.60v2M79.47,612.60v2M91.70,612.60v2M103.92,612.60v2M116.14,612.60v2M128.36,612.60v2M140.58,612.60v2M152.81,612.60v2M165.03,612.60v2M177.25,612.60v2M189.47,612.60v2M201.69,612.60v2M213.92,612.60v2M226.14,612.60v2M238.36,612.60v2M250.58,612.60v2M262.80,612.60v2M275.03,612.60v2M287.25,612.60v2M299.47,612.60v2M323.91,612.60v2M336.14,612.60v2M348.36,612.60v2M360.58,612.60v2M372.80,612.60v2M385.02,612.60v2M397.25,612.60v2M409.47,612.60v2M421.69,612.60v2M433.91,612.60v2M446.13,612.60v2M458.36,612.60v2M470.58,612.60v2M482.80,612.60v2M495.02,612.60v2M507.24,612.60v2M519.47,612.60v2M531.69,612.60v2M543.91,612.60v2M556.13,612.60v2M568.35,612.60v2M580.58,612.60v2M592.80,612.60v2M605.02,612.60v2M617.24,612.60v2M629.46,612.60v2M641.69,612.60v2M653.91,612.60v2M666.13,612.60v2M678.35,612.60v2"/>
<text x="37.6" y="138.50" font-family='"Liberation Sans", sans-serif' font-size="11" text-anchor="end" fill="#000" stroke="#000" stroke-width="0.25">20</text>
<text x="37.6" y="92.80" font-family='"Liberation Sans", sans-serif' font-size="11" text-anchor="end" fill="#000" stroke="#000" stroke-width="0.25">40</text>
<text x="37.6" y="47.10" font-family='"Liberation Sans", sans-serif' font-size="11" text-anchor="end" fill="#000" stroke="#000" stroke-width="0.25">60</text>
<text x="37.6" y="285.26" font-family='"Liberation Sans", sans-serif' font-size="11" text-anchor="end" fill="#000" stroke="#000" stroke-width="0.25">18</text>
<text x="37.6" y="256.03" font-family='"Liberation Sans", sans-serif' font-size="11" text-anchor="end" fill="#000" stroke="#000" stroke-width="0.25">19</text>
<text x="37.6" y="226.80" font-family='"Liberation Sans", sans-serif' font-size="11" text-anchor="end" fill="#000" stroke="#000" stroke-width="0.25">20</text>
<text x="37.6" y="197.57" font-family='"Liberation Sans", sans-serif' font-size="11" text-anchor="end" fill="#000" stroke="#000" stroke-width="0.25">21</text>
<text x="37.6" y="459.47" font-family='"Liberation Sans", sans-serif' font-size="11" text-anchor="end" fill="#000" stroke="#000" stroke-width="0.25">0.98</text>
<text x="37.6" y="435.20" font-family='"Liberation Sans", sans-serif' font-size="11" text-anchor="end" fill="#000" stroke="#000" stroke-width="0.25">1.00</text>
<text x="37.6" y="410.93" font-family='"Liberation Sans", sans-serif' font-size="11" text-anchor="end" fill="#000" stroke="#000" stroke-width="0.25">1.02</text>
<text x="37.6" y="386.66" font-family='"Liberation Sans", sans-serif' font-size="11" text-anchor="end" fill="#000" stroke="#000" stroke-width="0.25">1.04</text>
<text x="37.6" y="362.39" font-family='"Liberation Sans", sans-serif' font-size="11" text-anchor="end" fill="#000" stroke="#000" stroke-width="0.25">1.06</text>
<text x="37.6" y="599.60" font-family='"Liberation Sans", sans-serif' font-size="11" text-anchor="end" fill="#000" stroke="#000" stroke-width="0.25">1.0</text>
<text x="37.6" y="565.00" font-family='"Liberation Sans", sans-serif' font-size="11" text-anchor="end" fill="#000" stroke="#000" stroke-width="0.25">1.5</text>
<text x="37.6" y="530.40" font-family='"Liberation Sans", sans-serif' font-size="11" text-anchor="end" fill="#000" stroke="#000" stroke-width="0.25">2.0</text>
<path fill="none" stroke="#000" stroke-width="0.95" d="M42.35,134.40h3.5M42.35,88.70h3.5M42.35,43.00h3.5M42.35,281.16h3.5M42.35,251.93h3.5M42.35,222.70h3.5M42.35,193.47h3.5M42.35,455.37h3.5M42.35,431.10h3.5M42.35,406.83h3.5M42.35,382.56h3.5M42.35,358.29h3.5M42.35,595.50h3.5M42.35,560.90h3.5M42.35,526.30h3.5"/>
<text transform="translate(18.4,91.4) rotate(-90)" font-family='"Liberation Sans", sans-serif' font-size="11" text-anchor="middle" fill="#000" stroke="#000" stroke-width="0.25">Observed</text>
<text transform="translate(18.3,245.0) rotate(-90)" font-family='"Liberation Sans", sans-serif' font-size="11" text-anchor="middle" fill="#000" stroke="#000" stroke-width="0.25">Trend</text>
<text transform="translate(9.1,400.2) rotate(-90)" font-family='"Liberation Sans", sans-serif' font-size="11" text-anchor="middle" fill="#000" stroke="#000" stroke-width="0.25">Seasonal</text>
<text transform="translate(15.5,555.6) rotate(-90)" font-family='"Liberation Sans", sans-serif' font-size="11" text-anchor="middle" fill="#000" stroke="#000" stroke-width="0.25">Residual</text>
<text x="46.30" y="628.1" font-family='"Liberation Sans", sans-serif' font-size="11" text-anchor="middle" fill="#000" stroke="#000" stroke-width="0.25">Jan</text>
<text x="100.43" y="628.1" font-family='"Liberation Sans", sans-serif' font-size="11" text-anchor="middle" fill="#000" stroke="#000" stroke-width="0.25">Feb</text>
<text x="151.06" y="628.1" font-family='"Liberation Sans", sans-serif' font-size="11" text-anchor="middle" fill="#000" stroke="#000" stroke-width="0.25">Mar</text>
<text x="205.19" y="628.1" font-family='"Liberation Sans", sans-serif' font-size="11" text-anchor="middle" fill="#000" stroke="#000" stroke-width="0.25">Apr</text>
<text x="257.57" y="628.1" font-family='"Liberation Sans", sans-serif' font-size="11" text-anchor="middle" fill="#000" stroke="#000" stroke-width="0.25">May</text>
<text x="311.69" y="628.1" font-family='"Liberation Sans", sans-serif' font-size="11" text-anchor="middle" fill="#000" stroke="#000" stroke-width="0.25">Jun</text>
<text x="364.07" y="628.1" font-family='"Liberation Sans", sans-serif' font-size="11" text-anchor="middle" fill="#000" stroke="#000" stroke-width="0.25">Jul</text>
<text x="418.20" y="628.1" font-family='"Liberation Sans", sans-serif' font-size="11" text-anchor="middle" fill="#000" stroke="#000" stroke-width="0.25">Aug</text>
<text x="472.32" y="628.1" font-family='"Liberation Sans", sans-serif' font-size="11" text-anchor="middle" fill="#000" stroke="#000" stroke-width="0.25">Sep</text>
<text x="524.70" y="628.1" font-family='"Liberation Sans", sans-serif' font-size="11" text-anchor="middle" fill="#000" stroke="#000" stroke-width="0.25">Oct</text>
<text x="578.83" y="628.1" font-family='"Liberation Sans", sans-serif' font-size="11" text-anchor="middle" fill="#000" stroke="#000" stroke-width="0.25">Nov</text>
<text x="631.21" y="628.1" font-family='"Liberation Sans", sans-serif' font-size="11" text-anchor="middle" fill="#000" stroke="#000" stroke-width="0.25">Dec</text>
<text x="46.30" y="639.6" font-family='"Liberation Sans", sans-serif' font-size="11" text-anchor="middle" fill="#000" stroke="#000" stroke-width="0.25">2020</text>
<text x="365.4" y="654.2" font-family='"Liberation Sans", sans-serif' font-size="11" text-anchor="middle" fill="#000" stroke="#000" stroke-width="0.25">Month</text>
</g></svg>
</body></html>
